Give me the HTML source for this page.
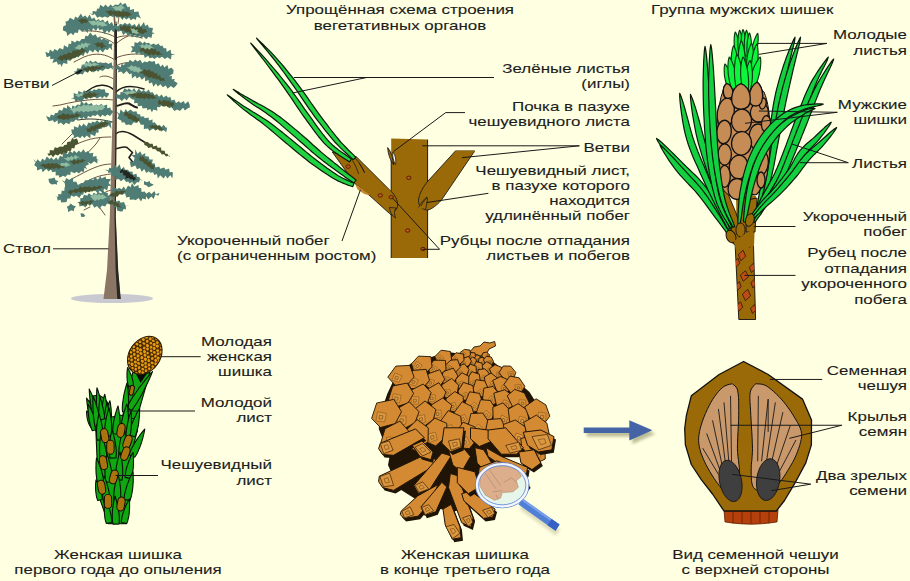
<!DOCTYPE html>
<html><head><meta charset="utf-8"><title>Сосна</title>
<style>
html,body{margin:0;padding:0;background:#ffffe1;}
svg{display:block}
text{font-family:"Liberation Sans",sans-serif;font-size:13px;fill:#1c1c1c;stroke:#1c1c1c;stroke-width:0.1px}
</style></head><body>
<svg width="910" height="581" viewBox="0 0 910 581">
<rect width="910" height="581" fill="#ffffe1"/>
<g id="tree">
<ellipse cx="112" cy="298.5" rx="41" ry="4.5" fill="#c9c9d1"/>
<path d="M115,37 C108,33 96,30 82,31" fill="none" stroke="#6e5546" stroke-width="1.0" stroke-linecap="round" stroke-linejoin="round"/>
<path d="M116,38 C122,35 132,35 142,38" fill="none" stroke="#6e5546" stroke-width="1.0" stroke-linecap="round" stroke-linejoin="round"/>
<path d="M115,44 C110,40 104,38 100,37" fill="none" stroke="#6e5546" stroke-width="1.0" stroke-linecap="round" stroke-linejoin="round"/>
<path d="M116,44 C120,40 124,38 128,36" fill="none" stroke="#6e5546" stroke-width="1.0" stroke-linecap="round" stroke-linejoin="round"/>
<path d="M115,60 C106,54 96,52 84,57 L74,62" fill="none" stroke="#6e5546" stroke-width="1.0" stroke-linecap="round" stroke-linejoin="round"/>
<path d="M116,58 C124,54 136,53 150,55" fill="none" stroke="#6e5546" stroke-width="1.0" stroke-linecap="round" stroke-linejoin="round"/>
<path d="M115,68 C108,63 102,62 96,65" fill="none" stroke="#6e5546" stroke-width="1.0" stroke-linecap="round" stroke-linejoin="round"/>
<path d="M116,66 C122,62 130,62 140,64" fill="none" stroke="#6e5546" stroke-width="1.0" stroke-linecap="round" stroke-linejoin="round"/>
<path d="M115,80 C110,76 104,75 100,77" fill="none" stroke="#6e5546" stroke-width="1.0" stroke-linecap="round" stroke-linejoin="round"/>
<path d="M113,100 C100,98 80,100 60,105 L53,106" fill="none" stroke="#6e5546" stroke-width="1.0" stroke-linecap="round" stroke-linejoin="round"/>
<path d="M113,122 C100,119 90,118 78,120" fill="none" stroke="#1e1e1c" stroke-width="0.9" stroke-linecap="round" stroke-linejoin="round"/>
<path d="M111,137 C100,137 90,138 77,144 L62,150" fill="none" stroke="#6e5546" stroke-width="1.0" stroke-linecap="round" stroke-linejoin="round"/>
<path d="M100,138 L96,144 L88.5,152" fill="none" stroke="#6e5546" stroke-width="1.0" stroke-linecap="round" stroke-linejoin="round"/>
<path d="M76,130 L70,136 L62,144" fill="none" stroke="#6e5546" stroke-width="1.0" stroke-linecap="round" stroke-linejoin="round"/>
<path d="M111,164 C100,164 90,169 70,180" fill="none" stroke="#6e5546" stroke-width="1.0" stroke-linecap="round" stroke-linejoin="round"/>
<path d="M111,174 C100,175 92,178 82,184" fill="none" stroke="#6e5546" stroke-width="1.0" stroke-linecap="round" stroke-linejoin="round"/>
<path d="M111,190 C104,192 98,196 92,204" fill="none" stroke="#6e5546" stroke-width="1.0" stroke-linecap="round" stroke-linejoin="round"/>
<path d="M84,210 L90,207" fill="none" stroke="#6e5546" stroke-width="1.0" stroke-linecap="round" stroke-linejoin="round"/>
<path d="M100,208 L105,215" fill="none" stroke="#6e5546" stroke-width="1.0" stroke-linecap="round" stroke-linejoin="round"/>
<path d="M114,90 C108,84 98,84 92,88 L84.5,93" fill="none" stroke="#1e1e1c" stroke-width="1.5" stroke-linecap="round" stroke-linejoin="round"/>
<path d="M116,92 C122,86 132,85 144,89" fill="none" stroke="#1e1e1c" stroke-width="1.5" stroke-linecap="round" stroke-linejoin="round"/>
<path d="M116,106 C120,106 124,102 129,103.5 C132,105 134,107 137,107.5" fill="none" stroke="#1e1e1c" stroke-width="2" stroke-linecap="round" stroke-linejoin="round"/>
<path d="M115.6,134 C120,130 126,131 133,135 L145,142.5" fill="none" stroke="#1e1e1c" stroke-width="1.5" stroke-linecap="round" stroke-linejoin="round"/>
<path d="M115.6,149 C120,148 124,146 127,147.5 L132.5,152.5 L129,157.5 L133.5,163" fill="none" stroke="#1e1e1c" stroke-width="1.6" stroke-linecap="round" stroke-linejoin="round"/>
<path d="M116,22 L116,40" fill="none" stroke="#1e1e1c" stroke-width="1.0" stroke-linecap="round" stroke-linejoin="round"/>
<path d="M114,12 L114.8,12 L117,40 L116.6,120 L115.6,217 L118,270 L120.5,299 L103.5,299 L107,270 L109.8,217 L112.4,120 L114,40 Z" fill="#8b7565"/>
<path d="M116,40 L116.9,40 L116.6,120 L115.8,217 L118.2,270 L120.8,299 L117.3,299 L115.6,270 L114.5,217 L115.4,120 Z" fill="#2a2826"/>
<path d="M114.4,24 L117,24 L117,60 L114.8,60Z" fill="#2a2826"/>
<path d="M119.5,12 L118,24" fill="none" stroke="#6e5546" stroke-width="0.9" stroke-linecap="round" stroke-linejoin="round"/>
<path d="M113.5,12 L114.5,24" fill="none" stroke="#6e5546" stroke-width="0.9" stroke-linecap="round" stroke-linejoin="round"/>
<path d="M89.3,13.1 L92.5,14.3 L92.7,10.9 L96.3,11.4 L97.3,8.5 L99.0,8.8 L100.3,4.7 L103.5,6.9 L105.4,4.5 L108.2,7.3 L110.5,4.4 L112.9,6.5 L115.1,4.5 L118.2,5.1 L120.8,2.3 L122.2,4.8 L125.4,3.1 L127.6,7.2 L129.7,6.6 L130.1,10.1 L134.0,8.9 L134.0,12.0 L138.6,11.5 L138.9,14.3 L140.9,18.5 L136.8,16.6 L135.6,19.9 L133.5,18.5 L130.6,20.3 L129.1,17.6 L126.5,19.4 L123.9,17.6 L122.5,20.0 L119.5,16.3 L116.9,17.9 L115.1,15.8 L112.6,16.9 L110.2,15.7 L107.8,17.8 L104.8,16.4 L102.2,17.8 L99.8,16.4 L97.2,17.8 L94.7,13.7 L92.8,15.3Z" fill="#4f7d75"/>
<path d="M131.9,14.9 L129.4,15.4 L127.5,17.3 L124.8,15.8 L122.6,18.1 L120.9,16.0 L118.9,16.9 L117.3,15.6 L114.9,16.6 L113.2,14.1 L110.4,15.9 L108.9,13.9 L105.2,11.3 L108.8,10.9 L110.9,9.9 L112.9,11.4 L115.5,10.3 L117.0,11.9 L119.2,10.6 L121.3,12.5 L123.2,10.7 L125.2,12.1 L128.0,11.4 L129.1,12.4Z" fill="#4b5432"/>
<path d="M125.3,8.2 L122.4,8.8 L121.0,11.2 L117.5,10.1 L115.6,10.7 L113.9,8.3 L110.4,7.8 L112.9,7.6 L115.5,5.9 L117.8,6.7 L121.2,4.3 L123.0,6.6Z" fill="#8fbca1"/>
<path d="M63.2,26.5 L66.0,25.1 L65.5,21.5 L68.0,21.1 L70.0,17.7 L74.0,20.0 L75.1,16.5 L77.8,18.0 L80.9,13.6 L82.8,16.9 L85.2,15.6 L87.5,17.9 L89.5,14.4 L91.8,19.1 L94.2,17.4 L96.0,20.7 L99.0,19.1 L100.0,21.3 L103.0,19.6 L104.9,22.4 L107.8,20.2 L109.1,24.2 L111.9,21.9 L113.7,26.0 L115.7,24.1 L117.9,26.6 L120.3,23.8 L122.8,24.7 L124.8,22.8 L127.2,24.6 L129.7,23.1 L131.8,25.7 L134.8,23.9 L136.4,26.9 L139.1,23.1 L140.6,26.7 L143.9,22.1 L145.2,26.1 L147.9,24.6 L148.7,27.5 L153.0,28.1 L152.1,32.2 L155.0,33.5 L152.4,33.8 L151.4,37.9 L148.4,36.7 L146.4,39.2 L143.2,36.5 L141.5,38.5 L140.0,35.9 L136.6,37.4 L135.0,34.9 L132.0,37.6 L130.3,34.3 L127.8,36.0 L126.0,32.8 L123.1,34.9 L121.5,30.7 L117.9,31.8 L115.6,29.1 L113.4,32.3 L111.3,29.8 L108.9,33.0 L107.1,30.3 L104.5,34.2 L102.2,29.2 L99.6,30.3 L98.0,27.6 L96.0,31.0 L93.1,27.9 L91.5,32.1 L88.6,29.1 L87.7,33.0 L84.5,29.8 L82.5,31.8 L78.9,29.2 L77.7,33.1 L74.9,32.4 L73.2,35.2 L71.0,33.0 L67.2,35.9 L66.5,32.1 L62.8,30.3Z" fill="#4f7d75"/>
<path d="M90.4,21.2 L88.3,21.6 L86.1,23.1 L84.6,22.5 L81.4,24.0 L80.2,22.1 L77.4,20.3 L80.0,19.5 L82.2,18.6 L83.5,19.0 L85.8,18.8 L87.3,20.2Z" fill="#4b5432"/>
<path d="M147.1,32.1 L144.6,32.8 L142.7,34.2 L140.0,33.1 L138.1,34.9 L136.2,33.4 L134.2,35.0 L132.8,33.2 L130.4,33.8 L128.7,31.7 L125.4,32.0 L124.3,30.3 L121.6,30.4 L120.0,29.2 L119.9,25.7 L121.9,26.7 L124.7,24.9 L126.6,26.5 L128.8,25.8 L131.3,27.6 L133.8,26.5 L134.8,27.7 L137.9,26.6 L138.6,28.1 L141.4,26.6 L142.5,29.4 L145.6,29.1Z" fill="#4b5432"/>
<path d="M107.8,25.8 L104.5,25.9 L102.1,26.8 L99.7,25.0 L97.8,26.7 L96.3,24.5 L93.6,25.7 L91.2,24.5 L88.0,20.7 L91.7,21.3 L93.7,20.6 L95.9,21.7 L98.8,20.4 L99.9,22.1 L102.7,21.6 L104.2,22.5Z" fill="#8fbca1"/>
<path d="M139.9,33.3 L138.2,33.4 L136.1,34.0 L133.8,33.0 L131.9,33.0 L131.7,30.9 L130.1,27.7 L132.4,29.0 L134.0,28.3 L135.2,30.3 L137.7,29.5 L137.2,31.8Z" fill="#8fbca1"/>
<path d="M45.3,51.8 L48.8,53.2 L50.0,49.4 L53.0,51.7 L54.4,48.9 L57.5,50.7 L59.5,48.1 L63.2,49.4 L64.0,45.2 L68.0,47.4 L68.6,43.7 L71.1,43.9 L71.5,40.6 L75.1,42.5 L76.8,40.5 L79.7,41.6 L81.5,38.9 L84.5,38.9 L85.4,35.8 L87.9,36.2 L90.2,32.6 L92.9,35.8 L95.5,34.3 L97.5,37.7 L99.6,36.7 L101.6,40.0 L104.1,37.8 L105.7,40.1 L109.3,40.6 L108.7,43.9 L112.5,43.6 L111.8,47.1 L112.3,50.4 L109.7,47.4 L107.3,50.3 L105.2,49.1 L102.9,52.4 L99.9,49.4 L98.3,52.8 L94.8,49.4 L93.1,52.5 L89.7,49.9 L87.6,54.1 L85.1,52.1 L83.5,55.9 L80.6,54.7 L78.4,57.4 L75.3,56.3 L74.2,58.7 L71.6,57.7 L70.5,60.9 L67.3,59.9 L67.4,64.1 L63.5,63.0 L61.2,67.1 L60.5,64.0 L58.0,64.7 L56.7,61.4 L52.4,63.1 L53.8,58.8 L50.2,59.3 L50.2,56.1 L46.7,57.3Z" fill="#4f7d75"/>
<path d="M87.2,50.9 L83.8,51.6 L83.7,53.1 L81.0,53.5 L80.4,55.5 L77.6,55.7 L75.4,57.9 L73.4,57.7 L71.2,59.7 L68.4,58.7 L66.1,60.6 L63.9,59.1 L61.7,61.7 L60.8,60.1 L56.6,59.0 L58.8,57.5 L59.9,55.4 L62.5,55.8 L64.1,54.0 L66.4,54.6 L68.7,52.2 L71.3,53.3 L73.3,50.2 L76.2,50.7 L77.9,49.0 L79.8,50.2 L81.7,47.6 L84.2,49.8Z" fill="#4b5432"/>
<path d="M91.3,43.8 L88.6,45.0 L87.7,47.5 L85.5,46.4 L83.9,48.7 L82.0,47.3 L80.4,49.5 L78.5,49.5 L74.3,48.1 L77.0,46.4 L78.6,44.4 L80.8,45.3 L81.5,42.8 L83.9,44.0 L85.8,42.3 L87.0,43.4Z" fill="#8fbca1"/>
<path d="M106.9,47.0 L103.8,46.8 L101.7,49.0 L99.6,45.9 L97.0,47.5 L96.1,45.0 L93.2,43.6 L96.3,43.5 L98.0,42.1 L100.1,43.3 L102.4,42.1 L103.6,44.5Z" fill="#4b5432"/>
<path d="M130.9,46.1 L134.3,46.6 L134.5,42.3 L137.7,43.1 L139.9,41.0 L142.8,43.8 L144.2,41.6 L146.4,43.2 L149.1,42.8 L150.6,45.0 L153.6,43.4 L156.0,45.0 L158.4,43.6 L160.3,46.0 L162.3,45.6 L163.8,48.3 L166.3,48.3 L166.7,52.0 L170.6,49.6 L171.1,53.6 L175.2,55.1 L171.6,55.1 L170.9,59.5 L167.4,57.3 L164.9,59.0 L162.1,56.8 L159.5,58.3 L157.2,57.0 L154.5,59.1 L152.5,57.4 L149.5,58.3 L148.2,55.8 L144.8,58.1 L143.6,53.8 L141.1,54.9 L139.2,52.6 L136.1,54.5 L135.1,51.7 L130.7,52.5 L132.6,48.9Z" fill="#4f7d75"/>
<path d="M163.2,55.1 L160.4,54.5 L157.7,55.5 L155.6,54.0 L153.5,55.5 L151.4,54.3 L148.8,55.4 L147.1,53.7 L144.8,53.4 L143.5,51.3 L140.2,51.5 L139.9,49.5 L142.1,46.9 L143.9,47.7 L145.7,45.8 L148.4,47.3 L150.8,46.9 L153.2,49.2 L155.8,49.0 L156.5,51.4 L159.3,51.3 L160.0,52.7Z" fill="#4b5432"/>
<path d="M154.2,48.3 L151.5,48.0 L149.4,49.8 L147.2,48.0 L145.2,49.6 L143.5,47.4 L141.5,48.3 L140.4,45.8 L138.2,44.8 L140.9,45.2 L142.7,44.3 L144.2,45.8 L146.3,43.8 L148.6,45.2 L150.3,44.0 L151.3,46.6Z" fill="#8fbca1"/>
<path d="M73.7,71.6 L76.3,71.2 L77.3,68.3 L80.8,68.7 L82.0,65.0 L84.3,64.4 L86.4,61.1 L88.4,63.1 L90.3,60.4 L92.8,62.5 L95.6,60.9 L98.2,62.9 L100.9,62.2 L103.1,64.1 L105.4,62.2 L108.2,63.9 L111.6,62.2 L112.3,66.1 L113.2,69.8 L110.8,67.8 L108.2,69.2 L105.5,68.5 L102.7,71.0 L100.0,69.8 L98.3,71.7 L95.8,70.1 L93.8,72.6 L89.9,69.7 L87.9,72.7 L84.8,71.2 L82.6,74.6 L80.1,73.8 L77.2,74.9Z" fill="#4f7d75"/>
<path d="M105.7,67.7 L102.2,67.3 L100.1,69.3 L97.0,68.9 L95.5,71.2 L93.3,70.6 L91.7,72.1 L89.6,70.2 L87.0,72.2 L85.1,69.9 L81.9,70.5 L82.3,70.5 L84.1,68.0 L86.7,68.1 L89.0,66.6 L91.1,67.3 L93.0,65.6 L94.7,66.5 L97.5,66.4 L99.3,66.9 L102.5,65.2Z" fill="#4b5432"/>
<path d="M99.8,64.5 L96.6,65.0 L94.3,66.2 L92.3,65.6 L90.4,66.8 L87.6,65.7 L85.6,66.9 L84.3,65.2 L80.4,64.9 L83.9,64.2 L85.9,62.4 L87.5,63.6 L89.6,62.3 L91.9,63.9 L94.2,62.5 L95.9,63.3Z" fill="#8fbca1"/>
<path d="M83.1,70.3 L81.6,70.9 L79.7,73.4 L77.5,73.8 L75.5,73.6 L76.0,72.8 L78.5,70.5 L81.1,69.6Z" fill="#1e1e1c"/>
<path d="M116.6,64.8 L120.6,67.2 L121.7,63.8 L124.0,65.3 L125.8,62.0 L128.3,62.4 L129.8,59.7 L133.0,61.9 L135.3,59.6 L137.4,61.5 L140.3,59.8 L142.2,63.2 L144.5,61.5 L147.2,62.3 L149.4,60.8 L151.9,61.7 L154.7,61.0 L155.6,64.5 L158.7,63.3 L160.5,66.7 L162.8,64.5 L164.3,67.6 L167.5,65.1 L168.6,69.3 L171.2,67.5 L173.6,70.0 L173.2,73.6 L169.0,76.3 L172.0,76.1 L171.7,79.2 L174.8,78.9 L174.1,81.0 L177.7,83.3 L175.8,86.0 L173.7,87.9 L170.9,86.1 L167.6,88.8 L165.8,85.6 L162.8,87.3 L160.4,84.3 L157.7,86.4 L156.1,83.6 L153.3,86.8 L152.0,82.5 L148.9,83.5 L148.7,80.0 L145.1,81.2 L145.0,76.9 L141.8,79.7 L139.7,76.4 L136.9,78.6 L135.2,75.8 L132.0,78.5 L131.6,73.2 L129.4,74.2 L126.7,71.1 L123.5,74.0 L121.2,71.5 L117.8,72.5 L118.6,70.0 L115.8,68.6Z" fill="#4f7d75"/>
<path d="M165.1,81.3 L162.3,80.5 L160.3,81.3 L158.5,78.9 L156.6,79.6 L154.5,78.2 L152.6,78.6 L151.6,77.2 L148.4,77.9 L146.7,76.1 L144.5,75.4 L142.6,73.5 L140.1,72.9 L139.7,71.0 L140.2,68.5 L142.4,70.8 L144.7,69.0 L146.7,70.7 L149.3,69.5 L151.0,71.4 L153.2,71.4 L154.9,73.5 L157.0,73.3 L157.8,75.9 L160.1,75.1 L161.0,78.2 L163.8,77.8Z" fill="#4b5432"/>
<path d="M143.1,71.1 L139.9,71.4 L138.7,73.1 L136.1,71.4 L133.9,72.1 L132.4,70.3 L131.1,71.1 L129.5,68.9 L126.9,67.4 L129.9,66.8 L131.7,65.1 L133.5,66.8 L135.9,66.0 L137.5,68.0 L138.9,66.7 L140.4,69.1Z" fill="#8fbca1"/>
<path d="M70.7,98.3 L73.8,97.8 L73.7,93.1 L77.6,94.6 L78.4,91.0 L82.6,92.7 L84.0,90.2 L86.8,92.3 L89.3,90.1 L92.2,90.9 L94.0,89.3 L96.2,90.1 L98.8,88.6 L101.2,89.6 L104.7,89.3 L105.5,92.6 L109.0,93.3 L108.7,95.0 L106.5,97.7 L104.2,95.9 L102.5,98.3 L100.3,96.6 L96.9,98.6 L94.4,96.6 L92.1,98.1 L89.3,96.9 L87.0,99.4 L84.3,98.3 L81.6,101.9 L78.4,100.4 L75.3,101.4 L74.5,99.1Z" fill="#4f7d75"/>
<path d="M99.7,93.5 L96.9,95.0 L94.9,96.9 L92.4,96.2 L90.6,98.4 L87.6,96.8 L86.0,98.7 L83.1,96.5 L79.3,96.0 L83.0,95.7 L84.4,93.2 L87.1,93.7 L89.7,92.1 L92.5,93.5 L94.3,92.2 L96.2,94.1Z" fill="#4b5432"/>
<path d="M85.5,94.1 L83.2,94.3 L82.0,96.3 L80.0,96.0 L78.8,97.5 L76.8,95.9 L74.6,95.3 L76.2,95.1 L78.3,93.3 L79.4,94.3 L81.7,92.7 L82.8,93.7Z" fill="#8fbca1"/>
<path d="M116.2,94.0 L120.2,95.1 L120.5,92.0 L122.5,92.2 L124.6,88.2 L127.2,89.9 L128.7,88.4 L132.0,90.7 L134.2,88.1 L136.3,92.0 L138.9,88.6 L141.4,91.8 L143.4,89.9 L146.0,92.0 L148.8,89.6 L150.2,92.4 L152.7,92.2 L154.6,95.3 L156.9,94.1 L159.0,96.8 L161.7,94.6 L163.6,97.6 L166.2,95.5 L168.2,97.7 L170.3,96.7 L171.5,100.4 L174.3,99.5 L176.0,103.0 L178.8,101.3 L180.7,103.1 L183.9,101.1 L185.0,104.0 L188.2,101.3 L189.6,104.5 L189.9,107.4 L188.1,108.0 L184.9,110.4 L183.1,107.8 L179.9,111.0 L177.2,109.6 L174.2,111.1 L171.7,107.2 L169.2,108.2 L166.9,105.8 L164.5,106.8 L161.6,105.4 L159.4,107.2 L157.0,107.0 L157.4,110.8 L153.4,109.4 L151.9,112.2 L150.2,109.1 L147.2,110.3 L146.9,108.0 L142.6,108.5 L141.9,105.7 L137.8,106.3 L137.6,103.1 L134.1,103.2 L134.3,99.6 L132.5,99.6 L129.1,97.1 L126.6,100.6 L124.5,98.2 L121.7,101.3 L119.7,98.7 L116.1,98.3Z" fill="#4f7d75"/>
<path d="M157.3,98.5 L154.9,98.2 L152.5,98.9 L150.5,97.7 L149.0,99.4 L146.3,97.4 L144.9,99.2 L142.5,98.1 L140.6,98.7 L139.0,98.0 L136.1,98.0 L135.1,96.2 L132.1,97.4 L130.9,95.0 L129.2,95.7 L127.5,94.1 L124.9,92.7 L127.2,92.5 L129.3,91.3 L131.7,92.5 L133.4,91.0 L135.7,92.9 L137.1,92.3 L139.5,93.2 L141.5,92.2 L143.1,94.3 L145.0,92.8 L147.4,94.0 L149.7,93.4 L150.9,95.1 L153.1,94.4 L154.2,96.2Z" fill="#4b5432"/>
<path d="M176.4,105.6 L173.6,105.1 L172.8,107.2 L170.2,105.7 L167.9,107.3 L166.0,105.6 L162.6,106.4 L160.9,104.1 L158.3,104.9 L158.1,102.1 L156.5,101.7 L157.8,102.1 L159.4,99.6 L161.7,101.7 L163.7,99.8 L166.6,100.7 L169.0,100.6 L170.9,102.6 L173.8,102.3 L174.0,104.7Z" fill="#4b5432"/>
<path d="M137.1,93.4 L134.4,92.9 L132.6,94.0 L129.8,93.8 L127.0,94.9 L124.8,93.2 L122.6,92.2 L124.9,92.1 L127.6,91.3 L130.0,91.6 L132.8,90.3 L135.1,91.8Z" fill="#8fbca1"/>
<path d="M46.0,115.9 L49.9,117.4 L50.8,114.5 L53.9,115.6 L55.2,113.1 L57.5,113.0 L59.1,109.7 L62.1,110.8 L63.6,107.2 L66.8,108.4 L67.3,105.0 L71.7,108.9 L72.4,105.4 L75.2,106.7 L77.4,104.6 L80.2,105.1 L81.2,100.7 L84.0,103.9 L86.1,101.9 L88.5,104.6 L91.5,103.0 L93.3,106.1 L96.4,104.5 L99.0,105.8 L101.3,103.7 L103.0,106.1 L107.1,104.6 L107.2,108.3 L110.6,107.5 L110.7,109.4 L113.5,111.8 L112.7,112.4 L110.0,116.0 L107.2,114.5 L105.2,116.5 L102.4,114.7 L100.4,117.3 L97.5,114.3 L95.4,115.9 L92.5,115.2 L90.9,117.3 L88.0,116.1 L86.5,119.5 L83.3,117.1 L82.3,118.9 L78.9,117.2 L77.7,120.5 L76.0,119.5 L73.2,122.1 L70.9,121.5 L69.2,124.3 L66.2,122.7 L63.5,125.0 L60.9,122.6 L58.0,124.2 L57.5,120.2 L54.3,122.5 L53.0,120.2 L48.6,121.2Z" fill="#4f7d75"/>
<path d="M105.7,107.2 L104.2,107.9 L102.0,110.2 L99.2,109.8 L97.1,111.5 L94.1,110.3 L91.9,111.6 L90.3,110.9 L88.1,112.1 L85.7,110.9 L83.8,112.6 L81.4,110.8 L79.5,112.0 L76.9,111.0 L73.7,113.4 L72.4,110.9 L69.6,109.1 L72.4,108.9 L74.4,107.1 L76.6,108.1 L78.4,105.6 L81.5,106.6 L83.7,104.3 L86.0,105.8 L87.9,104.8 L89.4,105.7 L91.8,105.2 L94.1,106.1 L96.3,104.8 L99.0,106.3 L102.2,104.6 L103.8,106.2Z" fill="#8fbca1"/>
<path d="M82.2,115.9 L79.3,115.8 L76.9,117.2 L75.0,117.2 L72.2,118.5 L70.7,117.7 L68.1,119.9 L66.1,118.7 L63.7,120.2 L61.7,119.0 L58.8,119.1 L57.4,117.6 L53.7,117.3 L56.6,117.1 L59.0,114.9 L61.5,114.9 L62.9,113.1 L66.1,114.8 L67.9,113.5 L70.3,115.2 L72.0,113.9 L74.6,115.0 L76.4,112.8 L78.8,114.2Z" fill="#4b5432"/>
<path d="M116.5,111.3 L119.5,113.9 L120.6,109.3 L123.7,112.8 L125.9,108.9 L127.4,111.7 L130.5,109.5 L133.1,111.8 L136.4,111.2 L137.6,114.2 L140.1,114.3 L140.5,116.6 L144.0,116.4 L144.7,118.3 L148.5,117.5 L149.0,120.4 L152.6,119.5 L152.5,122.7 L154.8,122.3 L157.5,125.9 L159.4,124.8 L161.6,126.9 L163.7,124.8 L165.7,127.5 L170.8,128.3 L167.1,127.8 L166.2,132.2 L163.6,130.0 L161.2,131.4 L158.4,128.8 L155.4,130.6 L153.1,128.5 L149.4,131.0 L147.9,128.5 L143.8,129.1 L143.9,124.7 L140.7,124.7 L138.7,120.6 L136.3,123.0 L133.6,122.3 L131.4,125.3 L128.6,124.6 L125.9,125.0 L124.5,122.3 L121.5,122.6 L121.5,120.7 L117.3,118.6 L118.7,115.6Z" fill="#4f7d75"/>
<path d="M141.2,121.5 L138.8,120.7 L137.0,122.7 L135.6,121.0 L133.1,121.0 L131.3,119.3 L128.1,118.8 L127.0,116.1 L124.2,116.0 L124.8,114.1 L122.7,112.5 L124.5,112.7 L126.8,111.5 L128.9,113.7 L131.1,113.2 L132.6,115.5 L135.0,115.2 L136.9,117.9 L139.5,118.5 L139.1,120.5Z" fill="#4b5432"/>
<path d="M164.5,130.2 L161.1,129.6 L159.5,130.7 L157.3,128.7 L155.8,130.6 L154.4,127.9 L152.4,128.5 L150.3,127.3 L148.5,125.6 L150.8,126.1 L152.2,124.8 L154.7,125.8 L156.8,124.8 L157.7,126.1 L159.9,126.0 L161.6,128.1Z" fill="#4b5432"/>
<path d="M71.2,129.4 L74.0,129.5 L73.8,126.2 L78.1,127.8 L79.2,123.9 L81.7,126.4 L83.4,123.4 L86.6,126.4 L88.4,122.5 L91.2,123.5 L92.5,121.4 L95.0,122.4 L97.1,120.3 L99.6,122.7 L101.7,120.7 L103.7,122.5 L106.5,119.7 L108.8,121.5 L113.0,121.2 L110.7,123.5 L111.5,129.0 L108.7,125.2 L106.2,127.3 L103.1,126.3 L101.6,128.8 L98.6,128.8 L98.5,132.8 L96.2,132.5 L95.0,136.3 L90.6,134.1 L90.3,138.6 L86.8,135.4 L84.4,137.9 L82.2,135.7 L80.2,138.3 L77.8,136.5 L73.0,138.7 L74.2,135.8 L72.0,133.8Z" fill="#4f7d75"/>
<path d="M108.9,123.8 L105.2,125.3 L104.6,127.4 L101.2,127.1 L99.7,128.7 L96.8,128.4 L94.9,131.1 L92.2,130.3 L90.7,132.3 L87.4,132.0 L86.2,128.6 L89.6,128.4 L91.1,126.1 L93.4,126.4 L95.6,124.5 L97.6,124.8 L100.0,122.4 L102.4,122.8 L104.6,121.3Z" fill="#4b5432"/>
<path d="M47.3,153.4 L49.5,153.5 L49.9,150.1 L53.6,150.4 L54.8,147.2 L57.2,147.9 L60.0,146.6 L63.1,146.7 L64.4,145.1 L66.7,144.8 L67.3,142.1 L70.6,141.5 L72.3,137.8 L73.7,139.5 L76.8,138.4 L77.8,140.5 L78.4,143.4 L75.2,145.0 L74.4,148.4 L71.8,148.1 L70.8,151.3 L67.8,150.7 L67.0,153.6 L63.5,152.7 L62.1,155.1 L60.1,153.6 L58.0,155.6 L55.2,154.4 L53.0,157.3 L51.1,154.8 L48.9,155.9Z" fill="#4b5432"/>
<path d="M142.6,139.6 L144.1,141.7 L147.8,142.1 L149.6,143.8 L152.7,143.8 L153.3,146.6 L156.7,145.5 L157.6,147.8 L161.1,147.5 L161.3,150.6 L164.7,150.8 L165.3,153.7 L167.4,153.7 L168.8,156.3 L170.3,157.2 L169.1,155.4 L166.0,156.5 L164.1,154.2 L161.8,154.4 L159.8,151.7 L157.4,151.2 L155.2,148.9 L152.8,149.2 L151.5,147.3 L148.3,147.9 L146.9,146.0 L144.4,145.1 L143.9,141.8Z" fill="#4b5432"/>
<path d="M33.1,159.0 L35.6,162.8 L37.4,159.3 L40.4,162.1 L42.4,158.4 L44.8,160.5 L46.8,156.5 L49.8,159.3 L51.1,157.3 L53.7,160.0 L56.3,157.3 L58.0,159.9 L60.1,155.7 L62.6,157.1 L63.3,152.0 L67.7,154.2 L69.6,150.8 L72.6,152.9 L73.9,150.6 L76.7,153.0 L78.8,150.6 L80.9,152.4 L83.6,149.2 L85.3,152.6 L88.0,150.9 L89.9,153.4 L93.3,152.7 L92.7,156.7 L96.5,156.1 L96.7,158.9 L100.4,161.0 L97.4,159.7 L97.4,163.4 L94.2,161.2 L90.9,164.0 L87.3,161.7 L89.1,164.3 L85.4,166.0 L87.1,169.3 L84.4,167.8 L83.8,172.1 L81.1,171.2 L78.9,173.4 L76.6,171.8 L74.6,173.2 L70.7,171.4 L70.3,175.0 L67.6,174.6 L65.3,176.9 L63.3,175.7 L59.4,177.7 L58.7,175.3 L55.7,175.4 L55.6,171.5 L52.6,172.3 L50.8,169.4 L48.5,171.5 L46.3,168.8 L42.7,172.2 L41.5,168.8 L37.1,170.5 L36.9,166.9 L34.2,165.2 L35.8,161.6Z" fill="#4f7d75"/>
<path d="M64.3,168.0 L61.1,167.5 L58.4,168.9 L56.2,167.5 L53.8,169.3 L52.4,168.0 L50.0,169.4 L47.5,168.1 L45.6,168.9 L43.1,166.6 L39.5,165.9 L40.9,165.2 L43.7,163.5 L46.1,164.6 L48.5,162.7 L50.2,163.9 L52.2,163.1 L54.7,163.7 L56.4,163.0 L58.7,165.0 L61.9,164.4Z" fill="#4b5432"/>
<path d="M86.0,161.0 L83.7,161.1 L82.0,163.1 L79.8,162.2 L78.5,164.0 L76.3,163.2 L73.9,165.1 L72.2,163.3 L69.5,161.2 L72.3,161.3 L73.7,159.2 L76.1,160.9 L78.0,159.6 L80.1,160.4 L82.1,158.9 L83.7,159.6Z" fill="#4b5432"/>
<path d="M80.1,157.2 L77.2,157.8 L75.9,159.4 L74.0,158.3 L72.2,160.6 L70.2,159.4 L68.8,161.2 L66.6,160.2 L63.2,157.5 L66.2,158.2 L67.7,156.7 L69.8,157.4 L71.3,155.7 L73.7,157.5 L75.0,154.8 L76.9,156.3Z" fill="#8fbca1"/>
<path d="M70.7,165.3 L68.5,165.7 L66.0,166.9 L64.1,165.5 L61.8,166.2 L60.1,165.1 L58.3,164.8 L59.9,165.1 L61.5,162.8 L64.2,163.3 L66.5,162.2 L68.5,163.8Z" fill="#8fbca1"/>
<path d="M135.2,149.2 L137.6,153.9 L140.3,151.2 L142.0,154.9 L145.4,152.9 L145.1,156.2 L148.7,156.4 L149.4,159.4 L152.9,159.6 L152.0,163.3 L154.7,163.5 L155.5,167.4 L159.1,166.5 L160.3,168.7 L164.0,167.6 L165.7,169.7 L169.2,168.5 L169.6,172.3 L172.2,172.1 L172.9,173.0 L172.4,178.4 L170.4,175.3 L167.3,178.5 L165.7,175.4 L163.5,178.6 L160.3,175.3 L157.8,178.5 L157.0,174.1 L154.3,174.9 L153.1,172.2 L150.4,172.8 L148.7,171.3 L146.3,173.0 L144.2,169.1 L141.6,171.8 L140.0,168.0 L137.0,169.2 L135.4,165.4 L131.0,167.3 L130.7,165.7 L129.7,161.6 L133.1,161.7 L133.8,161.0 L134.6,157.7 L131.0,154.7 L135.1,155.0Z" fill="#4f7d75"/>
<path d="M154.1,170.0 L153.1,168.9 L151.1,169.1 L149.4,166.9 L147.5,166.2 L146.0,164.2 L143.8,163.6 L142.9,161.4 L139.0,160.3 L139.5,158.0 L140.0,155.4 L140.8,157.0 L143.4,156.5 L144.8,158.9 L147.3,159.2 L148.0,161.6 L151.0,162.0 L151.4,164.8 L154.9,165.5 L153.8,168.1Z" fill="#4b5432"/>
<path d="M104.7,169.7 L108.0,171.2 L109.4,167.7 L112.4,168.5 L114.9,164.2 L116.7,167.7 L119.6,164.3 L121.2,169.5 L123.9,166.7 L125.0,169.8 L127.8,169.8 L129.7,171.8 L132.5,171.4 L132.8,174.7 L136.5,173.8 L137.0,176.8 L139.4,176.9 L140.4,179.9 L142.8,180.5 L140.1,179.1 L139.1,182.4 L137.1,182.1 L134.2,185.3 L132.1,181.8 L129.8,183.6 L128.1,181.4 L126.2,182.0 L123.8,179.0 L120.9,181.3 L118.8,179.0 L115.0,179.7 L115.3,176.0 L111.9,176.5 L111.5,172.5 L108.3,173.1 L107.8,169.9Z" fill="#4f7d75"/>
<path d="M137.7,180.3 L135.7,179.0 L133.2,181.0 L132.5,178.9 L130.3,179.6 L128.9,177.8 L125.2,178.8 L125.9,175.4 L123.4,175.6 L123.0,172.6 L119.9,173.1 L120.1,170.8 L118.1,169.0 L120.7,170.7 L122.2,168.6 L123.6,170.5 L126.3,170.2 L127.9,172.1 L129.4,172.3 L130.6,174.5 L132.2,174.5 L133.8,177.0 L135.9,177.5 L135.2,179.4Z" fill="#23271f"/>
<path d="M144.0,181.0 L146.8,182.2 L149.6,180.9 L150.2,183.1 L153.9,184.7 L151.5,185.9 L148.4,187.2 L146.6,185.5 L144.0,184.4Z" fill="#4f7d75"/>
<path d="M48.4,178.8 L51.6,178.6 L54.5,177.4 L55.6,180.3 L58.6,180.9 L56.9,182.6 L56.9,184.8 L55.0,183.9 L52.7,184.6 L50.8,184.0 L49.1,182.2Z" fill="#4f7d75"/>
<path d="M61.8,180.1 L64.8,181.8 L66.1,177.9 L69.3,180.0 L72.9,177.5 L73.3,181.9 L76.1,181.4 L78.0,185.0 L81.3,183.0 L83.1,183.2 L85.5,180.0 L88.5,180.7 L90.5,178.7 L93.3,180.0 L94.9,177.1 L97.9,179.8 L100.4,175.8 L101.5,178.5 L105.5,176.4 L106.2,179.1 L110.9,178.9 L108.6,182.9 L111.5,186.3 L108.2,185.8 L107.2,190.5 L104.0,188.5 L103.1,192.9 L99.6,190.7 L97.7,193.3 L94.6,190.1 L92.1,191.7 L89.0,190.2 L86.8,191.9 L84.0,191.4 L83.2,194.8 L81.4,194.4 L79.4,197.9 L76.3,195.6 L74.0,196.7 L71.0,195.6 L70.4,198.6 L67.4,198.5 L66.6,201.9 L64.0,202.2 L61.3,202.5 L60.3,199.6 L57.7,200.7 L56.9,196.7 L54.4,195.5 L58.2,196.9 L58.3,193.9 L61.2,194.2 L61.8,190.6 L64.2,191.1 L64.7,187.0 L67.8,188.1 L65.1,187.7 L64.9,183.6Z" fill="#4f7d75"/>
<path d="M104.8,187.6 L102.2,187.2 L99.8,189.0 L97.3,188.7 L94.7,190.7 L92.1,190.3 L89.4,192.3 L87.0,191.6 L85.7,193.3 L83.2,191.3 L80.8,192.9 L78.5,191.4 L76.5,193.3 L73.2,191.9 L70.5,195.0 L68.7,192.7 L66.0,191.6 L68.4,191.8 L70.4,189.8 L72.8,190.4 L75.4,188.5 L77.9,189.3 L80.7,186.0 L82.2,187.8 L84.7,186.4 L87.2,187.1 L89.1,186.2 L91.9,187.7 L93.9,186.0 L96.8,187.0 L99.5,185.5 L101.9,186.4Z" fill="#4b5432"/>
<path d="M114.0,187.0 L117.3,189.1 L119.1,187.7 L121.6,189.3 L123.9,186.4 L125.6,189.7 L128.1,185.6 L130.7,187.3 L131.9,183.1 L134.3,186.7 L138.4,185.0 L138.8,188.1 L141.1,188.1 L141.6,192.0 L144.7,191.4 L146.2,193.7 L149.2,191.8 L151.4,193.9 L154.4,190.9 L155.9,194.4 L158.2,193.3 L159.4,193.0 L158.3,195.7 L155.4,194.6 L153.6,199.0 L151.4,196.6 L148.2,199.4 L146.2,196.2 L145.7,199.5 L142.4,198.5 L141.1,201.4 L138.5,198.1 L135.6,200.3 L134.0,199.6 L129.7,199.8 L129.7,196.7 L126.3,197.5 L125.0,193.3 L122.0,195.1 L119.4,192.4 L117.4,195.7 L115.1,194.8 L113.2,199.1 L110.4,197.2 L106.2,196.3 L109.4,196.7 L109.9,193.7 L112.9,193.8 L112.0,189.6Z" fill="#4f7d75"/>
<path d="M126.4,190.8 L124.2,192.2 L122.1,194.5 L119.3,194.3 L117.3,197.0 L114.8,195.7 L113.1,196.8 L110.7,195.7 L107.2,195.9 L110.3,194.7 L112.1,192.7 L114.3,193.0 L116.0,190.4 L118.8,191.5 L121.0,190.4 L123.8,191.0Z" fill="#4b5432"/>
<path d="M77.2,202.5 L80.3,201.6 L80.2,198.2 L82.8,198.1 L84.0,194.7 L87.2,195.8 L88.8,193.3 L92.1,195.7 L93.7,192.8 L96.4,194.3 L98.1,192.0 L101.2,193.5 L103.1,190.5 L104.8,192.6 L107.9,192.9 L107.8,196.0 L110.1,196.2 L110.3,200.8 L113.1,199.5 L115.6,201.7 L119.2,200.4 L120.7,202.7 L124.0,202.1 L125.5,205.7 L130.1,205.7 L125.8,205.6 L126.0,209.6 L123.8,208.8 L122.4,211.6 L120.6,211.5 L117.1,210.5 L116.4,206.2 L113.2,208.7 L112.6,204.1 L109.9,204.4 L107.0,203.4 L105.2,206.6 L102.0,205.4 L99.4,208.9 L97.1,206.1 L94.3,207.7 L91.9,203.4 L89.8,205.9 L87.5,203.8 L85.5,207.6 L82.9,205.6 L79.5,206.5 L79.0,203.3Z" fill="#4f7d75"/>
<path d="M107.0,197.6 L104.8,198.3 L102.8,199.4 L100.4,198.7 L98.9,200.6 L97.1,199.3 L95.2,200.9 L93.1,199.5 L90.2,196.2 L93.4,195.0 L95.1,193.7 L97.6,195.3 L99.2,193.6 L100.8,195.2 L102.8,193.9 L103.8,195.3Z" fill="#8fbca1"/>
<path d="M94.0,202.0 L92.3,201.7 L90.8,204.4 L88.1,203.0 L86.6,206.1 L84.5,204.2 L82.8,205.6 L80.9,203.9 L78.4,202.1 L80.6,202.8 L82.2,200.8 L84.7,201.9 L86.5,200.8 L88.2,201.7 L90.2,200.3 L92.0,200.5Z" fill="#4b5432"/>
<path d="M122.3,207.9 L119.2,207.1 L117.4,207.3 L115.9,205.4 L114.2,206.3 L113.0,204.1 L110.5,204.6 L109.5,203.0 L107.1,200.6 L109.8,201.3 L112.6,199.3 L113.4,202.2 L116.0,201.5 L117.0,203.6 L118.7,203.1 L119.3,205.5Z" fill="#4b5432"/>
<path d="M66.7,206.8 L68.9,205.7 L70.7,203.5 L72.8,205.3 L76.1,206.5 L74.3,208.3 L73.8,211.3 L71.5,210.3 L68.0,212.1 L67.9,208.9Z" fill="#4f7d75"/>
<path d="M80.5,213.3 L83.3,213.4 L85.3,215.8 L83.8,216.9 L81.1,216.8Z" fill="#4f7d75"/>
<path d="M52,85.5 L81,70.5" stroke="#1a1a1a" stroke-width="1"/>
<path d="M53,248.8 L108.5,248.8" stroke="#1a1a1a" stroke-width="1"/>
</g>
<g id="veg">
<path d="M332.3,152 L351,159 L356,156.4 L391.2,191.5 C396,196 399,203 396,209 L392,216 L389.5,213.5 L371,196.8 L354.3,182.7 Z" fill="#9a6a08" stroke="#1a1a1a" stroke-width="0.9" stroke-linejoin="round"/>
<path d="M354.3,182.7 L361,188 L370,195 L364.8,194.2 L357.8,189.8 Z" fill="#c4872a"/>
<path d="M391.2,138.4 L427.6,139.6 L427.6,258 L391.2,258 Z" fill="#9a6a08"/>
<path d="M427.6,139.6 L427.6,182" fill="none" stroke="#1a1a1a" stroke-width="1.0"/>
<path d="M427.6,208 L427.6,258" fill="none" stroke="#1a1a1a" stroke-width="1.0"/>
<path d="M391.2,160 L391.2,193" fill="none" stroke="#1a1a1a" stroke-width="1.0"/>
<path d="M391.2,214 L391.2,258" fill="none" stroke="#1a1a1a" stroke-width="1.0"/>
<path d="M385,186 L392,192 L397,200 L396,209 L390,212 L380,204 Z" fill="#9a6a08"/>
<path d="M391.2,191.5 C396,196 399,203 397,208 C396,211 394,212 392,210" fill="none" stroke="#1a1a1a" stroke-width="0.9"/>
<path d="M389.5,207.5 C390,212 392,216 395.6,218 C394,214 394,211 396,208 Z" fill="#9a6a08" stroke="#1a1a1a" stroke-width="0.8"/>
<path d="M455.4,151 L474.7,151 L441.3,200.3 C437,205 432,209 428,210 C422,210 418.5,206 418.5,200.3 C419,194 423,187 428,181 Z" fill="#9a6a08" stroke="#1a1a1a" stroke-width="0.9" stroke-linejoin="round"/>
<path d="M455.4,151.5 L474.7,151.5" stroke="#9a6a08" stroke-width="1.6"/>
<path d="M418.5,207.5 C421,203 424,199 427,197 C428,199 427,204 425.5,209" fill="#9a6a08" stroke="#1a1a1a" stroke-width="0.8"/>
<path d="M421,206 C423,202 425,199.5 427,198" fill="none" stroke="#1a1a1a" stroke-width="0.7"/>
<path d="M387.7,147.6 C388,154 390,160 393.8,165 C393,159 391.5,152 387.7,147.6 Z" fill="#9a6a08" stroke="#1a1a1a" stroke-width="0.9"/>
<path d="M393,152 C392,156 393.5,161 395.6,164.5 C396.2,160 395.5,155 393,152 Z" fill="#ffffff" stroke="#1a1a1a" stroke-width="0.8"/>
<path d="M352.5,160.5 C355,164 357,169 358.6,174" fill="none" stroke="#1a1a1a" stroke-width="0.8"/>
<path d="M355.5,158.5 C359,162 362,167 364.8,173" fill="none" stroke="#1a1a1a" stroke-width="0.8"/>
<path d="M359,163 C361,166 363,169 364,172" fill="none" stroke="#1a1a1a" stroke-width="0.8"/>
<ellipse cx="408.8" cy="177.8" rx="2.2" ry="1.7" fill="#c05a1c" stroke="#5a1c04" stroke-width="1.0"/>
<ellipse cx="380.3" cy="195.4" rx="2.2" ry="1.7" fill="#c05a1c" stroke="#5a1c04" stroke-width="1.0"/>
<ellipse cx="391.2" cy="197.2" rx="2.2" ry="1.7" fill="#c05a1c" stroke="#5a1c04" stroke-width="1.0"/>
<ellipse cx="348.1" cy="166.6" rx="2.2" ry="1.7" fill="#c05a1c" stroke="#5a1c04" stroke-width="1.0"/>
<ellipse cx="407.7" cy="230.5" rx="2.2" ry="1.7" fill="#c05a1c" stroke="#5a1c04" stroke-width="1.0"/>
<ellipse cx="423" cy="249" rx="2.2" ry="1.7" fill="#c05a1c" stroke="#5a1c04" stroke-width="1.0"/>
<path d="M250.7,43.2 L251.8,44.7 L253.3,46.6 L255.0,48.9 L257.0,51.5 L259.1,54.2 L261.4,57.1 L263.6,60.0 L265.9,63.0 L268.1,66.0 L270.5,69.1 L272.9,72.4 L275.4,75.8 L278.0,79.2 L280.5,82.7 L283.1,86.3 L285.6,89.8 L288.0,93.3 L290.5,97.0 L293.0,100.7 L295.5,104.5 L298.0,108.2 L300.6,112.0 L303.1,115.6 L305.7,119.2 L308.2,122.7 L310.8,126.2 L313.3,129.7 L315.9,133.1 L318.5,136.5 L321.1,139.7 L323.8,142.8 L326.6,145.6 L329.6,148.3 L332.8,150.9 L336.2,153.3 L339.5,155.5 L342.6,157.6 L345.4,159.3 L347.8,160.8 L349.5,161.9 L351.5,159.1 L349.8,157.8 L347.5,156.2 L344.8,154.3 L341.8,152.2 L338.6,150.0 L335.5,147.5 L332.5,145.0 L329.8,142.4 L327.3,139.7 L324.8,136.7 L322.3,133.5 L319.8,130.2 L317.3,126.8 L314.8,123.3 L312.3,119.7 L309.7,116.2 L307.2,112.7 L304.6,109.1 L302.1,105.4 L299.5,101.7 L296.9,98.0 L294.3,94.3 L291.7,90.7 L289.0,87.2 L286.4,83.8 L283.6,80.4 L280.9,77.0 L278.2,73.6 L275.4,70.4 L272.8,67.3 L270.2,64.3 L267.7,61.4 L265.3,58.7 L262.8,55.9 L260.3,53.2 L257.9,50.7 L255.7,48.3 L253.7,46.2 L252.0,44.5 L250.7,43.2Z" fill="#1fd23f" stroke="#0a1a0a" stroke-width="1.2" stroke-linejoin="round"/>
<path d="M256.5,38.2 L257.8,39.9 L259.7,42.1 L261.8,44.7 L264.3,47.5 L266.9,50.6 L269.5,53.8 L272.1,57.0 L274.6,60.1 L276.9,63.2 L279.4,66.4 L281.8,69.6 L284.3,73.0 L286.7,76.4 L289.2,79.9 L291.7,83.4 L294.2,86.9 L296.7,90.5 L299.2,94.1 L301.7,97.8 L304.2,101.6 L306.8,105.4 L309.3,109.1 L311.9,112.7 L314.5,116.3 L317.1,119.8 L319.7,123.2 L322.4,126.7 L325.0,130.1 L327.7,133.4 L330.3,136.6 L332.8,139.6 L335.3,142.5 L337.9,145.2 L340.5,147.9 L343.1,150.4 L345.7,152.8 L348.0,155.0 L350.2,156.9 L351.9,158.5 L353.3,159.7 L355.7,157.3 L354.4,155.9 L352.7,154.2 L350.7,152.2 L348.4,150.0 L346.0,147.5 L343.5,144.9 L341.0,142.3 L338.7,139.5 L336.3,136.7 L333.9,133.7 L331.4,130.5 L328.8,127.2 L326.3,123.7 L323.7,120.3 L321.1,116.8 L318.5,113.3 L316.0,109.8 L313.4,106.2 L310.8,102.5 L308.3,98.8 L305.7,95.1 L303.0,91.4 L300.4,87.8 L297.8,84.3 L295.2,80.9 L292.5,77.4 L289.8,74.1 L287.2,70.8 L284.5,67.5 L281.9,64.4 L279.2,61.3 L276.6,58.3 L273.9,55.4 L271.1,52.4 L268.1,49.4 L265.3,46.6 L262.6,43.9 L260.2,41.6 L258.1,39.7 L256.5,38.2Z" fill="#1fd23f" stroke="#0a1a0a" stroke-width="1.2" stroke-linejoin="round"/>
<path d="M233.2,89.4 L234.3,90.3 L235.7,91.5 L237.4,92.9 L239.4,94.4 L241.5,96.1 L243.8,97.8 L246.1,99.6 L248.5,101.3 L251.0,103.1 L253.7,104.9 L256.5,106.7 L259.5,108.6 L262.4,110.6 L265.4,112.6 L268.3,114.7 L271.2,116.8 L274.0,119.0 L276.8,121.3 L279.7,123.6 L282.5,126.1 L285.4,128.6 L288.3,131.1 L291.2,133.6 L294.1,136.1 L297.0,138.6 L299.9,141.2 L302.9,143.8 L305.9,146.5 L308.9,149.1 L311.8,151.7 L314.7,154.1 L317.6,156.5 L320.4,158.7 L323.1,160.9 L325.9,163.0 L328.5,165.0 L331.2,167.0 L333.7,168.8 L336.1,170.6 L338.5,172.3 L340.8,174.0 L343.1,175.6 L345.3,177.2 L347.5,178.7 L349.5,180.0 L351.3,181.2 L352.8,182.2 L353.9,183.0 L356.1,180.0 L355.0,179.2 L353.6,178.0 L351.9,176.7 L350.0,175.3 L347.9,173.7 L345.7,172.0 L343.5,170.2 L341.3,168.5 L339.1,166.7 L336.8,164.8 L334.3,162.9 L331.8,160.8 L329.2,158.8 L326.6,156.6 L323.9,154.4 L321.2,152.1 L318.5,149.7 L315.7,147.2 L312.8,144.7 L309.9,142.0 L306.9,139.3 L303.9,136.7 L300.9,134.1 L297.9,131.5 L295.0,129.1 L292.0,126.6 L289.1,124.2 L286.1,121.8 L283.1,119.4 L280.1,117.1 L277.0,114.9 L274.0,112.8 L270.9,110.8 L267.8,108.9 L264.6,107.1 L261.4,105.3 L258.3,103.7 L255.4,102.1 L252.5,100.6 L249.9,99.1 L247.4,97.6 L244.9,96.2 L242.4,94.7 L240.1,93.4 L238.0,92.1 L236.1,91.0 L234.5,90.1 L233.2,89.4Z" fill="#1fd23f" stroke="#0a1a0a" stroke-width="1.2" stroke-linejoin="round"/>
<path d="M227.3,94.9 L228.4,96.0 L229.8,97.3 L231.5,98.9 L233.5,100.7 L235.6,102.6 L237.9,104.6 L240.2,106.6 L242.6,108.6 L245.1,110.6 L247.8,112.6 L250.6,114.7 L253.6,116.8 L256.5,118.9 L259.5,121.1 L262.5,123.3 L265.3,125.6 L268.2,127.9 L271.0,130.2 L273.8,132.6 L276.7,135.1 L279.6,137.6 L282.5,140.0 L285.4,142.5 L288.3,144.9 L291.2,147.3 L294.1,149.7 L297.1,152.2 L300.0,154.6 L303.0,157.0 L305.9,159.3 L308.9,161.7 L311.9,163.9 L314.9,166.1 L318.0,168.3 L321.1,170.4 L324.2,172.6 L327.3,174.6 L330.3,176.5 L333.1,178.2 L335.8,179.7 L338.4,181.1 L341.0,182.3 L343.5,183.4 L345.9,184.3 L348.0,185.1 L349.9,185.7 L351.5,186.2 L352.7,186.7 L354.1,183.3 L352.9,182.8 L351.3,182.1 L349.5,181.3 L347.4,180.4 L345.2,179.4 L342.9,178.3 L340.6,177.0 L338.2,175.7 L335.7,174.1 L333.0,172.3 L330.2,170.3 L327.2,168.2 L324.3,166.0 L321.2,163.8 L318.2,161.5 L315.3,159.3 L312.5,157.1 L309.6,154.8 L306.7,152.4 L303.8,150.0 L300.9,147.5 L298.0,145.1 L295.0,142.7 L292.1,140.3 L289.2,137.9 L286.2,135.5 L283.3,133.1 L280.3,130.8 L277.3,128.4 L274.3,126.1 L271.3,123.8 L268.3,121.6 L265.2,119.5 L262.0,117.5 L258.9,115.5 L255.7,113.5 L252.6,111.7 L249.7,109.8 L246.8,108.1 L244.2,106.4 L241.6,104.7 L239.1,103.0 L236.6,101.3 L234.3,99.7 L232.2,98.2 L230.2,96.8 L228.6,95.7 L227.3,94.9Z" fill="#1fd23f" stroke="#0a1a0a" stroke-width="1.2" stroke-linejoin="round"/>
<path d="M494,77.5 L294,77.5" fill="none" stroke="#1a1a1a" stroke-width="1.0"/>
<path d="M366.7,77.5 L292.5,93" fill="none" stroke="#1a1a1a" stroke-width="1.0"/>
<path d="M465,112.6 L445.7,112.6 L393.5,151.5" fill="none" stroke="#1a1a1a" stroke-width="1.0"/>
<path d="M579.4,145.8 L422.4,145.8" fill="none" stroke="#1a1a1a" stroke-width="1.0"/>
<path d="M579.4,145.8 L462,157.7" fill="none" stroke="#1a1a1a" stroke-width="1.0"/>
<path d="M488.4,193.3 L426.4,202.6" fill="none" stroke="#1a1a1a" stroke-width="1.0"/>
<path d="M422.4,249.3 L439.6,249.3 L392,197.5" fill="none" stroke="#1a1a1a" stroke-width="1.0"/>
<path d="M342,241 L360.4,189.8" fill="none" stroke="#1a1a1a" stroke-width="1.0"/>
</g>
<g id="male">
<path d="M734.9,240 L753,228 L755.6,319.5 L738.8,319.5 Z" fill="#9a6a08" stroke="#111" stroke-width="0.9"/>
<path d="M737,246 L736,196 L756,196 L754,246Z" fill="#9a6a08"/>
<path d="M719.4,189 L726,189 L736,213 L742,232 L736,246 L727,238 L723.5,215 Z" fill="#9a6a08" stroke="#111" stroke-width="0.9" stroke-linejoin="round"/>
<path d="M747,200 L757,198 L755,232 L746,232Z" fill="#9a6a08" stroke="#111" stroke-width="0.9" stroke-linejoin="round"/>
<clipPath id="stemclip"><path d="M734.9,240 L753,228 L755.6,319.5 L738.8,319.5 Z"/></clipPath>
<g clip-path="url(#stemclip)"><path transform="translate(742,255.5) rotate(12)" d="M0,-5.4 L3.8,0 L0,5.4 L-3.8,0Z" fill="#bd4c18" stroke="#2a1200" stroke-width="0.7"/><path transform="translate(750.4,243.3) rotate(12)" d="M0,-4.2 L3,0 L0,4.2 L-3,0Z" fill="#bd4c18" stroke="#2a1200" stroke-width="0.7"/><path transform="translate(744.4,276) rotate(12)" d="M0,-5.4 L4.2,0 L0,5.4 L-4.2,0Z" fill="#bd4c18" stroke="#2a1200" stroke-width="0.7"/><path transform="translate(752.4,267.9) rotate(12)" d="M0,-4.8 L3.2,0 L0,4.8 L-3.2,0Z" fill="#bd4c18" stroke="#2a1200" stroke-width="0.7"/><path transform="translate(746.5,295) rotate(12)" d="M0,-5.8 L4.2,0 L0,5.8 L-4.2,0Z" fill="#bd4c18" stroke="#2a1200" stroke-width="0.7"/><path transform="translate(739.6,306.6) rotate(12)" d="M0,-4.8 L3.2,0 L0,4.8 L-3.2,0Z" fill="#bd4c18" stroke="#2a1200" stroke-width="0.7"/><path transform="translate(737,262.7) rotate(12)" d="M0,-4.6 L2.8,0 L0,4.6 L-2.8,0Z" fill="#bd4c18" stroke="#2a1200" stroke-width="0.7"/><path transform="translate(738.4,286) rotate(12)" d="M0,-4.6 L2.8,0 L0,4.6 L-2.8,0Z" fill="#bd4c18" stroke="#2a1200" stroke-width="0.7"/><path transform="translate(753.8,283.4) rotate(12)" d="M0,-4.6 L3,0 L0,4.6 L-3,0Z" fill="#bd4c18" stroke="#2a1200" stroke-width="0.7"/><path transform="translate(753.4,309) rotate(12)" d="M0,-4.6 L3,0 L0,4.6 L-3,0Z" fill="#bd4c18" stroke="#2a1200" stroke-width="0.7"/></g>
<path d="M795.0,37.2 L793.8,39.2 L792.6,42.0 L791.1,45.4 L789.6,49.1 L788.0,53.2 L786.4,57.3 L785.0,61.4 L783.6,65.3 L782.4,69.1 L781.2,72.9 L780.0,76.8 L778.9,80.7 L777.8,84.8 L776.7,88.9 L775.7,93.0 L774.8,97.4 L773.9,101.8 L773.1,106.3 L772.4,110.9 L771.7,115.5 L771.0,120.2 L770.3,124.9 L769.7,129.7 L768.9,134.5 L768.2,139.4 L767.4,144.4 L766.6,149.4 L765.8,154.5 L765.0,159.6 L764.3,164.7 L763.5,169.7 L762.6,174.5 L761.8,179.6 L760.8,184.9 L759.8,190.3 L758.9,195.6 L758.0,200.6 L757.2,205.1 L756.6,208.9 L756.3,211.8 L757.7,212.2 L758.7,209.4 L759.7,205.7 L760.9,201.3 L762.3,196.4 L763.6,191.1 L764.9,185.8 L766.2,180.5 L767.4,175.5 L768.4,170.6 L769.4,165.6 L770.4,160.6 L771.4,155.5 L772.4,150.4 L773.3,145.4 L774.2,140.4 L775.1,135.5 L775.9,130.7 L776.7,125.9 L777.4,121.2 L778.2,116.5 L778.9,111.9 L779.6,107.4 L780.4,103.0 L781.2,98.6 L782.1,94.4 L782.9,90.3 L783.8,86.2 L784.7,82.2 L785.7,78.3 L786.6,74.4 L787.5,70.5 L788.4,66.7 L789.3,62.7 L790.4,58.5 L791.4,54.2 L792.4,50.1 L793.4,46.1 L794.2,42.6 L794.8,39.6 L795.0,37.2Z" fill="#12d040" stroke="#0a1a0a" stroke-width="1.2" stroke-linejoin="round"/>
<path d="M800.5,37.2 L799.3,39.4 L797.9,42.4 L796.4,46.1 L794.8,50.1 L793.1,54.5 L791.5,58.9 L789.9,63.2 L788.6,67.3 L787.3,71.2 L786.1,75.1 L785.0,78.9 L783.9,82.9 L782.8,86.8 L781.8,90.9 L780.8,95.0 L779.8,99.3 L778.8,103.7 L777.9,108.2 L777.1,112.8 L776.2,117.4 L775.4,122.1 L774.6,126.9 L773.8,131.6 L772.9,136.5 L772.1,141.4 L771.3,146.4 L770.6,151.4 L769.8,156.5 L769.1,161.6 L768.3,166.7 L767.5,171.7 L766.7,176.5 L765.7,181.5 L764.6,186.8 L763.5,192.3 L762.4,197.6 L761.3,202.6 L760.4,207.1 L759.7,210.9 L759.3,213.8 L760.7,214.2 L761.7,211.4 L762.9,207.7 L764.3,203.3 L765.7,198.4 L767.2,193.2 L768.7,187.8 L770.1,182.5 L771.3,177.5 L772.4,172.6 L773.5,167.6 L774.5,162.5 L775.4,157.5 L776.3,152.4 L777.2,147.4 L778.2,142.4 L779.1,137.5 L780.0,132.8 L780.9,128.0 L781.8,123.3 L782.6,118.6 L783.5,114.0 L784.4,109.5 L785.3,105.0 L786.2,100.7 L787.1,96.5 L788.0,92.4 L788.9,88.3 L789.8,84.4 L790.7,80.4 L791.6,76.5 L792.5,72.6 L793.4,68.7 L794.4,64.5 L795.5,60.1 L796.6,55.6 L797.7,51.1 L798.7,46.8 L799.6,43.0 L800.2,39.7 L800.5,37.2Z" fill="#12d040" stroke="#0a1a0a" stroke-width="1.2" stroke-linejoin="round"/>
<path d="M828.3,57.1 L826.7,58.9 L824.8,61.3 L822.6,64.3 L820.3,67.6 L817.8,71.3 L815.3,75.2 L812.9,79.1 L810.7,83.1 L808.7,87.3 L806.6,91.7 L804.6,96.3 L802.7,101.1 L800.8,105.8 L799.0,110.5 L797.2,115.0 L795.6,119.2 L794.1,123.2 L792.7,127.1 L791.3,130.8 L790.0,134.4 L788.7,137.9 L787.4,141.4 L786.2,144.8 L784.9,148.1 L783.6,151.5 L782.4,154.7 L781.1,157.9 L779.9,161.0 L778.7,164.1 L777.4,167.2 L776.0,170.3 L774.6,173.4 L773.0,176.6 L771.3,179.8 L769.5,183.1 L767.7,186.4 L765.9,189.6 L764.1,192.8 L762.4,196.0 L760.8,198.9 L759.3,201.9 L757.8,204.9 L756.3,208.0 L754.9,210.9 L753.7,213.6 L752.5,216.0 L751.6,218.0 L751.0,219.6 L752.4,220.4 L753.4,218.9 L754.6,217.0 L755.9,214.8 L757.5,212.2 L759.1,209.4 L760.8,206.6 L762.5,203.7 L764.2,200.9 L765.9,198.0 L767.8,195.0 L769.8,192.0 L771.8,188.8 L773.8,185.6 L775.8,182.3 L777.7,179.0 L779.4,175.8 L781.0,172.7 L782.5,169.5 L784.0,166.4 L785.3,163.3 L786.7,160.2 L788.0,157.0 L789.3,153.8 L790.7,150.5 L792.1,147.1 L793.4,143.6 L794.8,140.2 L796.1,136.7 L797.4,133.1 L798.8,129.4 L800.3,125.6 L801.8,121.6 L803.4,117.3 L805.1,112.8 L806.8,108.1 L808.5,103.3 L810.2,98.5 L811.9,93.9 L813.6,89.4 L815.3,85.3 L817.0,81.2 L818.9,77.1 L820.9,73.1 L822.8,69.1 L824.7,65.5 L826.3,62.2 L827.5,59.4 L828.3,57.1Z" fill="#12d040" stroke="#0a1a0a" stroke-width="1.2" stroke-linejoin="round"/>
<path d="M833.7,59.0 L832.0,60.9 L830.1,63.6 L827.8,66.9 L825.4,70.6 L822.9,74.5 L820.3,78.7 L817.9,82.8 L815.7,86.9 L813.6,91.0 L811.6,95.3 L809.5,99.8 L807.6,104.3 L805.7,108.9 L803.8,113.3 L802.1,117.6 L800.4,121.8 L798.9,125.7 L797.3,129.5 L795.9,133.3 L794.5,136.9 L793.1,140.4 L791.8,143.9 L790.5,147.4 L789.1,150.8 L787.8,154.3 L786.5,157.6 L785.2,160.9 L784.0,164.1 L782.7,167.3 L781.4,170.5 L780.1,173.6 L778.6,176.8 L777.0,180.0 L775.3,183.2 L773.4,186.5 L771.6,189.7 L769.7,192.9 L767.8,196.0 L766.0,199.1 L764.4,202.0 L762.7,204.8 L761.1,207.7 L759.4,210.6 L757.9,213.3 L756.4,215.8 L755.1,218.1 L754.1,220.1 L753.4,221.6 L754.6,222.4 L755.7,221.1 L757.0,219.3 L758.6,217.2 L760.3,214.8 L762.1,212.2 L763.9,209.5 L765.8,206.8 L767.6,204.0 L769.5,201.3 L771.5,198.3 L773.5,195.3 L775.6,192.2 L777.6,189.0 L779.7,185.7 L781.6,182.5 L783.4,179.2 L785.1,176.0 L786.6,172.8 L788.1,169.6 L789.4,166.4 L790.8,163.1 L792.1,159.9 L793.5,156.5 L794.9,153.2 L796.3,149.7 L797.7,146.3 L799.1,142.8 L800.6,139.2 L802.0,135.6 L803.5,131.9 L805.0,128.2 L806.6,124.2 L808.2,120.1 L809.9,115.7 L811.7,111.2 L813.4,106.7 L815.1,102.1 L816.9,97.6 L818.6,93.2 L820.3,89.1 L822.1,85.0 L824.1,80.6 L826.1,76.3 L828.1,72.1 L830.0,68.1 L831.6,64.5 L832.9,61.4 L833.7,59.0Z" fill="#12d040" stroke="#0a1a0a" stroke-width="1.2" stroke-linejoin="round"/>
<path d="M724,88 C732,80 752,80 764,92 C772,110 772,150 766,180 C762,192 750,198 740,198 C728,198 720,190 718,175 C715,150 715,110 724,88Z" fill="#c68c56" stroke="#111" stroke-width="1"/>
<path transform="translate(728,91.3) rotate(-10)" d="M-4.8,1.4000000000000001 C-4.8,-4.2 -1.92,-7 0,-8 C1.92,-7 4.8,-4.2 4.8,1.4000000000000001 C4.8,5.6000000000000005 2.4,7 0,7 C-2.4,7 -4.8,5.6000000000000005 -4.8,1.4000000000000001Z" fill="#c68c56" stroke="#111" stroke-width="1.3"/>
<ellipse transform="translate(762.8,103.6) rotate(10)" rx="3.2" ry="5.5" fill="#c68c56" stroke="#111" stroke-width="1.3"/>
<ellipse transform="translate(766,123.7) rotate(5)" rx="4.5" ry="8" fill="#c68c56" stroke="#111" stroke-width="1.3"/>
<path transform="translate(756,95) rotate(5)" d="M-6.7,2.2 C-6.7,-6.6 -2.68,-11 0,-13 C2.68,-11 6.7,-6.6 6.7,2.2 C6.7,8.8 3.35,11 0,11 C-3.35,11 -6.7,8.8 -6.7,2.2Z" fill="#c68c56" stroke="#111" stroke-width="1.3"/>
<path transform="translate(741,96.9) rotate(0)" d="M-9.3,2.4600000000000004 C-9.3,-7.38 -3.7200000000000006,-12.3 0,-13.3 C3.7200000000000006,-12.3 9.3,-7.38 9.3,2.4600000000000004 C9.3,9.840000000000002 4.65,12.3 0,12.3 C-4.65,12.3 -9.3,9.840000000000002 -9.3,2.4600000000000004Z" fill="#c68c56" stroke="#111" stroke-width="1.3"/>
<ellipse transform="translate(725.8,113) rotate(8)" rx="8.5" ry="15" fill="#c68c56" stroke="#111" stroke-width="1.3"/>
<ellipse transform="translate(759.4,112.5) rotate(10)" rx="9" ry="10" fill="#c68c56" stroke="#111" stroke-width="1.3"/>
<ellipse transform="translate(741.5,121) rotate(5)" rx="10" ry="11.8" fill="#c68c56" stroke="#111" stroke-width="1.3"/>
<ellipse transform="translate(724,132) rotate(5)" rx="7.3" ry="11.8" fill="#c68c56" stroke="#111" stroke-width="1.3"/>
<ellipse transform="translate(758,137) rotate(0)" rx="9" ry="13" fill="#c68c56" stroke="#111" stroke-width="1.3"/>
<ellipse transform="translate(741.5,143.3) rotate(5)" rx="10" ry="11.8" fill="#c68c56" stroke="#111" stroke-width="1.3"/>
<ellipse transform="translate(724.7,154.5) rotate(0)" rx="6.7" ry="10.6" fill="#c68c56" stroke="#111" stroke-width="1.3"/>
<ellipse transform="translate(761.6,163) rotate(5)" rx="6.7" ry="12" fill="#c68c56" stroke="#111" stroke-width="1.3"/>
<ellipse transform="translate(738.7,167) rotate(5)" rx="9.5" ry="11.8" fill="#c68c56" stroke="#111" stroke-width="1.3"/>
<ellipse transform="translate(724.7,176.3) rotate(0)" rx="5.6" ry="11" fill="#c68c56" stroke="#111" stroke-width="1.3"/>
<ellipse transform="translate(755,183) rotate(5)" rx="6.7" ry="12" fill="#c68c56" stroke="#111" stroke-width="1.3"/>
<ellipse transform="translate(761,180) rotate(0)" rx="4" ry="8" fill="#c68c56" stroke="#111" stroke-width="1.3"/>
<ellipse transform="translate(737,189) rotate(0)" rx="9" ry="10.5" fill="#c68c56" stroke="#111" stroke-width="1.3"/>
<path d="M728,88 L727,70 L733,48 L738,34 L748,32 L752,44 L757,50 L757,70 L753,88Z" fill="#0cf53c"/>
<path d="M735.3,32.0 L734.9,33.0 L734.6,34.3 L734.4,35.8 L734.3,37.4 L734.2,39.2 L734.1,41.0 L734.2,42.7 L734.2,44.3 L734.4,45.9 L734.5,47.6 L734.8,49.3 L735.1,51.0 L735.4,52.6 L735.7,54.1 L736.0,55.3 L736.3,56.2 L739.7,55.8 L739.8,54.9 L739.9,53.6 L739.8,52.1 L739.8,50.5 L739.7,48.8 L739.5,47.0 L739.3,45.3 L739.1,43.7 L738.8,42.2 L738.4,40.5 L738.0,38.8 L737.5,37.1 L737.0,35.5 L736.4,34.1 L735.9,32.9 L735.3,32.0Z" fill="#0cf53c" stroke="#0a3a12" stroke-width="1.15" stroke-linejoin="round"/>
<path d="M739.6,30.3 L739.2,31.3 L738.8,32.7 L738.5,34.2 L738.3,36.0 L738.1,37.9 L737.9,39.8 L737.9,41.6 L737.9,43.3 L737.9,45.0 L738.0,46.8 L738.1,48.7 L738.3,50.5 L738.5,52.2 L738.8,53.8 L739.0,55.1 L739.3,56.1 L742.7,55.9 L742.9,54.9 L743.0,53.6 L743.0,52.0 L743.1,50.2 L743.0,48.4 L743.0,46.5 L742.9,44.7 L742.7,43.0 L742.5,41.3 L742.3,39.5 L741.9,37.7 L741.5,35.8 L741.1,34.1 L740.6,32.6 L740.2,31.3 L739.6,30.3Z" fill="#0cf53c" stroke="#0a3a12" stroke-width="1.15" stroke-linejoin="round"/>
<path d="M743.0,29.5 L742.5,30.5 L742.2,31.9 L741.9,33.5 L741.6,35.4 L741.4,37.3 L741.2,39.2 L741.1,41.1 L741.1,42.8 L741.1,44.6 L741.1,46.5 L741.3,48.4 L741.4,50.3 L741.6,52.1 L741.8,53.7 L742.0,55.1 L742.3,56.1 L745.7,55.9 L745.9,54.9 L746.0,53.5 L746.1,51.9 L746.1,50.1 L746.2,48.2 L746.1,46.3 L746.1,44.4 L745.9,42.7 L745.8,40.9 L745.5,39.0 L745.2,37.1 L744.8,35.2 L744.4,33.4 L744.0,31.8 L743.5,30.5 L743.0,29.5Z" fill="#0cf53c" stroke="#0a3a12" stroke-width="1.15" stroke-linejoin="round"/>
<path d="M746.5,30.3 L746.0,31.3 L745.6,32.6 L745.3,34.2 L745.0,36.0 L744.7,37.8 L744.5,39.7 L744.4,41.5 L744.3,43.2 L744.3,44.9 L744.3,46.7 L744.4,48.6 L744.5,50.4 L744.7,52.2 L744.8,53.7 L745.0,55.0 L745.3,56.0 L748.7,56.0 L748.9,55.0 L749.1,53.7 L749.2,52.1 L749.3,50.3 L749.3,48.5 L749.3,46.6 L749.3,44.8 L749.2,43.1 L749.1,41.4 L748.8,39.6 L748.6,37.7 L748.2,35.9 L747.9,34.2 L747.4,32.6 L747.0,31.3 L746.5,30.3Z" fill="#0cf53c" stroke="#0a3a12" stroke-width="1.15" stroke-linejoin="round"/>
<path d="M749.5,33.0 L749.0,33.9 L748.6,35.0 L748.3,36.4 L747.9,38.0 L747.6,39.6 L747.4,41.3 L747.2,42.9 L747.1,44.5 L747.0,46.0 L746.9,47.6 L746.9,49.3 L747.0,50.9 L747.1,52.5 L747.1,53.9 L747.3,55.1 L747.4,56.0 L750.6,56.0 L750.8,55.2 L750.9,54.0 L751.1,52.6 L751.2,51.0 L751.4,49.4 L751.4,47.7 L751.5,46.1 L751.4,44.5 L751.4,43.0 L751.3,41.4 L751.1,39.7 L750.9,38.1 L750.6,36.5 L750.3,35.1 L749.9,33.9 L749.5,33.0Z" fill="#0cf53c" stroke="#0a3a12" stroke-width="1.15" stroke-linejoin="round"/>
<path d="M757.7,33.4 L757.0,34.2 L756.4,35.4 L755.7,36.8 L755.0,38.4 L754.3,40.1 L753.7,41.9 L753.2,43.6 L752.7,45.2 L752.3,46.8 L751.9,48.5 L751.6,50.3 L751.3,52.1 L751.1,53.8 L750.9,55.4 L750.8,56.6 L750.8,57.6 L754.2,58.4 L754.6,57.5 L755.0,56.2 L755.5,54.8 L756.0,53.1 L756.4,51.4 L756.8,49.6 L757.2,47.8 L757.5,46.2 L757.7,44.6 L757.9,42.8 L758.1,40.9 L758.2,39.1 L758.2,37.4 L758.1,35.8 L758.0,34.5 L757.7,33.4Z" fill="#0cf53c" stroke="#0a3a12" stroke-width="1.15" stroke-linejoin="round"/>
<path d="M733.6,45.8 L733.0,46.9 L732.6,48.3 L732.2,50.0 L731.9,51.9 L731.6,53.9 L731.4,55.9 L731.3,57.8 L731.3,59.6 L731.3,61.4 L731.4,63.3 L731.6,65.3 L731.9,67.2 L732.1,69.1 L732.4,70.7 L732.7,72.1 L733.0,73.1 L737.6,72.9 L737.8,71.8 L737.9,70.4 L738.0,68.7 L738.0,66.9 L738.0,64.9 L737.9,62.9 L737.8,61.0 L737.6,59.2 L737.4,57.4 L737.0,55.5 L736.6,53.5 L736.1,51.6 L735.5,49.8 L734.9,48.2 L734.3,46.8 L733.6,45.8Z" fill="#0cf53c" stroke="#0a3a12" stroke-width="1.15" stroke-linejoin="round"/>
<path d="M741.3,40.7 L740.6,42.0 L740.1,43.6 L739.6,45.6 L739.2,47.8 L738.8,50.1 L738.5,52.5 L738.3,54.8 L738.2,56.9 L738.2,59.1 L738.3,61.3 L738.4,63.7 L738.5,66.0 L738.7,68.2 L739.0,70.2 L739.2,71.8 L739.6,73.1 L744.4,72.9 L744.7,71.7 L744.9,70.0 L745.0,68.1 L745.2,65.9 L745.2,63.5 L745.2,61.2 L745.2,58.9 L745.1,56.8 L744.9,54.7 L744.6,52.4 L744.2,50.0 L743.7,47.7 L743.2,45.5 L742.6,43.6 L742.0,41.9 L741.3,40.7Z" fill="#0cf53c" stroke="#0a3a12" stroke-width="1.15" stroke-linejoin="round"/>
<path d="M751.6,43.2 L750.9,44.3 L750.2,45.7 L749.5,47.4 L748.9,49.3 L748.3,51.3 L747.9,53.4 L747.4,55.4 L747.1,57.3 L746.9,59.2 L746.7,61.2 L746.6,63.3 L746.5,65.4 L746.5,67.4 L746.5,69.2 L746.6,70.7 L746.7,71.8 L751.3,72.2 L751.6,71.1 L752.0,69.7 L752.3,67.9 L752.6,66.0 L752.9,63.9 L753.2,61.8 L753.4,59.8 L753.5,57.9 L753.5,56.0 L753.5,53.9 L753.3,51.8 L753.1,49.7 L752.9,47.7 L752.5,45.9 L752.1,44.4 L751.6,43.2Z" fill="#0cf53c" stroke="#0a3a12" stroke-width="1.15" stroke-linejoin="round"/>
<path d="M756.8,44.0 L756.1,45.0 L755.4,46.5 L754.8,48.2 L754.1,50.1 L753.5,52.2 L753.0,54.2 L752.5,56.3 L752.2,58.2 L751.9,60.1 L751.7,62.1 L751.5,64.2 L751.3,66.3 L751.2,68.3 L751.2,70.1 L751.2,71.6 L751.3,72.8 L755.5,73.2 L755.9,72.2 L756.2,70.7 L756.6,68.9 L757.0,67.0 L757.3,64.9 L757.6,62.8 L757.8,60.8 L758.0,58.8 L758.1,56.9 L758.1,54.8 L758.1,52.7 L758.0,50.6 L757.8,48.6 L757.6,46.7 L757.3,45.2 L756.8,44.0Z" fill="#0cf53c" stroke="#0a3a12" stroke-width="1.15" stroke-linejoin="round"/>
<path d="M725.0,64.0 L724.6,65.0 L724.4,66.4 L724.2,67.9 L724.2,69.6 L724.2,71.4 L724.3,73.2 L724.4,75.0 L724.6,76.6 L724.9,78.2 L725.3,79.9 L725.7,81.6 L726.1,83.3 L726.6,84.9 L727.1,86.4 L727.5,87.6 L727.9,88.4 L732.1,87.6 L732.1,86.6 L732.0,85.3 L731.9,83.8 L731.7,82.2 L731.4,80.4 L731.1,78.7 L730.8,77.0 L730.4,75.4 L729.9,73.8 L729.4,72.2 L728.7,70.5 L728.0,68.9 L727.3,67.3 L726.5,65.9 L725.8,64.8 L725.0,64.0Z" fill="#0cf53c" stroke="#0a3a12" stroke-width="1.15" stroke-linejoin="round"/>
<path d="M760.2,57.0 L759.1,58.0 L758.1,59.4 L757.1,61.2 L756.0,63.1 L754.9,65.2 L753.9,67.4 L753.1,69.5 L752.4,71.5 L751.7,73.5 L751.1,75.7 L750.6,78.0 L750.1,80.3 L749.6,82.4 L749.3,84.4 L749.1,86.0 L749.1,87.3 L754.1,88.7 L754.7,87.6 L755.4,86.1 L756.1,84.2 L756.9,82.2 L757.6,80.0 L758.3,77.7 L758.9,75.5 L759.4,73.5 L759.8,71.4 L760.2,69.1 L760.5,66.8 L760.7,64.4 L760.8,62.2 L760.7,60.1 L760.6,58.4 L760.2,57.0Z" fill="#0cf53c" stroke="#0a3a12" stroke-width="1.15" stroke-linejoin="round"/>
<path d="M729.3,57.0 L728.8,58.4 L728.4,60.1 L728.2,62.1 L728.0,64.4 L727.9,66.8 L727.9,69.1 L728.1,71.4 L728.2,73.6 L728.5,75.7 L728.9,78.0 L729.3,80.3 L729.8,82.6 L730.3,84.7 L730.8,86.6 L731.3,88.2 L731.8,89.4 L737.0,88.6 L737.1,87.3 L737.1,85.6 L737.0,83.6 L736.8,81.4 L736.5,79.1 L736.2,76.8 L735.9,74.5 L735.5,72.4 L735.0,70.3 L734.4,68.1 L733.6,65.8 L732.8,63.6 L732.0,61.5 L731.1,59.7 L730.2,58.1 L729.3,57.0Z" fill="#0cf53c" stroke="#0a3a12" stroke-width="1.15" stroke-linejoin="round"/>
<path d="M750.0,60.4 L749.2,61.5 L748.6,63.0 L747.9,64.7 L747.3,66.7 L746.7,68.8 L746.2,70.9 L745.9,73.0 L745.6,75.0 L745.4,76.9 L745.2,79.0 L745.2,81.2 L745.1,83.3 L745.2,85.3 L745.2,87.1 L745.4,88.7 L745.6,89.8 L750.4,90.2 L750.8,89.0 L751.1,87.5 L751.4,85.7 L751.7,83.7 L752.0,81.6 L752.2,79.5 L752.4,77.4 L752.4,75.4 L752.4,73.5 L752.3,71.4 L752.1,69.2 L751.8,67.0 L751.5,65.0 L751.1,63.1 L750.6,61.6 L750.0,60.4Z" fill="#0cf53c" stroke="#0a3a12" stroke-width="1.15" stroke-linejoin="round"/>
<path d="M737.0,54.4 L736.3,55.8 L735.8,57.7 L735.3,59.9 L735.0,62.4 L734.7,65.0 L734.5,67.6 L734.4,70.1 L734.4,72.5 L734.5,74.8 L734.7,77.4 L734.9,79.9 L735.3,82.5 L735.6,84.9 L736.0,87.0 L736.4,88.9 L736.8,90.2 L742.4,89.8 L742.6,88.4 L742.7,86.6 L742.8,84.4 L742.8,81.9 L742.8,79.4 L742.6,76.8 L742.4,74.3 L742.2,71.9 L741.9,69.6 L741.4,67.1 L740.8,64.5 L740.2,62.0 L739.4,59.6 L738.7,57.5 L737.9,55.7 L737.0,54.4Z" fill="#0cf53c" stroke="#0a3a12" stroke-width="1.15" stroke-linejoin="round"/>
<path d="M743.0,57.0 L742.4,58.3 L741.9,60.1 L741.5,62.1 L741.1,64.4 L740.9,66.8 L740.7,69.2 L740.6,71.6 L740.7,73.8 L740.7,76.0 L740.9,78.3 L741.2,80.7 L741.5,83.1 L741.8,85.3 L742.2,87.3 L742.6,89.0 L743.0,90.2 L748.2,89.8 L748.4,88.5 L748.5,86.8 L748.6,84.8 L748.6,82.5 L748.5,80.1 L748.4,77.7 L748.2,75.4 L747.9,73.2 L747.6,71.0 L747.2,68.7 L746.6,66.4 L746.0,64.0 L745.3,61.8 L744.6,59.9 L743.9,58.2 L743.0,57.0Z" fill="#0cf53c" stroke="#0a3a12" stroke-width="1.15" stroke-linejoin="round"/>
<path transform="translate(728,91.3) rotate(-10)" d="M-4.8,1.4000000000000001 C-4.8,-4.2 -1.92,-7 0,-8 C1.92,-7 4.8,-4.2 4.8,1.4000000000000001 C4.8,5.6000000000000005 2.4,7 0,7 C-2.4,7 -4.8,5.6000000000000005 -4.8,1.4000000000000001Z" fill="#c68c56" stroke="#111" stroke-width="1.3"/>
<ellipse transform="translate(762.8,103.6) rotate(10)" rx="3.2" ry="5.5" fill="#c68c56" stroke="#111" stroke-width="1.3"/>
<ellipse transform="translate(766,123.7) rotate(5)" rx="4.5" ry="8" fill="#c68c56" stroke="#111" stroke-width="1.3"/>
<path transform="translate(756,95) rotate(5)" d="M-6.7,2.2 C-6.7,-6.6 -2.68,-11 0,-13 C2.68,-11 6.7,-6.6 6.7,2.2 C6.7,8.8 3.35,11 0,11 C-3.35,11 -6.7,8.8 -6.7,2.2Z" fill="#c68c56" stroke="#111" stroke-width="1.3"/>
<path transform="translate(741,96.9) rotate(0)" d="M-9.3,2.4600000000000004 C-9.3,-7.38 -3.7200000000000006,-12.3 0,-13.3 C3.7200000000000006,-12.3 9.3,-7.38 9.3,2.4600000000000004 C9.3,9.840000000000002 4.65,12.3 0,12.3 C-4.65,12.3 -9.3,9.840000000000002 -9.3,2.4600000000000004Z" fill="#c68c56" stroke="#111" stroke-width="1.3"/>
<path d="M656.5,138.5 L657.7,141.0 L659.6,144.0 L662.0,147.5 L664.8,151.3 L667.8,155.2 L670.8,159.1 L673.8,162.8 L676.7,166.1 L679.5,169.1 L682.3,171.9 L685.0,174.5 L687.8,177.1 L690.5,179.7 L693.2,182.3 L695.7,184.9 L698.2,187.6 L700.6,190.5 L703.1,193.6 L705.5,196.7 L707.9,199.9 L710.2,203.1 L712.5,206.3 L714.6,209.3 L716.7,212.3 L718.8,215.2 L720.8,218.2 L722.8,221.3 L724.7,224.2 L726.5,227.0 L728.1,229.4 L729.5,231.5 L730.7,233.0 L732.1,232.2 L731.4,230.4 L730.4,228.2 L729.1,225.5 L727.6,222.6 L726.0,219.4 L724.3,216.1 L722.5,212.9 L720.7,209.7 L718.8,206.6 L716.8,203.4 L714.7,200.1 L712.5,196.7 L710.3,193.3 L707.9,190.0 L705.5,186.7 L703.0,183.6 L700.4,180.6 L697.8,177.7 L695.1,175.0 L692.3,172.4 L689.6,169.8 L686.8,167.1 L684.1,164.5 L681.3,161.7 L678.3,158.7 L675.0,155.3 L671.5,151.9 L668.0,148.4 L664.6,145.2 L661.5,142.3 L658.8,140.0 L656.5,138.5Z" fill="#12d040" stroke="#0a1a0a" stroke-width="1.2" stroke-linejoin="round"/>
<path d="M660.0,145.0 L661.0,147.4 L662.6,150.3 L664.7,153.7 L667.1,157.5 L669.6,161.3 L672.3,165.2 L675.0,168.8 L677.6,172.1 L680.1,175.1 L682.7,177.9 L685.2,180.7 L687.8,183.3 L690.3,186.0 L692.8,188.6 L695.2,191.2 L697.6,194.0 L699.9,196.8 L702.2,199.8 L704.5,202.8 L706.7,205.8 L708.9,208.9 L711.1,211.8 L713.1,214.6 L715.1,217.3 L717.1,219.9 L719.0,222.4 L720.9,225.0 L722.7,227.4 L724.4,229.6 L725.9,231.6 L727.2,233.2 L728.4,234.4 L729.6,233.6 L729.0,232.1 L728.0,230.2 L726.8,228.0 L725.4,225.6 L723.9,223.0 L722.3,220.2 L720.6,217.5 L718.9,214.7 L717.1,211.9 L715.3,209.0 L713.3,205.9 L711.3,202.7 L709.2,199.5 L707.0,196.2 L704.7,193.1 L702.4,190.0 L700.1,187.1 L697.6,184.3 L695.1,181.5 L692.6,178.8 L690.0,176.1 L687.5,173.4 L685.0,170.7 L682.4,167.9 L679.7,164.9 L676.7,161.6 L673.6,158.2 L670.4,154.8 L667.4,151.6 L664.6,148.8 L662.1,146.5 L660.0,145.0Z" fill="#12d040" stroke="#0a1a0a" stroke-width="1.2" stroke-linejoin="round"/>
<path d="M679.7,93.3 L679.7,97.0 L680.1,101.9 L680.7,107.7 L681.6,114.1 L682.6,120.8 L683.8,127.5 L685.2,133.8 L686.7,139.4 L688.3,144.5 L690.0,149.3 L691.8,153.9 L693.7,158.4 L695.6,162.8 L697.6,167.1 L699.5,171.5 L701.5,175.9 L703.6,180.5 L705.8,185.3 L708.1,190.2 L710.4,195.1 L712.7,199.7 L714.9,204.2 L716.9,208.2 L718.7,211.8 L720.3,215.0 L721.8,217.9 L723.2,220.5 L724.5,222.9 L725.6,224.9 L726.6,226.7 L727.5,228.2 L728.3,229.3 L729.7,228.7 L729.3,227.3 L728.7,225.7 L727.9,223.8 L727.0,221.7 L726.0,219.2 L724.9,216.5 L723.7,213.5 L722.3,210.2 L720.8,206.4 L719.0,202.3 L717.1,197.7 L715.1,192.9 L713.1,188.0 L711.0,183.0 L709.0,178.2 L707.1,173.5 L705.2,169.0 L703.4,164.6 L701.5,160.2 L699.7,155.9 L697.9,151.5 L696.2,147.0 L694.5,142.4 L692.9,137.6 L691.3,132.2 L689.6,126.1 L687.9,119.6 L686.1,113.2 L684.4,107.0 L682.7,101.4 L681.2,96.7 L679.7,93.3Z" fill="#12d040" stroke="#0a1a0a" stroke-width="1.2" stroke-linejoin="round"/>
<path d="M690.5,94.4 L690.5,98.0 L691.0,102.8 L691.7,108.5 L692.6,114.7 L693.7,121.2 L694.9,127.7 L696.1,133.8 L697.4,139.3 L698.7,144.3 L700.1,149.0 L701.4,153.6 L702.8,158.0 L704.2,162.4 L705.6,166.8 L707.1,171.2 L708.6,175.6 L710.2,180.3 L712.0,185.1 L713.7,190.0 L715.6,194.9 L717.4,199.6 L719.1,204.0 L720.7,208.1 L722.2,211.7 L723.5,214.8 L724.8,217.6 L725.9,220.1 L727.0,222.3 L728.0,224.2 L728.9,225.8 L729.6,227.2 L730.3,228.3 L731.7,227.7 L731.4,226.4 L730.9,224.9 L730.3,223.2 L729.6,221.2 L728.7,218.9 L727.9,216.4 L726.9,213.5 L725.8,210.3 L724.7,206.7 L723.4,202.5 L721.9,198.0 L720.4,193.2 L718.9,188.3 L717.3,183.3 L715.8,178.4 L714.4,173.8 L713.0,169.3 L711.7,164.9 L710.3,160.5 L709.0,156.1 L707.7,151.7 L706.4,147.2 L705.1,142.5 L703.8,137.7 L702.3,132.3 L700.7,126.3 L699.0,120.0 L697.2,113.7 L695.4,107.6 L693.6,102.2 L692.0,97.7 L690.5,94.4Z" fill="#12d040" stroke="#0a1a0a" stroke-width="1.2" stroke-linejoin="round"/>
<path d="M705.0,46.3 L704.4,50.4 L704.0,55.9 L703.6,62.4 L703.4,69.7 L703.2,77.4 L703.1,85.2 L703.2,92.9 L703.3,100.1 L703.5,107.1 L703.8,114.3 L704.2,121.5 L704.6,128.8 L705.1,136.0 L705.6,143.0 L706.2,149.8 L707.0,156.3 L707.8,162.6 L708.7,168.6 L709.7,174.5 L710.8,180.2 L711.9,185.7 L713.2,190.9 L714.5,195.9 L715.9,200.6 L717.6,205.2 L719.6,209.5 L721.7,213.7 L723.8,217.5 L725.9,220.9 L727.8,223.9 L729.4,226.4 L730.7,228.3 L732.1,227.7 L731.2,225.5 L729.9,222.8 L728.3,219.6 L726.6,216.0 L724.8,212.1 L723.0,208.0 L721.4,203.7 L720.1,199.4 L718.9,194.8 L717.9,189.9 L716.9,184.7 L716.0,179.3 L715.2,173.7 L714.4,167.8 L713.7,161.8 L713.0,155.7 L712.4,149.3 L711.9,142.5 L711.5,135.6 L711.1,128.4 L710.8,121.2 L710.4,114.0 L710.1,106.8 L709.7,99.9 L709.3,92.7 L708.8,85.1 L708.3,77.3 L707.7,69.6 L707.1,62.4 L706.5,55.9 L705.8,50.4 L705.0,46.3Z" fill="#12d040" stroke="#0a1a0a" stroke-width="1.2" stroke-linejoin="round"/>
<path d="M710.8,44.5 L710.1,48.8 L709.7,54.5 L709.3,61.3 L709.0,68.8 L708.7,76.8 L708.6,84.9 L708.6,92.8 L708.8,100.1 L709.0,107.2 L709.3,114.4 L709.7,121.7 L710.1,128.9 L710.6,136.1 L711.1,143.1 L711.8,149.9 L712.5,156.3 L713.3,162.5 L714.2,168.6 L715.2,174.5 L716.2,180.2 L717.3,185.7 L718.5,191.0 L719.7,195.9 L721.0,200.5 L722.4,205.0 L724.1,209.2 L725.8,213.2 L727.6,216.9 L729.3,220.2 L730.9,223.1 L732.2,225.5 L733.3,227.3 L734.7,226.7 L734.0,224.6 L733.0,222.0 L731.7,219.0 L730.3,215.6 L728.9,211.9 L727.5,207.9 L726.2,203.8 L725.0,199.5 L724.0,194.9 L723.1,190.0 L722.2,184.8 L721.3,179.4 L720.6,173.7 L719.8,167.9 L719.1,161.8 L718.5,155.7 L717.9,149.3 L717.4,142.6 L717.0,135.6 L716.6,128.5 L716.2,121.3 L715.9,114.1 L715.6,106.9 L715.2,99.9 L714.8,92.6 L714.4,84.7 L713.9,76.7 L713.4,68.7 L712.8,61.2 L712.2,54.4 L711.6,48.8 L710.8,44.5Z" fill="#12d040" stroke="#0a1a0a" stroke-width="1.2" stroke-linejoin="round"/>
<path d="M831.2,122.2 L829.7,123.1 L827.9,124.6 L825.9,126.3 L823.7,128.4 L821.4,130.5 L819.1,132.7 L816.9,134.8 L814.9,136.7 L813.0,138.4 L811.1,140.0 L809.1,141.7 L807.2,143.3 L805.3,145.0 L803.4,146.9 L801.5,148.8 L799.7,150.9 L798.1,153.1 L796.6,155.5 L795.2,157.8 L794.0,160.2 L792.7,162.5 L791.5,164.8 L790.2,167.0 L788.8,169.2 L787.2,171.4 L785.6,173.7 L783.8,176.0 L782.1,178.3 L780.3,180.6 L778.5,182.9 L776.7,185.1 L775.0,187.2 L773.2,189.2 L771.5,191.1 L769.7,193.0 L767.9,194.9 L766.1,196.7 L764.3,198.5 L762.6,200.3 L761.0,202.1 L759.5,204.0 L758.0,205.9 L756.5,207.8 L755.1,209.7 L753.8,211.5 L752.7,213.1 L751.8,214.4 L751.1,215.5 L752.3,216.5 L753.3,215.7 L754.4,214.5 L755.8,213.2 L757.3,211.6 L758.9,209.9 L760.6,208.2 L762.3,206.5 L764.0,204.9 L765.6,203.3 L767.4,201.7 L769.3,200.0 L771.2,198.3 L773.2,196.6 L775.1,194.7 L777.1,192.8 L779.0,190.8 L781.0,188.8 L782.9,186.6 L784.8,184.4 L786.8,182.1 L788.7,179.8 L790.5,177.5 L792.3,175.1 L794.0,172.8 L795.6,170.4 L797.1,168.0 L798.5,165.6 L799.7,163.3 L801.0,161.0 L802.2,158.9 L803.5,156.8 L804.9,154.9 L806.4,153.1 L807.9,151.3 L809.6,149.5 L811.4,147.7 L813.1,146.0 L814.9,144.1 L816.8,142.2 L818.5,140.1 L820.3,137.9 L822.2,135.5 L824.2,133.0 L826.0,130.4 L827.7,128.0 L829.3,125.7 L830.5,123.8 L831.2,122.2Z" fill="#12d040" stroke="#0a1a0a" stroke-width="1.2" stroke-linejoin="round"/>
<path d="M836.6,127.6 L835.0,128.5 L833.1,130.0 L830.9,131.8 L828.5,133.8 L826.1,136.0 L823.6,138.2 L821.3,140.3 L819.2,142.2 L817.2,143.9 L815.3,145.5 L813.4,147.1 L811.5,148.7 L809.6,150.4 L807.8,152.1 L805.9,153.9 L804.0,155.8 L802.3,157.9 L800.6,160.0 L799.0,162.2 L797.4,164.4 L795.8,166.6 L794.2,168.7 L792.7,170.9 L791.0,173.0 L789.3,175.1 L787.5,177.3 L785.7,179.5 L783.8,181.7 L782.0,183.9 L780.1,186.0 L778.3,188.1 L776.5,190.1 L774.8,192.0 L773.0,193.9 L771.2,195.8 L769.4,197.6 L767.6,199.4 L765.9,201.1 L764.2,202.9 L762.6,204.6 L761.0,206.4 L759.5,208.2 L757.9,210.1 L756.5,211.9 L755.2,213.6 L754.0,215.1 L753.1,216.4 L752.4,217.5 L753.6,218.5 L754.6,217.7 L755.8,216.7 L757.1,215.3 L758.7,213.9 L760.3,212.3 L762.0,210.6 L763.7,209.0 L765.4,207.4 L767.1,205.9 L768.9,204.3 L770.7,202.7 L772.6,201.1 L774.6,199.4 L776.5,197.6 L778.5,195.8 L780.5,193.9 L782.4,191.9 L784.4,189.9 L786.4,187.8 L788.4,185.7 L790.3,183.5 L792.2,181.3 L794.1,179.2 L796.0,177.0 L797.8,174.8 L799.5,172.6 L801.1,170.4 L802.7,168.2 L804.3,166.1 L805.8,164.1 L807.4,162.1 L809.0,160.2 L810.6,158.4 L812.2,156.6 L813.9,154.9 L815.7,153.2 L817.4,151.5 L819.2,149.7 L821.0,147.8 L822.8,145.8 L824.7,143.6 L826.8,141.2 L828.8,138.6 L830.9,136.0 L832.8,133.5 L834.4,131.2 L835.8,129.2 L836.6,127.6Z" fill="#12d040" stroke="#0a1a0a" stroke-width="1.2" stroke-linejoin="round"/>
<path d="M815.0,108.5 L814.3,108.4 L813.5,108.4 L812.6,108.4 L811.5,108.5 L810.2,108.7 L808.8,109.0 L807.1,109.4 L805.4,110.0 L803.4,110.8 L801.2,111.7 L798.8,112.7 L796.3,113.9 L793.7,115.2 L791.1,116.6 L788.5,118.1 L786.1,119.8 L783.8,121.5 L781.5,123.3 L779.3,125.2 L777.0,127.2 L774.9,129.4 L772.8,131.6 L770.8,133.9 L768.8,136.3 L767.0,138.8 L765.2,141.3 L763.5,143.9 L761.8,146.6 L760.3,149.5 L758.7,152.4 L757.3,155.5 L755.9,158.7 L754.6,162.0 L753.3,165.5 L752.1,169.1 L751.0,172.9 L750.0,176.7 L749.0,180.5 L748.1,184.4 L747.3,188.4 L746.5,192.6 L745.8,197.3 L745.2,202.2 L744.6,207.0 L744.2,211.6 L743.8,215.7 L743.6,219.2 L743.5,221.8 L745.5,222.2 L746.2,219.6 L747.0,216.2 L747.8,212.1 L748.8,207.6 L749.7,202.9 L750.7,198.2 L751.7,193.7 L752.7,189.6 L753.7,185.8 L754.8,182.1 L755.9,178.4 L757.1,174.7 L758.3,171.2 L759.5,167.7 L760.8,164.5 L762.1,161.3 L763.5,158.4 L764.9,155.5 L766.4,152.8 L767.9,150.2 L769.4,147.7 L771.0,145.2 L772.7,142.8 L774.4,140.5 L776.1,138.2 L777.9,136.0 L779.8,133.9 L781.7,131.8 L783.6,129.8 L785.6,127.9 L787.5,126.0 L789.5,124.2 L791.6,122.5 L793.8,120.9 L796.1,119.3 L798.4,117.7 L800.7,116.2 L802.9,114.9 L804.9,113.6 L806.6,112.6 L808.1,111.7 L809.5,111.0 L810.7,110.4 L811.8,109.9 L812.8,109.6 L813.7,109.2 L814.4,108.9 L815.0,108.5Z" fill="#12d040" stroke="#0a1a0a" stroke-width="1.2" stroke-linejoin="round"/>
<path d="M823.2,104.1 L821.5,103.9 L819.3,103.9 L816.6,103.9 L813.7,104.1 L810.6,104.3 L807.5,104.6 L804.4,105.0 L801.7,105.6 L799.1,106.3 L796.7,107.1 L794.3,107.9 L791.9,108.9 L789.5,110.0 L787.2,111.2 L784.8,112.6 L782.4,114.2 L779.9,116.0 L777.5,118.0 L775.0,120.1 L772.5,122.3 L770.1,124.7 L767.8,127.3 L765.5,129.9 L763.3,132.7 L761.2,135.5 L759.2,138.5 L757.2,141.6 L755.3,144.8 L753.5,148.1 L751.8,151.5 L750.2,155.1 L748.6,158.8 L747.2,162.6 L745.9,166.7 L744.7,170.8 L743.5,175.1 L742.5,179.4 L741.6,183.7 L740.8,188.0 L740.0,192.1 L739.4,196.4 L738.9,201.0 L738.6,205.6 L738.3,210.1 L738.1,214.4 L738.0,218.3 L737.9,221.5 L738.0,223.9 L740.0,224.1 L740.5,221.7 L741.1,218.5 L741.6,214.7 L742.2,210.5 L742.8,206.1 L743.5,201.6 L744.3,197.2 L745.2,193.1 L746.1,189.1 L747.1,185.0 L748.2,180.9 L749.4,176.7 L750.6,172.6 L752.0,168.6 L753.3,164.8 L754.8,161.2 L756.3,157.8 L757.9,154.5 L759.6,151.3 L761.3,148.2 L763.1,145.2 L765.0,142.4 L766.9,139.6 L768.9,136.9 L770.9,134.3 L773.0,131.9 L775.1,129.4 L777.3,127.1 L779.5,124.9 L781.7,122.9 L783.9,120.9 L786.0,119.2 L788.1,117.6 L790.2,116.1 L792.2,114.9 L794.2,113.7 L796.3,112.6 L798.5,111.6 L800.7,110.7 L802.9,109.8 L805.4,108.9 L808.2,108.1 L811.1,107.3 L814.1,106.6 L816.9,106.0 L819.5,105.3 L821.6,104.8 L823.2,104.1Z" fill="#12d040" stroke="#0a1a0a" stroke-width="1.2" stroke-linejoin="round"/>
<ellipse transform="translate(731,236.5) rotate(-25)" rx="4.6" ry="6.5" fill="#9a6a08" stroke="#111" stroke-width="0.9"/>
<ellipse transform="translate(740.5,230) rotate(0)" rx="4.6" ry="7" fill="#9a6a08" stroke="#111" stroke-width="0.9"/>
<ellipse transform="translate(749.8,220) rotate(18)" rx="4.2" ry="6.5" fill="#9a6a08" stroke="#111" stroke-width="0.9"/>
<path d="M734,241 L753,229 L754,246 L736,250Z" fill="#9a6a08"/>
<path d="M827,43.4 L757.4,43.4" fill="none" stroke="#1a1a1a" stroke-width="1.0"/>
<path d="M827,43.4 L758.8,54.4" fill="none" stroke="#1a1a1a" stroke-width="1.0"/>
<path d="M837.3,112.3 L758.8,111" fill="none" stroke="#1a1a1a" stroke-width="1.0"/>
<path d="M837.3,112.3 L745,123.3" fill="none" stroke="#1a1a1a" stroke-width="1.0"/>
<path d="M848.3,162.7 L800,162.7" fill="none" stroke="#1a1a1a" stroke-width="1.0"/>
<path d="M848.3,162.7 L791.9,144" fill="none" stroke="#1a1a1a" stroke-width="1.0"/>
<path d="M795.5,226.5 L753.7,226.5" fill="none" stroke="#1a1a1a" stroke-width="1.0"/>
<path d="M795.5,275.4 L744.4,275.4" fill="none" stroke="#1a1a1a" stroke-width="1.0"/>
</g>
<g id="young">
<path d="M96,430 L89,414 L89,402 L93,396 L99,395 L105,399 L110,407 L113,430Z" fill="#10a810" stroke="#071207" stroke-width="1.1"/>
<path d="M86.6,411.0 L86.6,411.7 L86.6,412.7 L86.7,413.8 L86.8,415.1 L86.9,416.4 L87.1,417.7 L87.4,418.9 L87.6,420.0 L87.9,421.1 L88.3,422.3 L88.7,423.5 L89.2,424.6 L89.8,425.7 L90.3,426.5 L90.9,427.3 L91.3,427.8 L96.7,425.2 L96.6,424.5 L96.3,423.7 L96.0,422.7 L95.5,421.6 L95.0,420.5 L94.3,419.4 L93.6,418.4 L93.0,417.5 L92.3,416.6 L91.4,415.6 L90.6,414.6 L89.7,413.7 L88.8,412.8 L87.9,412.1 L87.2,411.5 L86.6,411.0Z" fill="#10a810" stroke="#071207" stroke-width="1.1" stroke-linejoin="round"/>
<path d="M86.6,398.0 L86.7,399.2 L86.8,400.8 L87.0,402.8 L87.3,404.9 L87.6,407.1 L88.0,409.3 L88.4,411.5 L88.8,413.5 L89.3,415.4 L89.8,417.6 L90.4,419.7 L91.1,421.8 L91.8,423.8 L92.6,425.5 L93.2,426.9 L93.8,428.0 L99.4,426.0 L99.2,424.9 L98.9,423.3 L98.4,421.5 L97.7,419.5 L97.0,417.4 L96.1,415.4 L95.3,413.4 L94.4,411.5 L93.5,409.7 L92.5,407.8 L91.4,405.8 L90.3,403.8 L89.2,402.0 L88.2,400.4 L87.3,399.0 L86.6,398.0Z" fill="#10a810" stroke="#071207" stroke-width="1.1" stroke-linejoin="round"/>
<path d="M89.2,389.0 L89.3,390.6 L89.4,392.6 L89.6,395.1 L89.8,397.8 L90.2,400.7 L90.5,403.6 L90.9,406.4 L91.3,409.0 L91.8,411.6 L92.3,414.4 L93.0,417.2 L93.6,420.0 L94.3,422.6 L95.1,424.9 L95.8,426.8 L96.3,428.2 L102.1,426.8 L101.9,425.2 L101.5,423.2 L101.0,420.8 L100.4,418.2 L99.6,415.4 L98.8,412.7 L97.9,410.0 L97.1,407.5 L96.2,405.0 L95.1,402.4 L94.1,399.7 L92.9,397.0 L91.8,394.5 L90.8,392.3 L89.9,390.4 L89.2,389.0Z" fill="#10a810" stroke="#071207" stroke-width="1.1" stroke-linejoin="round"/>
<path d="M97.0,387.8 L96.8,389.4 L96.7,391.5 L96.6,394.0 L96.5,396.8 L96.4,399.7 L96.4,402.7 L96.4,405.6 L96.5,408.3 L96.6,410.9 L96.7,413.8 L97.0,416.7 L97.3,419.6 L97.6,422.3 L98.1,424.8 L98.5,426.8 L98.8,428.4 L104.8,427.6 L104.7,426.1 L104.7,424.0 L104.5,421.5 L104.2,418.8 L103.8,415.9 L103.4,413.0 L102.9,410.2 L102.3,407.5 L101.8,404.9 L101.1,402.1 L100.4,399.2 L99.6,396.4 L98.9,393.7 L98.2,391.3 L97.5,389.3 L97.0,387.8Z" fill="#10a810" stroke="#071207" stroke-width="1.1" stroke-linejoin="round"/>
<path d="M104.7,394.2 L104.3,395.5 L103.9,397.2 L103.5,399.2 L103.0,401.5 L102.6,403.9 L102.2,406.3 L101.9,408.6 L101.6,410.8 L101.4,413.0 L101.2,415.4 L101.0,417.8 L101.0,420.2 L101.0,422.4 L101.1,424.5 L101.3,426.2 L101.4,427.5 L107.4,427.5 L107.6,426.2 L107.8,424.5 L107.9,422.5 L108.0,420.2 L107.9,417.9 L107.8,415.4 L107.7,413.1 L107.5,410.9 L107.3,408.7 L107.0,406.3 L106.6,403.9 L106.2,401.5 L105.8,399.2 L105.4,397.2 L105.0,395.5 L104.7,394.2Z" fill="#10a810" stroke="#071207" stroke-width="1.1" stroke-linejoin="round"/>
<path d="M109.9,400.7 L109.4,401.7 L108.9,403.0 L108.3,404.5 L107.7,406.3 L107.1,408.1 L106.5,410.0 L105.9,411.8 L105.5,413.5 L105.1,415.2 L104.7,417.1 L104.4,419.0 L104.2,420.9 L104.0,422.7 L104.0,424.3 L104.0,425.6 L104.0,426.7 L110.0,427.3 L110.2,426.3 L110.6,425.0 L110.9,423.4 L111.1,421.6 L111.3,419.7 L111.4,417.8 L111.4,415.9 L111.4,414.2 L111.3,412.4 L111.2,410.5 L111.1,408.6 L110.8,406.6 L110.6,404.8 L110.4,403.1 L110.1,401.8 L109.9,400.7Z" fill="#10a810" stroke="#071207" stroke-width="1.1" stroke-linejoin="round"/>
<path d="M88.0,404.0 L88.0,405.1 L88.0,406.5 L88.0,408.2 L88.1,410.1 L88.2,412.0 L88.4,414.0 L88.6,415.9 L88.8,417.7 L89.1,419.5 L89.5,421.4 L89.9,423.3 L90.3,425.2 L90.8,426.9 L91.4,428.5 L91.9,429.8 L92.3,430.7 L97.7,429.3 L97.6,428.2 L97.4,426.9 L97.1,425.2 L96.6,423.5 L96.1,421.6 L95.5,419.7 L94.8,417.9 L94.2,416.3 L93.5,414.6 L92.7,412.9 L91.8,411.1 L91.0,409.3 L90.1,407.6 L89.3,406.2 L88.6,404.9 L88.0,404.0Z" fill="#10a810" stroke="#071207" stroke-width="1.1" stroke-linejoin="round"/>
<path d="M93.0,396.0 L92.9,397.4 L92.9,399.3 L92.8,401.5 L92.9,403.9 L92.9,406.5 L93.0,409.1 L93.1,411.6 L93.3,414.0 L93.5,416.3 L93.8,418.8 L94.1,421.4 L94.5,423.9 L94.9,426.3 L95.4,428.4 L95.9,430.1 L96.3,431.5 L101.7,430.5 L101.7,429.2 L101.5,427.3 L101.3,425.2 L100.9,422.8 L100.4,420.3 L99.9,417.8 L99.3,415.3 L98.7,413.0 L98.1,410.8 L97.4,408.3 L96.6,405.9 L95.8,403.4 L95.0,401.1 L94.2,399.0 L93.5,397.3 L93.0,396.0Z" fill="#10a810" stroke="#071207" stroke-width="1.1" stroke-linejoin="round"/>
<path d="M100.0,397.0 L99.8,398.3 L99.6,400.1 L99.4,402.2 L99.2,404.6 L99.0,407.0 L98.9,409.5 L98.8,412.0 L98.8,414.2 L98.8,416.5 L98.8,418.9 L98.9,421.4 L99.1,423.8 L99.3,426.2 L99.6,428.2 L100.0,429.9 L100.2,431.2 L105.8,430.8 L105.8,429.4 L105.8,427.7 L105.8,425.6 L105.6,423.3 L105.3,420.8 L105.0,418.4 L104.6,416.0 L104.2,413.8 L103.8,411.5 L103.3,409.2 L102.7,406.7 L102.1,404.3 L101.5,402.0 L100.9,400.0 L100.4,398.3 L100.0,397.0Z" fill="#10a810" stroke="#071207" stroke-width="1.1" stroke-linejoin="round"/>
<path d="M107.0,402.0 L106.7,403.1 L106.4,404.6 L106.0,406.4 L105.6,408.3 L105.3,410.4 L105.0,412.5 L104.7,414.6 L104.5,416.5 L104.3,418.4 L104.1,420.5 L104.0,422.6 L104.0,424.7 L104.0,426.6 L104.1,428.4 L104.3,429.9 L104.5,431.0 L109.5,431.0 L109.7,429.9 L109.9,428.4 L110.0,426.6 L110.0,424.7 L110.0,422.6 L109.9,420.5 L109.7,418.4 L109.5,416.5 L109.3,414.6 L109.0,412.5 L108.7,410.4 L108.4,408.3 L108.0,406.4 L107.6,404.6 L107.3,403.1 L107.0,402.0Z" fill="#10a810" stroke="#071207" stroke-width="1.1" stroke-linejoin="round"/>
<path d="M120,432 L126.7,393 L133,372 L141,376 L150,372 L139.6,408.4 L137,432Z" fill="#10a810" stroke="#071207" stroke-width="1.1" stroke-linejoin="round"/>
<path d="M135,372 L148,372 L140.6,383Z" fill="#0a0a0a"/>
<path d="M127.6,367.6 L127.5,368.4 L127.3,369.4 L127.2,370.5 L127.1,371.9 L127.0,373.2 L127.0,374.6 L127.0,376.0 L127.0,377.2 L127.1,378.5 L127.2,379.8 L127.3,381.1 L127.6,382.5 L127.8,383.7 L128.1,384.8 L128.4,385.7 L128.7,386.4 L133.3,385.6 L133.3,384.8 L133.3,383.9 L133.2,382.7 L133.0,381.5 L132.7,380.2 L132.3,378.8 L132.0,377.6 L131.6,376.4 L131.2,375.2 L130.7,373.9 L130.1,372.7 L129.6,371.4 L129.0,370.2 L128.5,369.1 L128.0,368.3 L127.6,367.6Z" fill="#10a810" stroke="#071207" stroke-width="1.1" stroke-linejoin="round"/>
<path d="M152.5,371.5 L151.3,372.8 L149.8,374.5 L148.1,376.6 L146.1,378.9 L144.1,381.4 L142.2,384.0 L140.2,386.4 L138.5,388.8 L136.8,391.2 L135.0,393.7 L133.2,396.4 L131.5,399.1 L130.0,401.6 L128.7,404.0 L127.6,406.0 L126.9,407.5 L131.5,410.5 L132.6,409.1 L133.9,407.3 L135.4,405.0 L137.1,402.5 L138.7,399.8 L140.3,397.0 L141.8,394.3 L143.2,391.7 L144.5,389.1 L145.9,386.3 L147.3,383.4 L148.7,380.5 L149.9,377.7 L151.0,375.2 L151.9,373.1 L152.5,371.5Z" fill="#10a810" stroke="#071207" stroke-width="1.1" stroke-linejoin="round"/>
<path d="M127.0,383.0 L126.6,384.1 L126.2,385.6 L125.7,387.3 L125.2,389.2 L124.7,391.3 L124.2,393.4 L123.8,395.4 L123.5,397.3 L123.2,399.2 L122.9,401.3 L122.6,403.4 L122.4,405.4 L122.3,407.4 L122.3,409.2 L122.4,410.7 L122.5,411.8 L127.5,412.2 L127.8,411.1 L128.0,409.6 L128.3,407.8 L128.4,405.9 L128.5,403.8 L128.6,401.7 L128.6,399.6 L128.5,397.7 L128.4,395.7 L128.3,393.7 L128.1,391.5 L127.9,389.4 L127.7,387.4 L127.4,385.6 L127.2,384.1 L127.0,383.0Z" fill="#10a810" stroke="#071207" stroke-width="1.1" stroke-linejoin="round"/>
<rect transform="translate(131.8,390.3) rotate(12)" x="-2.1" y="-5.0" width="4.2" height="10" rx="1.909090909090909" ry="2.625" fill="#aa7310" stroke="#120c00" stroke-width="1.0"/>
<path d="M95.7,426.5 L97,457.5 L97,491 L108.6,523.8 L125.4,523.8 L130.6,496.3 L130.6,457.5 L137,431.7 L138,420 L120,415 L100,420 Z" fill="#10a810" stroke="#071207" stroke-width="1.1" stroke-linejoin="round"/>
<path d="M139.6,408.4 L139.0,409.4 L138.2,410.7 L137.3,412.3 L136.4,414.0 L135.5,415.9 L134.5,417.8 L133.7,419.7 L132.9,421.4 L132.2,423.2 L131.5,425.1 L130.9,427.1 L130.3,429.0 L129.8,430.9 L129.5,432.6 L129.3,434.1 L129.1,435.2 L134.9,436.8 L135.3,435.8 L135.9,434.4 L136.5,432.8 L137.0,430.9 L137.5,428.9 L138.0,426.9 L138.4,424.9 L138.7,423.0 L138.9,421.1 L139.1,419.1 L139.3,417.0 L139.5,414.9 L139.6,412.9 L139.6,411.1 L139.6,409.6 L139.6,408.4Z" fill="#10a810" stroke="#071207" stroke-width="1.1" stroke-linejoin="round"/>
<path d="M127.0,404.0 L126.5,405.0 L126.0,406.4 L125.4,408.1 L124.8,410.0 L124.1,411.9 L123.5,413.9 L123.0,415.9 L122.6,417.7 L122.1,419.5 L121.8,421.5 L121.4,423.5 L121.2,425.5 L121.0,427.4 L121.0,429.1 L121.0,430.6 L121.0,431.7 L127.0,432.3 L127.2,431.3 L127.6,429.8 L127.9,428.1 L128.1,426.2 L128.3,424.2 L128.4,422.2 L128.5,420.2 L128.4,418.3 L128.4,416.4 L128.3,414.4 L128.1,412.3 L127.9,410.3 L127.7,408.3 L127.5,406.6 L127.2,405.1 L127.0,404.0Z" fill="#10a810" stroke="#071207" stroke-width="1.1" stroke-linejoin="round"/>
<path d="M118.0,406.0 L117.6,407.1 L117.1,408.5 L116.5,410.1 L116.0,412.0 L115.4,414.0 L114.9,416.0 L114.4,418.0 L114.0,419.8 L113.7,421.6 L113.4,423.6 L113.1,425.6 L112.9,427.6 L112.8,429.5 L112.9,431.2 L112.9,432.7 L113.0,433.8 L119.0,434.2 L119.2,433.1 L119.5,431.7 L119.8,430.0 L119.9,428.1 L120.0,426.1 L120.1,424.1 L120.0,422.1 L120.0,420.2 L119.8,418.3 L119.7,416.3 L119.4,414.3 L119.1,412.2 L118.9,410.3 L118.5,408.6 L118.3,407.1 L118.0,406.0Z" fill="#10a810" stroke="#071207" stroke-width="1.1" stroke-linejoin="round"/>
<path d="M109.0,408.0 L108.6,409.1 L108.2,410.5 L107.7,412.2 L107.2,414.1 L106.7,416.1 L106.2,418.1 L105.9,420.1 L105.5,421.9 L105.3,423.7 L105.0,425.7 L104.8,427.7 L104.7,429.8 L104.7,431.7 L104.8,433.4 L104.9,434.8 L105.0,435.9 L111.0,436.1 L111.2,435.0 L111.4,433.6 L111.6,431.9 L111.7,430.0 L111.7,428.0 L111.7,425.9 L111.6,424.0 L111.5,422.1 L111.3,420.3 L111.0,418.3 L110.7,416.2 L110.4,414.2 L110.0,412.3 L109.6,410.5 L109.3,409.1 L109.0,408.0Z" fill="#10a810" stroke="#071207" stroke-width="1.1" stroke-linejoin="round"/>
<path d="M99.0,414.0 L98.7,415.0 L98.4,416.4 L98.1,418.0 L97.7,419.7 L97.4,421.6 L97.1,423.5 L96.9,425.4 L96.7,427.1 L96.6,428.8 L96.5,430.7 L96.5,432.6 L96.5,434.4 L96.6,436.2 L96.8,437.8 L97.0,439.1 L97.2,440.1 L102.8,439.9 L102.9,438.9 L103.0,437.5 L103.1,436.0 L103.0,434.2 L102.9,432.3 L102.7,430.4 L102.5,428.6 L102.3,426.9 L101.9,425.2 L101.6,423.4 L101.2,421.5 L100.7,419.6 L100.2,417.9 L99.8,416.3 L99.4,415.0 L99.0,414.0Z" fill="#10a810" stroke="#071207" stroke-width="1.1" stroke-linejoin="round"/>
<path d="M144.8,429.0 L144.0,429.9 L143.0,431.1 L141.8,432.6 L140.6,434.2 L139.3,436.0 L138.0,437.8 L136.8,439.6 L135.7,441.2 L134.7,442.9 L133.6,444.8 L132.6,446.7 L131.6,448.6 L130.8,450.4 L130.1,452.1 L129.6,453.6 L129.3,454.7 L134.7,457.3 L135.3,456.3 L136.2,455.0 L137.1,453.4 L138.0,451.6 L138.8,449.6 L139.7,447.6 L140.4,445.6 L141.1,443.8 L141.7,441.9 L142.3,439.8 L142.9,437.7 L143.4,435.6 L143.9,433.6 L144.3,431.7 L144.6,430.2 L144.8,429.0Z" fill="#10a810" stroke="#071207" stroke-width="1.1" stroke-linejoin="round"/>
<path d="M124.0,428.0 L123.6,429.1 L123.1,430.5 L122.5,432.1 L122.0,434.0 L121.4,436.0 L120.9,438.0 L120.4,440.0 L120.0,441.8 L119.7,443.6 L119.4,445.6 L119.1,447.6 L118.9,449.6 L118.8,451.5 L118.9,453.2 L118.9,454.7 L119.0,455.8 L125.0,456.2 L125.2,455.1 L125.5,453.7 L125.8,452.0 L125.9,450.1 L126.0,448.1 L126.1,446.1 L126.0,444.1 L126.0,442.2 L125.8,440.3 L125.7,438.3 L125.4,436.3 L125.1,434.2 L124.9,432.3 L124.5,430.6 L124.3,429.1 L124.0,428.0Z" fill="#10a810" stroke="#071207" stroke-width="1.1" stroke-linejoin="round"/>
<path d="M112.0,430.0 L111.7,431.1 L111.4,432.5 L111.0,434.3 L110.6,436.2 L110.3,438.2 L110.0,440.3 L109.7,442.3 L109.5,444.1 L109.4,446.0 L109.3,447.9 L109.3,450.0 L109.3,452.0 L109.4,453.9 L109.6,455.6 L109.8,457.0 L110.0,458.1 L116.0,457.9 L116.1,456.8 L116.2,455.4 L116.3,453.7 L116.3,451.8 L116.2,449.7 L116.0,447.7 L115.7,445.7 L115.5,443.9 L115.1,442.1 L114.8,440.1 L114.3,438.1 L113.8,436.1 L113.3,434.2 L112.8,432.5 L112.4,431.1 L112.0,430.0Z" fill="#10a810" stroke="#071207" stroke-width="1.1" stroke-linejoin="round"/>
<path d="M101.0,434.0 L100.8,435.1 L100.5,436.6 L100.3,438.3 L100.1,440.3 L99.9,442.3 L99.7,444.4 L99.6,446.4 L99.6,448.3 L99.5,450.2 L99.6,452.2 L99.7,454.2 L99.9,456.2 L100.1,458.1 L100.4,459.8 L100.8,461.3 L101.0,462.3 L107.0,461.7 L107.0,460.6 L107.0,459.1 L107.0,457.4 L106.8,455.5 L106.6,453.5 L106.2,451.5 L105.9,449.5 L105.4,447.7 L105.0,445.9 L104.5,443.9 L103.9,441.9 L103.2,440.0 L102.6,438.1 L102.0,436.4 L101.5,435.0 L101.0,434.0Z" fill="#10a810" stroke="#071207" stroke-width="1.1" stroke-linejoin="round"/>
<path d="M133.0,452.4 L132.5,453.3 L131.8,454.6 L131.1,456.0 L130.3,457.7 L129.6,459.5 L128.8,461.2 L128.2,463.0 L127.6,464.6 L127.1,466.3 L126.5,468.1 L126.1,469.9 L125.7,471.7 L125.4,473.5 L125.2,475.1 L125.1,476.4 L125.1,477.4 L130.9,478.6 L131.3,477.6 L131.7,476.3 L132.2,474.8 L132.5,473.1 L132.8,471.2 L133.1,469.3 L133.3,467.5 L133.4,465.8 L133.5,464.0 L133.5,462.2 L133.5,460.2 L133.5,458.3 L133.4,456.5 L133.3,454.8 L133.1,453.5 L133.0,452.4Z" fill="#10a810" stroke="#071207" stroke-width="1.1" stroke-linejoin="round"/>
<path d="M120.0,452.0 L119.6,453.1 L119.2,454.5 L118.7,456.2 L118.2,458.1 L117.7,460.1 L117.2,462.1 L116.9,464.1 L116.5,465.9 L116.3,467.7 L116.0,469.7 L115.8,471.7 L115.7,473.8 L115.7,475.7 L115.8,477.4 L115.9,478.8 L116.0,479.9 L122.0,480.1 L122.2,479.0 L122.4,477.6 L122.6,475.9 L122.7,474.0 L122.7,472.0 L122.7,469.9 L122.6,468.0 L122.5,466.1 L122.3,464.3 L122.0,462.3 L121.7,460.2 L121.4,458.2 L121.0,456.3 L120.6,454.5 L120.3,453.1 L120.0,452.0Z" fill="#10a810" stroke="#071207" stroke-width="1.1" stroke-linejoin="round"/>
<path d="M107.0,454.0 L106.7,455.1 L106.5,456.6 L106.1,458.3 L105.9,460.2 L105.6,462.3 L105.3,464.3 L105.2,466.3 L105.0,468.2 L105.0,470.1 L104.9,472.1 L105.0,474.1 L105.1,476.1 L105.2,478.0 L105.5,479.7 L105.8,481.1 L106.0,482.2 L112.0,481.8 L112.1,480.7 L112.1,479.2 L112.2,477.5 L112.1,475.6 L111.9,473.6 L111.6,471.6 L111.3,469.6 L111.0,467.8 L110.6,466.0 L110.1,464.0 L109.6,462.0 L109.0,460.0 L108.5,458.1 L107.9,456.5 L107.4,455.1 L107.0,454.0Z" fill="#10a810" stroke="#071207" stroke-width="1.1" stroke-linejoin="round"/>
<path d="M96.5,458.0 L96.4,459.1 L96.2,460.5 L96.1,462.1 L96.0,463.9 L96.0,465.9 L95.9,467.8 L96.0,469.7 L96.0,471.5 L96.1,473.2 L96.3,475.1 L96.5,477.0 L96.8,478.9 L97.2,480.6 L97.5,482.2 L97.9,483.5 L98.3,484.5 L103.7,483.5 L103.7,482.5 L103.6,481.1 L103.5,479.5 L103.2,477.8 L102.8,475.9 L102.4,474.0 L101.9,472.2 L101.5,470.5 L100.9,468.9 L100.3,467.1 L99.6,465.2 L98.9,463.4 L98.2,461.7 L97.6,460.2 L97.0,458.9 L96.5,458.0Z" fill="#10a810" stroke="#071207" stroke-width="1.1" stroke-linejoin="round"/>
<path d="M133.0,471.7 L132.4,472.7 L131.7,474.1 L131.0,475.7 L130.1,477.6 L129.3,479.5 L128.5,481.5 L127.7,483.4 L127.1,485.2 L126.5,487.1 L125.9,489.0 L125.4,491.1 L124.9,493.1 L124.5,495.0 L124.3,496.8 L124.1,498.3 L124.1,499.4 L129.9,500.6 L130.3,499.6 L130.8,498.1 L131.3,496.4 L131.7,494.5 L132.1,492.5 L132.4,490.4 L132.7,488.4 L132.9,486.5 L133.0,484.5 L133.2,482.5 L133.2,480.3 L133.2,478.2 L133.2,476.2 L133.2,474.4 L133.1,472.9 L133.0,471.7Z" fill="#10a810" stroke="#071207" stroke-width="1.1" stroke-linejoin="round"/>
<path d="M118.0,474.0 L117.6,475.1 L117.2,476.5 L116.7,478.2 L116.2,480.1 L115.7,482.1 L115.2,484.1 L114.9,486.1 L114.5,487.9 L114.3,489.7 L114.0,491.7 L113.8,493.7 L113.7,495.8 L113.7,497.7 L113.8,499.4 L113.9,500.8 L114.0,501.9 L120.0,502.1 L120.2,501.0 L120.4,499.6 L120.6,497.9 L120.7,496.0 L120.7,494.0 L120.7,491.9 L120.6,490.0 L120.5,488.1 L120.3,486.3 L120.0,484.3 L119.7,482.2 L119.4,480.2 L119.0,478.3 L118.6,476.5 L118.3,475.1 L118.0,474.0Z" fill="#10a810" stroke="#071207" stroke-width="1.1" stroke-linejoin="round"/>
<path d="M104.0,476.0 L103.8,477.1 L103.5,478.5 L103.3,480.2 L103.1,482.1 L102.9,484.1 L102.7,486.1 L102.6,488.0 L102.6,489.8 L102.5,491.6 L102.6,493.6 L102.7,495.5 L102.9,497.5 L103.1,499.3 L103.4,500.9 L103.8,502.3 L104.0,503.3 L110.0,502.7 L110.0,501.6 L110.0,500.2 L110.0,498.5 L109.8,496.7 L109.6,494.8 L109.2,492.8 L108.8,490.9 L108.4,489.2 L108.0,487.4 L107.5,485.5 L106.9,483.6 L106.2,481.7 L105.6,479.9 L105.0,478.3 L104.5,477.0 L104.0,476.0Z" fill="#10a810" stroke="#071207" stroke-width="1.1" stroke-linejoin="round"/>
<path d="M96.0,480.0 L95.9,480.8 L95.8,481.9 L95.7,483.2 L95.6,484.6 L95.6,486.1 L95.6,487.6 L95.6,489.1 L95.7,490.5 L95.8,491.8 L96.0,493.2 L96.2,494.7 L96.4,496.2 L96.7,497.5 L97.1,498.7 L97.4,499.7 L97.7,500.5 L102.3,499.5 L102.3,498.7 L102.2,497.7 L102.1,496.4 L101.8,495.1 L101.5,493.7 L101.1,492.2 L100.7,490.8 L100.3,489.5 L99.8,488.3 L99.3,486.9 L98.7,485.5 L98.1,484.1 L97.5,482.8 L96.9,481.7 L96.4,480.7 L96.0,480.0Z" fill="#10a810" stroke="#071207" stroke-width="1.1" stroke-linejoin="round"/>
<path d="M129.3,498.9 L128.8,499.8 L128.2,500.9 L127.5,502.3 L126.7,503.9 L125.9,505.5 L125.2,507.2 L124.5,508.8 L124.0,510.4 L123.4,511.9 L122.9,513.6 L122.4,515.3 L122.0,517.0 L121.7,518.7 L121.5,520.2 L121.3,521.4 L121.3,522.4 L126.7,523.6 L127.1,522.7 L127.5,521.5 L127.9,520.1 L128.3,518.4 L128.7,516.7 L129.0,514.9 L129.2,513.2 L129.3,511.5 L129.5,509.9 L129.5,508.1 L129.6,506.3 L129.6,504.5 L129.5,502.8 L129.5,501.2 L129.4,499.9 L129.3,498.9Z" fill="#10a810" stroke="#071207" stroke-width="1.1" stroke-linejoin="round"/>
<path d="M115.0,496.0 L114.7,497.1 L114.4,498.5 L114.0,500.3 L113.6,502.2 L113.3,504.2 L113.0,506.3 L112.7,508.3 L112.5,510.1 L112.4,512.0 L112.3,513.9 L112.3,516.0 L112.3,518.0 L112.4,519.9 L112.6,521.6 L112.8,523.0 L113.0,524.1 L119.0,523.9 L119.1,522.8 L119.2,521.4 L119.3,519.7 L119.3,517.8 L119.2,515.7 L119.0,513.7 L118.7,511.7 L118.5,509.9 L118.1,508.1 L117.8,506.1 L117.3,504.1 L116.8,502.1 L116.3,500.2 L115.8,498.5 L115.4,497.1 L115.0,496.0Z" fill="#10a810" stroke="#071207" stroke-width="1.1" stroke-linejoin="round"/>
<path d="M105.0,498.0 L104.8,499.0 L104.7,500.4 L104.5,501.9 L104.4,503.7 L104.3,505.6 L104.3,507.4 L104.3,509.2 L104.3,510.9 L104.4,512.6 L104.5,514.4 L104.7,516.2 L104.9,518.0 L105.2,519.7 L105.6,521.2 L106.0,522.5 L106.3,523.4 L111.7,522.6 L111.7,521.6 L111.7,520.3 L111.6,518.7 L111.3,517.0 L111.0,515.2 L110.6,513.4 L110.2,511.7 L109.7,510.1 L109.2,508.5 L108.6,506.7 L108.0,505.0 L107.3,503.2 L106.7,501.6 L106.0,500.1 L105.5,498.9 L105.0,498.0Z" fill="#10a810" stroke="#071207" stroke-width="1.1" stroke-linejoin="round"/>
<path d="M131.0,411.0 L130.7,411.9 L130.3,413.2 L129.8,414.7 L129.3,416.3 L128.8,418.1 L128.4,419.9 L128.0,421.6 L127.6,423.3 L127.3,424.9 L127.0,426.7 L126.7,428.5 L126.4,430.3 L126.2,432.0 L126.1,433.5 L126.1,434.8 L126.1,435.8 L129.9,436.2 L130.1,435.3 L130.4,434.0 L130.7,432.5 L130.9,430.8 L131.1,429.0 L131.2,427.2 L131.3,425.4 L131.4,423.7 L131.4,422.1 L131.4,420.3 L131.4,418.4 L131.4,416.6 L131.3,414.9 L131.2,413.3 L131.1,412.0 L131.0,411.0Z" fill="#10a810" stroke="#071207" stroke-width="1.1" stroke-linejoin="round"/>
<rect transform="translate(104.7,435.6) rotate(-10)" x="-3.7" y="-7.0" width="7.4" height="14" rx="3.3636363636363633" ry="4.625" fill="#aa7310" stroke="#120c00" stroke-width="1.0"/>
<rect transform="translate(121,430.4) rotate(10)" x="-3.7" y="-7.0" width="7.4" height="14" rx="3.3636363636363633" ry="4.625" fill="#aa7310" stroke="#120c00" stroke-width="1.0"/>
<rect transform="translate(110.4,447.2) rotate(0)" x="-3.7" y="-7.0" width="7.4" height="14" rx="3.3636363636363633" ry="4.625" fill="#aa7310" stroke="#120c00" stroke-width="1.0"/>
<rect transform="translate(127.5,442) rotate(20)" x="-3.7" y="-7.0" width="7.4" height="14" rx="3.3636363636363633" ry="4.625" fill="#aa7310" stroke="#120c00" stroke-width="1.0"/>
<rect transform="translate(125.4,453.6) rotate(20)" x="-3.7" y="-7.0" width="7.4" height="14" rx="3.3636363636363633" ry="4.625" fill="#aa7310" stroke="#120c00" stroke-width="1.0"/>
<rect transform="translate(103.4,462.7) rotate(-10)" x="-3.7" y="-7.0" width="7.4" height="14" rx="3.3636363636363633" ry="4.625" fill="#aa7310" stroke="#120c00" stroke-width="1.0"/>
<rect transform="translate(113.8,476.9) rotate(15)" x="-3.7" y="-7.0" width="7.4" height="14" rx="3.3636363636363633" ry="4.625" fill="#aa7310" stroke="#120c00" stroke-width="1.0"/>
<rect transform="translate(101.6,487.2) rotate(-10)" x="-3.7" y="-7.0" width="7.4" height="14" rx="3.3636363636363633" ry="4.625" fill="#aa7310" stroke="#120c00" stroke-width="1.0"/>
<rect transform="translate(108,501.4) rotate(0)" x="-3.7" y="-7.0" width="7.4" height="14" rx="3.3636363636363633" ry="4.625" fill="#aa7310" stroke="#120c00" stroke-width="1.0"/>
<rect transform="translate(121,504) rotate(10)" x="-3.7" y="-7.0" width="7.4" height="14" rx="3.3636363636363633" ry="4.625" fill="#aa7310" stroke="#120c00" stroke-width="1.0"/>
<clipPath id="ycl"><ellipse transform="translate(144.8,355.3) rotate(35)" rx="15.5" ry="20.5"/></clipPath>
<ellipse transform="translate(144.8,355.3) rotate(35)" rx="15.5" ry="20.5" fill="#4a2c00"/>
<g clip-path="url(#ycl)"><g fill="#e69a12" transform="rotate(25,144.8,355.3)"><ellipse cx="123.1" cy="331.8" rx="1.42" ry="1.45"/><ellipse cx="127.3" cy="331.5" rx="1.26" ry="1.57"/><ellipse cx="130.9" cy="331.6" rx="1.70" ry="1.39"/><ellipse cx="135.3" cy="331.8" rx="1.54" ry="1.23"/><ellipse cx="139.0" cy="332.1" rx="1.49" ry="1.52"/><ellipse cx="142.9" cy="331.5" rx="1.59" ry="1.45"/><ellipse cx="146.5" cy="331.4" rx="1.64" ry="1.39"/><ellipse cx="150.8" cy="332.1" rx="1.57" ry="1.61"/><ellipse cx="154.4" cy="332.0" rx="1.45" ry="1.62"/><ellipse cx="158.7" cy="331.5" rx="1.31" ry="1.26"/><ellipse cx="162.7" cy="331.7" rx="1.53" ry="1.30"/><ellipse cx="166.2" cy="331.7" rx="1.41" ry="1.44"/><ellipse cx="125.3" cy="335.5" rx="1.56" ry="1.61"/><ellipse cx="129.4" cy="335.5" rx="1.55" ry="1.23"/><ellipse cx="133.3" cy="335.5" rx="1.66" ry="1.43"/><ellipse cx="137.1" cy="334.9" rx="1.62" ry="1.44"/><ellipse cx="140.7" cy="334.8" rx="1.63" ry="1.64"/><ellipse cx="144.4" cy="335.4" rx="1.43" ry="1.23"/><ellipse cx="148.5" cy="335.4" rx="1.64" ry="1.17"/><ellipse cx="152.6" cy="334.8" rx="1.57" ry="1.32"/><ellipse cx="156.8" cy="335.5" rx="1.48" ry="1.65"/><ellipse cx="160.2" cy="334.8" rx="1.52" ry="1.17"/><ellipse cx="164.0" cy="335.1" rx="1.52" ry="1.23"/><ellipse cx="122.9" cy="338.8" rx="1.39" ry="1.63"/><ellipse cx="127.5" cy="338.4" rx="1.46" ry="1.41"/><ellipse cx="131.2" cy="338.6" rx="1.50" ry="1.46"/><ellipse cx="135.4" cy="338.5" rx="1.44" ry="1.51"/><ellipse cx="138.7" cy="338.3" rx="1.69" ry="1.41"/><ellipse cx="142.8" cy="338.1" rx="1.44" ry="1.44"/><ellipse cx="146.3" cy="338.6" rx="1.53" ry="1.18"/><ellipse cx="150.7" cy="338.5" rx="1.56" ry="1.33"/><ellipse cx="154.7" cy="338.7" rx="1.26" ry="1.18"/><ellipse cx="158.5" cy="338.9" rx="1.36" ry="1.38"/><ellipse cx="162.4" cy="338.4" rx="1.41" ry="1.31"/><ellipse cx="166.1" cy="338.6" rx="1.39" ry="1.34"/><ellipse cx="125.5" cy="341.5" rx="1.51" ry="1.52"/><ellipse cx="129.0" cy="341.6" rx="1.61" ry="1.27"/><ellipse cx="132.8" cy="341.8" rx="1.56" ry="1.20"/><ellipse cx="136.8" cy="341.7" rx="1.63" ry="1.37"/><ellipse cx="141.1" cy="341.6" rx="1.40" ry="1.48"/><ellipse cx="145.1" cy="341.8" rx="1.35" ry="1.21"/><ellipse cx="148.7" cy="341.6" rx="1.61" ry="1.57"/><ellipse cx="152.3" cy="341.7" rx="1.61" ry="1.47"/><ellipse cx="156.7" cy="341.7" rx="1.31" ry="1.30"/><ellipse cx="160.6" cy="341.7" rx="1.41" ry="1.36"/><ellipse cx="164.2" cy="341.8" rx="1.66" ry="1.23"/><ellipse cx="122.9" cy="345.6" rx="1.65" ry="1.64"/><ellipse cx="127.1" cy="345.6" rx="1.67" ry="1.26"/><ellipse cx="131.3" cy="345.5" rx="1.55" ry="1.41"/><ellipse cx="134.8" cy="345.1" rx="1.35" ry="1.18"/><ellipse cx="139.0" cy="345.0" rx="1.61" ry="1.17"/><ellipse cx="143.1" cy="345.4" rx="1.67" ry="1.60"/><ellipse cx="147.0" cy="345.3" rx="1.26" ry="1.52"/><ellipse cx="150.3" cy="345.1" rx="1.55" ry="1.41"/><ellipse cx="154.4" cy="345.6" rx="1.53" ry="1.32"/><ellipse cx="158.2" cy="345.5" rx="1.46" ry="1.54"/><ellipse cx="162.2" cy="345.0" rx="1.49" ry="1.56"/><ellipse cx="165.9" cy="345.4" rx="1.66" ry="1.55"/><ellipse cx="125.5" cy="348.2" rx="1.53" ry="1.58"/><ellipse cx="128.8" cy="348.4" rx="1.37" ry="1.41"/><ellipse cx="133.0" cy="348.5" rx="1.60" ry="1.15"/><ellipse cx="136.6" cy="348.3" rx="1.31" ry="1.18"/><ellipse cx="141.2" cy="348.9" rx="1.29" ry="1.40"/><ellipse cx="144.6" cy="348.4" rx="1.41" ry="1.47"/><ellipse cx="148.7" cy="348.5" rx="1.34" ry="1.31"/><ellipse cx="152.2" cy="348.6" rx="1.57" ry="1.34"/><ellipse cx="156.1" cy="348.3" rx="1.42" ry="1.45"/><ellipse cx="160.6" cy="348.5" rx="1.61" ry="1.46"/><ellipse cx="164.2" cy="348.5" rx="1.47" ry="1.50"/><ellipse cx="123.2" cy="352.1" rx="1.46" ry="1.27"/><ellipse cx="127.2" cy="352.1" rx="1.28" ry="1.36"/><ellipse cx="131.0" cy="352.2" rx="1.67" ry="1.34"/><ellipse cx="135.3" cy="352.2" rx="1.37" ry="1.38"/><ellipse cx="138.6" cy="352.2" rx="1.55" ry="1.59"/><ellipse cx="143.0" cy="352.1" rx="1.58" ry="1.43"/><ellipse cx="146.4" cy="352.0" rx="1.25" ry="1.22"/><ellipse cx="150.8" cy="351.6" rx="1.29" ry="1.20"/><ellipse cx="154.8" cy="351.7" rx="1.26" ry="1.57"/><ellipse cx="158.1" cy="352.2" rx="1.55" ry="1.57"/><ellipse cx="162.7" cy="352.0" rx="1.61" ry="1.17"/><ellipse cx="166.4" cy="351.9" rx="1.57" ry="1.20"/><ellipse cx="125.4" cy="355.6" rx="1.28" ry="1.31"/><ellipse cx="129.2" cy="355.5" rx="1.36" ry="1.24"/><ellipse cx="132.8" cy="355.4" rx="1.59" ry="1.35"/><ellipse cx="136.8" cy="355.2" rx="1.41" ry="1.36"/><ellipse cx="140.5" cy="355.3" rx="1.69" ry="1.36"/><ellipse cx="144.9" cy="355.0" rx="1.56" ry="1.53"/><ellipse cx="148.8" cy="355.3" rx="1.47" ry="1.47"/><ellipse cx="152.9" cy="355.0" rx="1.29" ry="1.52"/><ellipse cx="156.8" cy="355.3" rx="1.45" ry="1.51"/><ellipse cx="160.1" cy="355.1" rx="1.34" ry="1.44"/><ellipse cx="164.1" cy="355.1" rx="1.56" ry="1.63"/><ellipse cx="123.1" cy="358.8" rx="1.44" ry="1.58"/><ellipse cx="127.3" cy="358.4" rx="1.35" ry="1.16"/><ellipse cx="131.1" cy="358.5" rx="1.33" ry="1.33"/><ellipse cx="134.9" cy="358.9" rx="1.31" ry="1.65"/><ellipse cx="138.9" cy="358.7" rx="1.46" ry="1.57"/><ellipse cx="143.1" cy="358.7" rx="1.47" ry="1.51"/><ellipse cx="147.0" cy="358.6" rx="1.58" ry="1.63"/><ellipse cx="150.6" cy="358.4" rx="1.36" ry="1.51"/><ellipse cx="154.6" cy="359.0" rx="1.63" ry="1.27"/><ellipse cx="158.2" cy="358.4" rx="1.33" ry="1.50"/><ellipse cx="162.6" cy="359.0" rx="1.36" ry="1.58"/><ellipse cx="166.1" cy="358.6" rx="1.58" ry="1.19"/><ellipse cx="124.9" cy="362.3" rx="1.38" ry="1.33"/><ellipse cx="129.2" cy="362.1" rx="1.25" ry="1.32"/><ellipse cx="133.0" cy="362.0" rx="1.34" ry="1.44"/><ellipse cx="137.3" cy="361.9" rx="1.49" ry="1.21"/><ellipse cx="140.7" cy="362.1" rx="1.30" ry="1.59"/><ellipse cx="145.1" cy="361.7" rx="1.67" ry="1.34"/><ellipse cx="148.9" cy="362.2" rx="1.38" ry="1.49"/><ellipse cx="152.7" cy="362.2" rx="1.37" ry="1.53"/><ellipse cx="156.8" cy="362.1" rx="1.49" ry="1.21"/><ellipse cx="160.3" cy="361.9" rx="1.57" ry="1.49"/><ellipse cx="164.3" cy="361.7" rx="1.54" ry="1.47"/><ellipse cx="123.0" cy="365.7" rx="1.54" ry="1.21"/><ellipse cx="127.5" cy="365.1" rx="1.40" ry="1.51"/><ellipse cx="131.2" cy="365.4" rx="1.54" ry="1.38"/><ellipse cx="134.8" cy="365.1" rx="1.28" ry="1.51"/><ellipse cx="139.1" cy="365.4" rx="1.58" ry="1.33"/><ellipse cx="142.6" cy="365.2" rx="1.64" ry="1.17"/><ellipse cx="146.7" cy="365.1" rx="1.60" ry="1.33"/><ellipse cx="150.5" cy="365.3" rx="1.49" ry="1.54"/><ellipse cx="154.4" cy="365.6" rx="1.30" ry="1.29"/><ellipse cx="158.1" cy="365.0" rx="1.60" ry="1.51"/><ellipse cx="162.0" cy="365.1" rx="1.44" ry="1.52"/><ellipse cx="166.5" cy="365.5" rx="1.52" ry="1.22"/><ellipse cx="125.2" cy="368.4" rx="1.49" ry="1.43"/><ellipse cx="128.9" cy="368.5" rx="1.60" ry="1.17"/><ellipse cx="133.3" cy="369.0" rx="1.68" ry="1.34"/><ellipse cx="137.0" cy="368.8" rx="1.54" ry="1.64"/><ellipse cx="141.0" cy="368.5" rx="1.64" ry="1.39"/><ellipse cx="144.8" cy="368.9" rx="1.25" ry="1.54"/><ellipse cx="148.8" cy="368.7" rx="1.49" ry="1.38"/><ellipse cx="152.3" cy="368.7" rx="1.27" ry="1.40"/><ellipse cx="156.6" cy="368.6" rx="1.50" ry="1.63"/><ellipse cx="160.7" cy="368.4" rx="1.61" ry="1.46"/><ellipse cx="163.9" cy="368.6" rx="1.36" ry="1.19"/><ellipse cx="123.3" cy="372.4" rx="1.40" ry="1.59"/><ellipse cx="127.4" cy="371.8" rx="1.64" ry="1.45"/><ellipse cx="131.4" cy="372.2" rx="1.58" ry="1.32"/><ellipse cx="135.2" cy="372.4" rx="1.64" ry="1.37"/><ellipse cx="139.1" cy="372.0" rx="1.30" ry="1.17"/><ellipse cx="142.5" cy="371.8" rx="1.32" ry="1.40"/><ellipse cx="146.9" cy="372.1" rx="1.44" ry="1.47"/><ellipse cx="150.4" cy="372.0" rx="1.59" ry="1.35"/><ellipse cx="154.2" cy="372.4" rx="1.57" ry="1.33"/><ellipse cx="158.3" cy="372.1" rx="1.52" ry="1.26"/><ellipse cx="161.9" cy="371.8" rx="1.60" ry="1.22"/><ellipse cx="166.2" cy="371.8" rx="1.34" ry="1.24"/><ellipse cx="125.2" cy="375.1" rx="1.26" ry="1.21"/><ellipse cx="128.9" cy="375.4" rx="1.28" ry="1.16"/><ellipse cx="133.0" cy="375.3" rx="1.57" ry="1.18"/><ellipse cx="136.9" cy="375.3" rx="1.26" ry="1.63"/><ellipse cx="140.6" cy="375.1" rx="1.46" ry="1.23"/><ellipse cx="144.8" cy="375.3" rx="1.31" ry="1.18"/><ellipse cx="148.8" cy="375.2" rx="1.60" ry="1.38"/><ellipse cx="152.9" cy="375.2" rx="1.36" ry="1.28"/><ellipse cx="156.7" cy="375.5" rx="1.41" ry="1.20"/><ellipse cx="160.5" cy="375.8" rx="1.52" ry="1.15"/><ellipse cx="163.9" cy="375.1" rx="1.33" ry="1.17"/><ellipse cx="122.9" cy="378.9" rx="1.66" ry="1.25"/><ellipse cx="127.6" cy="378.7" rx="1.61" ry="1.61"/><ellipse cx="131.5" cy="378.4" rx="1.39" ry="1.45"/><ellipse cx="135.4" cy="378.4" rx="1.38" ry="1.57"/><ellipse cx="138.6" cy="378.7" rx="1.40" ry="1.49"/><ellipse cx="143.1" cy="378.5" rx="1.58" ry="1.52"/><ellipse cx="147.0" cy="378.8" rx="1.67" ry="1.33"/><ellipse cx="150.5" cy="378.5" rx="1.60" ry="1.39"/><ellipse cx="154.3" cy="378.5" rx="1.57" ry="1.45"/><ellipse cx="158.6" cy="378.7" rx="1.47" ry="1.23"/><ellipse cx="162.5" cy="378.4" rx="1.46" ry="1.53"/><ellipse cx="166.3" cy="378.4" rx="1.36" ry="1.57"/></g></g>
<ellipse transform="translate(144.8,355.3) rotate(35)" rx="15.5" ry="20.5" fill="none" stroke="#2a1a00" stroke-width="1"/>
<path d="M200.7,356.7 L161,356.7" fill="none" stroke="#1a1a1a" stroke-width="1.0"/>
<path d="M195,411 L127,411" fill="none" stroke="#1a1a1a" stroke-width="1.0"/>
<path d="M158,475.5 L115.5,475.5" fill="none" stroke="#1a1a1a" stroke-width="1.0"/>
</g>
<g id="cone">
<ellipse cx="463" cy="440" rx="112" ry="112" fill="#fffbe0" opacity="0.0"/>
<path d="M470.0,354.9 L447.7,352.1 L427.2,358.3 L411.2,363.3 L401.2,371.6 L392.8,381.9 L387.2,394.0 L384.4,402.3 L378.5,416.3 L378.9,429.3 L384.4,443.2 L400.2,449.8 L535.1,453.5 L544.4,447.9 L550.0,436.7 L546.1,422.8 L539.8,408.4 L529.5,392.1 L515.4,379.8 L495.1,363.3 L485.8,356.8Z" fill="#1f1406" stroke="none" stroke-width="1.0" stroke-linejoin="round" />
<path d="M392.0,444.0 L420.0,436.0 L450.0,432.0 L485.0,438.0 L505.0,455.0 L500.0,480.0 L480.0,505.0 L452.0,512.0 L425.0,505.0 L398.0,488.0 L388.0,465.0Z" fill="#1f1406" stroke="none" stroke-width="1.0" stroke-linejoin="round" />
<path d="M470.0,352.0 L474.0,347.0 L480.0,346.0 L484.0,342.0 L490.0,343.0 L494.7,341.5 L495.5,346.0 L489.0,349.0 L487.0,353.0 L480.0,356.0Z" fill="#d48a32" stroke="#1f1406" stroke-width="0.9" stroke-linejoin="round" />
<path d="M480.1,356.0 L480.6,359.2 L478.5,362.1 L475.5,361.3 L474.3,358.1 L476.5,354.8Z" fill="#d48a32" stroke="#1f1406" stroke-width="0.9" stroke-linejoin="round" /><path d="M477.6,358.6 L478.5,360.4 L476.7,361.5 L475.7,359.6Z" fill="#dc9840" stroke="#8a5414" stroke-width="0.6" stroke-linejoin="round" /><path d="M477.3,359.6 L477.6,360.2 L477.0,360.7 L476.6,359.9Z" fill="none" stroke="#5a340a" stroke-width="0.5" stroke-linejoin="round" />
<path d="M483.0,352.9 L486.3,352.1 L489.5,354.6 L489.1,357.4 L485.5,359.0 L481.7,356.2Z" fill="#d48a32" stroke="#1f1406" stroke-width="0.9" stroke-linejoin="round" /><path d="M485.9,355.3 L487.8,354.2 L489.1,356.1 L487.0,357.3Z" fill="#dc9840" stroke="#8a5414" stroke-width="0.6" stroke-linejoin="round" /><path d="M486.9,355.5 L487.7,355.2 L488.2,355.9 L487.4,356.3Z" fill="none" stroke="#5a340a" stroke-width="0.5" stroke-linejoin="round" />
<path d="M475.5,356.7 L473.0,358.9 L469.4,359.1 L467.7,356.1 L470.0,352.6 L474.9,352.8Z" fill="#d48a32" stroke="#1f1406" stroke-width="0.9" stroke-linejoin="round" /><path d="M471.7,356.1 L470.6,358.1 L468.4,357.2 L469.6,355.0Z" fill="#dc9840" stroke="#8a5414" stroke-width="0.6" stroke-linejoin="round" /><path d="M470.6,356.5 L470.2,357.2 L469.3,356.9 L469.8,356.0Z" fill="none" stroke="#5a340a" stroke-width="0.5" stroke-linejoin="round" />
<path d="M483.1,357.3 L485.2,360.5 L484.8,365.0 L481.1,366.4 L478.4,362.9 L479.0,358.0Z" fill="#d48a32" stroke="#1f1406" stroke-width="0.9" stroke-linejoin="round" /><path d="M482.0,361.5 L483.9,363.0 L482.7,365.2 L480.5,363.7Z" fill="#dc9840" stroke="#8a5414" stroke-width="0.6" stroke-linejoin="round" /><path d="M482.2,362.7 L482.9,363.3 L482.5,364.2 L481.6,363.6Z" fill="none" stroke="#5a340a" stroke-width="0.5" stroke-linejoin="round" />
<path d="M476.4,359.6 L476.4,363.6 L472.9,366.4 L469.1,365.2 L468.5,360.3 L472.8,356.9Z" fill="#d48a32" stroke="#1f1406" stroke-width="0.9" stroke-linejoin="round" /><path d="M472.7,362.0 L473.3,364.7 L470.6,365.6 L469.9,362.7Z" fill="#dc9840" stroke="#8a5414" stroke-width="0.6" stroke-linejoin="round" /><path d="M472.0,363.2 L472.2,364.2 L471.2,364.6 L470.9,363.4Z" fill="none" stroke="#5a340a" stroke-width="0.5" stroke-linejoin="round" />
<path d="M486.3,356.3 L491.2,357.0 L493.4,361.2 L491.9,365.1 L486.2,364.8 L483.3,359.9Z" fill="#d48a32" stroke="#1f1406" stroke-width="0.9" stroke-linejoin="round" /><path d="M488.7,360.7 L491.6,360.6 L492.1,363.5 L489.0,363.7Z" fill="#dc9840" stroke="#8a5414" stroke-width="0.6" stroke-linejoin="round" /><path d="M489.8,361.6 L490.9,361.6 L491.2,362.7 L489.9,362.8Z" fill="none" stroke="#5a340a" stroke-width="0.5" stroke-linejoin="round" />
<path d="M470.4,355.0 L467.0,358.2 L462.1,357.0 L460.1,352.5 L464.4,349.4 L470.1,350.1Z" fill="#d48a32" stroke="#1f1406" stroke-width="0.9" stroke-linejoin="round" /><path d="M465.8,353.7 L464.0,356.1 L461.4,354.5 L463.3,351.9Z" fill="#dc9840" stroke="#8a5414" stroke-width="0.6" stroke-linejoin="round" /><path d="M464.4,354.0 L463.7,354.9 L462.6,354.3 L463.4,353.2Z" fill="none" stroke="#5a340a" stroke-width="0.5" stroke-linejoin="round" />
<path d="M481.6,362.9 L483.2,367.1 L480.2,372.2 L476.4,372.7 L473.7,367.3 L475.8,361.6Z" fill="#d48a32" stroke="#1f1406" stroke-width="0.9" stroke-linejoin="round" /><path d="M478.6,367.1 L480.4,369.6 L478.0,371.8 L476.0,369.1Z" fill="#dc9840" stroke="#8a5414" stroke-width="0.6" stroke-linejoin="round" /><path d="M478.4,368.6 L479.1,369.6 L478.2,370.5 L477.4,369.4Z" fill="none" stroke="#5a340a" stroke-width="0.5" stroke-linejoin="round" />
<path d="M471.5,361.0 L468.8,365.7 L463.3,367.2 L460.3,364.2 L461.7,358.6 L468.5,356.4Z" fill="#d48a32" stroke="#1f1406" stroke-width="0.9" stroke-linejoin="round" /><path d="M465.6,362.3 L465.0,365.6 L461.6,365.4 L462.1,361.8Z" fill="#dc9840" stroke="#8a5414" stroke-width="0.6" stroke-linejoin="round" /><path d="M464.3,363.3 L464.0,364.6 L462.7,364.5 L462.9,363.1Z" fill="none" stroke="#5a340a" stroke-width="0.5" stroke-linejoin="round" />
<path d="M486.8,361.6 L491.6,364.6 L493.3,370.1 L490.1,374.1 L484.2,371.7 L482.0,365.8Z" fill="#d48a32" stroke="#1f1406" stroke-width="0.9" stroke-linejoin="round" /><path d="M488.1,367.9 L491.5,368.6 L491.1,372.1 L487.5,371.4Z" fill="#dc9840" stroke="#8a5414" stroke-width="0.6" stroke-linejoin="round" /><path d="M489.1,369.2 L490.4,369.5 L490.3,370.9 L488.8,370.6Z" fill="none" stroke="#5a340a" stroke-width="0.5" stroke-linejoin="round" />
<path d="M476.1,366.2 L476.4,371.6 L473.3,377.1 L467.5,376.3 L466.2,370.2 L470.2,364.2Z" fill="#d48a32" stroke="#1f1406" stroke-width="0.9" stroke-linejoin="round" /><path d="M471.6,370.8 L473.2,374.1 L470.1,376.1 L468.2,372.6Z" fill="#dc9840" stroke="#8a5414" stroke-width="0.6" stroke-linejoin="round" /><path d="M471.1,372.5 L471.7,373.8 L470.5,374.6 L469.8,373.2Z" fill="none" stroke="#5a340a" stroke-width="0.5" stroke-linejoin="round" />
<path d="M464.1,360.4 L459.6,364.3 L452.7,363.2 L451.1,357.6 L456.0,352.7 L463.5,354.1Z" fill="#d48a32" stroke="#1f1406" stroke-width="0.9" stroke-linejoin="round" /><path d="M458.0,358.7 L455.6,361.7 L452.3,359.7 L454.7,356.4Z" fill="#dc9840" stroke="#8a5414" stroke-width="0.6" stroke-linejoin="round" /><path d="M456.1,359.0 L455.2,360.1 L453.9,359.4 L454.9,358.1Z" fill="none" stroke="#5a340a" stroke-width="0.5" stroke-linejoin="round" />
<path d="M484.9,368.8 L489.0,373.3 L487.7,380.6 L482.3,382.1 L477.7,377.1 L478.0,369.7Z" fill="#d48a32" stroke="#1f1406" stroke-width="0.9" stroke-linejoin="round" /><path d="M483.2,375.0 L486.4,377.4 L484.3,380.9 L480.9,378.5Z" fill="#dc9840" stroke="#8a5414" stroke-width="0.6" stroke-linejoin="round" /><path d="M483.6,376.9 L484.8,377.8 L484.0,379.2 L482.6,378.3Z" fill="none" stroke="#5a340a" stroke-width="0.5" stroke-linejoin="round" />
<path d="M469.0,369.4 L466.7,375.2 L459.9,377.9 L455.2,374.3 L457.0,366.9 L464.3,363.8Z" fill="#d48a32" stroke="#1f1406" stroke-width="0.9" stroke-linejoin="round" /><path d="M462.2,371.1 L461.8,375.2 L457.6,375.3 L457.9,370.9Z" fill="#dc9840" stroke="#8a5414" stroke-width="0.6" stroke-linejoin="round" /><path d="M460.7,372.5 L460.5,374.0 L458.9,374.1 L459.0,372.3Z" fill="none" stroke="#5a340a" stroke-width="0.5" stroke-linejoin="round" />
<path d="M495.1,364.7 L501.6,367.3 L503.7,374.6 L499.2,378.6 L492.7,376.5 L489.4,368.8Z" fill="#d48a32" stroke="#1f1406" stroke-width="0.9" stroke-linejoin="round" /><path d="M497.0,371.8 L501.1,372.5 L501.0,376.8 L496.5,376.2Z" fill="#dc9840" stroke="#8a5414" stroke-width="0.6" stroke-linejoin="round" /><path d="M498.3,373.4 L499.9,373.7 L499.8,375.4 L498.0,375.1Z" fill="none" stroke="#5a340a" stroke-width="0.5" stroke-linejoin="round" />
<path d="M479.4,374.3 L480.2,381.0 L476.3,387.6 L469.9,387.2 L467.0,379.4 L471.9,371.7Z" fill="#d48a32" stroke="#1f1406" stroke-width="0.9" stroke-linejoin="round" /><path d="M474.2,380.2 L476.2,384.0 L472.6,386.6 L470.3,382.5Z" fill="#dc9840" stroke="#8a5414" stroke-width="0.6" stroke-linejoin="round" /><path d="M473.7,382.3 L474.4,383.7 L473.0,384.8 L472.1,383.1Z" fill="none" stroke="#5a340a" stroke-width="0.5" stroke-linejoin="round" />
<path d="M460.4,367.3 L455.0,372.5 L447.6,372.8 L443.4,367.2 L448.5,360.3 L457.6,359.7Z" fill="#d48a32" stroke="#1f1406" stroke-width="0.9" stroke-linejoin="round" /><path d="M452.1,366.8 L450.0,370.8 L445.7,369.2 L447.8,364.8Z" fill="#dc9840" stroke="#8a5414" stroke-width="0.6" stroke-linejoin="round" /><path d="M450.0,367.5 L449.2,369.1 L447.5,368.5 L448.4,366.7Z" fill="none" stroke="#5a340a" stroke-width="0.5" stroke-linejoin="round" />
<path d="M491.0,373.0 L496.9,377.6 L497.8,385.6 L492.4,390.0 L485.1,385.7 L484.5,376.9Z" fill="#d48a32" stroke="#1f1406" stroke-width="0.9" stroke-linejoin="round" /><path d="M491.3,381.3 L495.5,383.0 L494.4,387.5 L489.7,385.9Z" fill="#dc9840" stroke="#8a5414" stroke-width="0.6" stroke-linejoin="round" /><path d="M492.3,383.4 L493.9,384.0 L493.5,385.8 L491.6,385.1Z" fill="none" stroke="#5a340a" stroke-width="0.5" stroke-linejoin="round" />
<path d="M468.8,376.3 L468.7,384.1 L461.7,389.3 L456.1,387.2 L455.7,379.0 L462.1,372.8Z" fill="#d48a32" stroke="#1f1406" stroke-width="0.9" stroke-linejoin="round" /><path d="M462.3,381.4 L463.3,386.0 L458.7,387.6 L457.5,382.7Z" fill="#dc9840" stroke="#8a5414" stroke-width="0.6" stroke-linejoin="round" /><path d="M461.1,383.4 L461.5,385.1 L459.7,385.8 L459.2,383.8Z" fill="none" stroke="#5a340a" stroke-width="0.5" stroke-linejoin="round" />
<path d="M503.2,366.0 L510.6,366.1 L515.8,372.4 L513.6,378.9 L504.6,379.9 L499.1,372.5Z" fill="#d48a32" stroke="#1f1406" stroke-width="0.9" stroke-linejoin="round" /><path d="M507.7,372.4 L512.5,371.4 L514.0,376.1 L508.9,377.3Z" fill="#dc9840" stroke="#8a5414" stroke-width="0.6" stroke-linejoin="round" /><path d="M509.8,373.6 L511.6,373.2 L512.2,375.1 L510.2,375.5Z" fill="none" stroke="#5a340a" stroke-width="0.5" stroke-linejoin="round" />
<path d="M451.6,359.5 L445.8,364.7 L437.3,362.3 L434.8,356.7 L441.1,350.2 L450.5,351.5Z" fill="#d48a32" stroke="#1f1406" stroke-width="0.9" stroke-linejoin="round" /><path d="M443.7,357.6 L440.7,361.5 L436.4,358.9 L439.5,354.7Z" fill="#dc9840" stroke="#8a5414" stroke-width="0.6" stroke-linejoin="round" /><path d="M441.3,358.1 L440.2,359.5 L438.5,358.6 L439.7,356.9Z" fill="none" stroke="#5a340a" stroke-width="0.5" stroke-linejoin="round" />
<path d="M484.9,381.0 L488.2,388.6 L484.1,396.7 L477.0,396.7 L472.8,389.5 L476.0,379.7Z" fill="#d48a32" stroke="#1f1406" stroke-width="0.9" stroke-linejoin="round" /><path d="M480.7,388.9 L483.8,392.8 L480.2,396.4 L476.7,392.3Z" fill="#dc9840" stroke="#8a5414" stroke-width="0.6" stroke-linejoin="round" /><path d="M480.5,391.3 L481.7,392.8 L480.3,394.3 L478.9,392.6Z" fill="none" stroke="#5a340a" stroke-width="0.5" stroke-linejoin="round" />
<path d="M458.0,376.0 L453.9,382.1 L446.3,385.1 L440.5,380.8 L443.2,371.7 L453.3,368.1Z" fill="#d48a32" stroke="#1f1406" stroke-width="0.9" stroke-linejoin="round" /><path d="M449.2,377.4 L448.3,382.4 L443.1,382.1 L443.9,376.7Z" fill="#dc9840" stroke="#8a5414" stroke-width="0.6" stroke-linejoin="round" /><path d="M447.2,378.9 L446.9,380.8 L444.8,380.8 L445.2,378.6Z" fill="none" stroke="#5a340a" stroke-width="0.5" stroke-linejoin="round" />
<path d="M500.6,376.6 L508.1,379.7 L510.5,388.3 L505.1,394.6 L496.5,390.6 L492.7,380.4Z" fill="#d48a32" stroke="#1f1406" stroke-width="0.9" stroke-linejoin="round" /><path d="M502.2,385.0 L507.2,386.1 L506.7,391.4 L501.2,390.3Z" fill="#dc9840" stroke="#8a5414" stroke-width="0.6" stroke-linejoin="round" /><path d="M503.6,387.0 L505.6,387.5 L505.4,389.5 L503.2,389.1Z" fill="none" stroke="#5a340a" stroke-width="0.5" stroke-linejoin="round" />
<path d="M473.0,385.7 L473.8,393.4 L468.3,400.6 L460.6,399.4 L458.0,391.0 L463.5,382.4Z" fill="#d48a32" stroke="#1f1406" stroke-width="0.9" stroke-linejoin="round" /><path d="M466.3,392.1 L468.6,396.9 L464.0,399.8 L461.4,394.7Z" fill="#dc9840" stroke="#8a5414" stroke-width="0.6" stroke-linejoin="round" /><path d="M465.6,394.6 L466.4,396.4 L464.7,397.6 L463.6,395.6Z" fill="none" stroke="#5a340a" stroke-width="0.5" stroke-linejoin="round" />
<path d="M446.0,369.7 L440.2,374.7 L430.3,374.6 L427.9,367.2 L434.0,360.2 L445.4,360.4Z" fill="#d48a32" stroke="#1f1406" stroke-width="0.9" stroke-linejoin="round" /><path d="M437.4,367.7 L434.5,372.3 L429.5,369.8 L432.5,364.8Z" fill="#dc9840" stroke="#8a5414" stroke-width="0.6" stroke-linejoin="round" /><path d="M434.8,368.4 L433.7,370.1 L431.7,369.2 L432.9,367.2Z" fill="none" stroke="#5a340a" stroke-width="0.5" stroke-linejoin="round" />
<path d="M493.1,386.4 L498.4,393.0 L496.6,403.1 L490.1,406.0 L482.6,399.0 L483.8,388.2Z" fill="#d48a32" stroke="#1f1406" stroke-width="0.9" stroke-linejoin="round" /><path d="M490.8,395.7 L495.3,398.8 L492.7,403.8 L487.7,400.6Z" fill="#dc9840" stroke="#8a5414" stroke-width="0.6" stroke-linejoin="round" /><path d="M491.4,398.4 L493.1,399.5 L492.1,401.5 L490.1,400.2Z" fill="none" stroke="#5a340a" stroke-width="0.5" stroke-linejoin="round" />
<path d="M458.6,385.2 L457.1,394.0 L447.9,398.7 L441.6,394.8 L441.8,384.8 L451.8,378.4Z" fill="#d48a32" stroke="#1f1406" stroke-width="0.9" stroke-linejoin="round" /><path d="M450.0,389.6 L450.4,395.2 L444.7,396.3 L444.1,390.2Z" fill="#dc9840" stroke="#8a5414" stroke-width="0.6" stroke-linejoin="round" /><path d="M448.3,391.8 L448.4,393.9 L446.2,394.4 L446.0,391.9Z" fill="none" stroke="#5a340a" stroke-width="0.5" stroke-linejoin="round" />
<path d="M509.9,376.1 L519.1,377.8 L524.9,386.3 L520.5,394.1 L510.9,392.9 L503.9,384.4Z" fill="#d48a32" stroke="#1f1406" stroke-width="0.9" stroke-linejoin="round" /><path d="M514.9,385.0 L520.6,384.4 L521.9,390.1 L515.8,391.0Z" fill="#dc9840" stroke="#8a5414" stroke-width="0.6" stroke-linejoin="round" /><path d="M517.2,386.7 L519.4,386.5 L519.9,388.7 L517.5,389.0Z" fill="none" stroke="#5a340a" stroke-width="0.5" stroke-linejoin="round" />
<path d="M479.5,393.4 L482.2,401.3 L479.3,411.4 L471.0,412.0 L464.9,403.3 L469.6,391.8Z" fill="#d48a32" stroke="#1f1406" stroke-width="0.9" stroke-linejoin="round" /><path d="M474.5,402.1 L478.3,406.5 L474.3,410.9 L470.0,406.3Z" fill="#dc9840" stroke="#8a5414" stroke-width="0.6" stroke-linejoin="round" /><path d="M474.4,405.0 L475.9,406.6 L474.3,408.4 L472.6,406.6Z" fill="none" stroke="#5a340a" stroke-width="0.5" stroke-linejoin="round" />
<path d="M444.7,379.2 L439.6,386.9 L430.1,389.1 L423.7,383.7 L428.4,373.7 L439.8,369.7Z" fill="#d48a32" stroke="#1f1406" stroke-width="0.9" stroke-linejoin="round" /><path d="M434.4,380.4 L432.8,386.2 L426.8,385.2 L428.3,379.0Z" fill="#dc9840" stroke="#8a5414" stroke-width="0.6" stroke-linejoin="round" /><path d="M431.9,382.0 L431.3,384.2 L428.9,383.9 L429.6,381.4Z" fill="none" stroke="#5a340a" stroke-width="0.5" stroke-linejoin="round" />
<path d="M504.7,389.8 L511.9,394.9 L512.7,406.3 L504.2,410.2 L496.3,404.8 L493.8,393.2Z" fill="#d48a32" stroke="#1f1406" stroke-width="0.9" stroke-linejoin="round" /><path d="M503.9,399.7 L509.4,402.0 L507.7,407.9 L501.6,405.6Z" fill="#dc9840" stroke="#8a5414" stroke-width="0.6" stroke-linejoin="round" /><path d="M505.1,402.4 L507.2,403.2 L506.6,405.6 L504.2,404.6Z" fill="none" stroke="#5a340a" stroke-width="0.5" stroke-linejoin="round" />
<path d="M463.1,396.4 L463.8,405.9 L455.6,412.2 L447.3,409.9 L445.8,398.9 L454.8,391.5Z" fill="#d48a32" stroke="#1f1406" stroke-width="0.9" stroke-linejoin="round" /><path d="M455.1,402.3 L456.6,408.2 L450.7,410.4 L448.9,404.1Z" fill="#dc9840" stroke="#8a5414" stroke-width="0.6" stroke-linejoin="round" /><path d="M453.7,404.9 L454.2,407.2 L451.9,408.1 L451.2,405.6Z" fill="none" stroke="#5a340a" stroke-width="0.5" stroke-linejoin="round" />
<path d="M432.0,366.8 L425.3,373.5 L414.2,372.8 L411.5,363.8 L418.5,356.1 L431.0,356.7Z" fill="#d48a32" stroke="#1f1406" stroke-width="0.9" stroke-linejoin="round" /><path d="M422.2,365.0 L418.7,370.1 L413.1,367.2 L416.7,361.5Z" fill="#dc9840" stroke="#8a5414" stroke-width="0.6" stroke-linejoin="round" /><path d="M419.3,365.7 L417.9,367.7 L415.7,366.6 L417.1,364.3Z" fill="none" stroke="#5a340a" stroke-width="0.5" stroke-linejoin="round" />
<path d="M490.4,400.5 L495.7,409.1 L492.0,418.9 L482.3,421.2 L476.6,411.9 L480.6,399.7Z" fill="#d48a32" stroke="#1f1406" stroke-width="0.9" stroke-linejoin="round" /><path d="M486.5,410.2 L490.8,414.8 L486.6,419.8 L481.9,415.0Z" fill="#dc9840" stroke="#8a5414" stroke-width="0.6" stroke-linejoin="round" /><path d="M486.6,413.3 L488.2,415.1 L486.6,417.1 L484.7,415.1Z" fill="none" stroke="#5a340a" stroke-width="0.5" stroke-linejoin="round" />
<path d="M445.9,392.1 L442.4,400.8 L432.3,404.6 L424.6,399.4 L427.6,389.1 L438.8,382.7Z" fill="#d48a32" stroke="#1f1406" stroke-width="0.9" stroke-linejoin="round" /><path d="M435.4,394.9 L434.9,401.3 L428.4,401.6 L428.6,394.7Z" fill="#dc9840" stroke="#8a5414" stroke-width="0.6" stroke-linejoin="round" /><path d="M433.1,397.1 L432.9,399.5 L430.3,399.7 L430.5,397.0Z" fill="none" stroke="#5a340a" stroke-width="0.5" stroke-linejoin="round" />
<path d="M514.7,389.4 L524.4,392.9 L529.4,403.2 L524.7,410.8 L513.2,407.9 L507.2,395.8Z" fill="#d48a32" stroke="#1f1406" stroke-width="0.9" stroke-linejoin="round" /><path d="M519.0,399.8 L525.5,400.1 L526.0,406.7 L519.0,406.6Z" fill="#dc9840" stroke="#8a5414" stroke-width="0.6" stroke-linejoin="round" /><path d="M521.3,402.0 L523.7,402.1 L524.0,404.7 L521.2,404.7Z" fill="none" stroke="#5a340a" stroke-width="0.5" stroke-linejoin="round" />
<path d="M471.5,406.3 L474.6,416.0 L466.6,425.3 L457.1,423.2 L454.0,412.8 L462.2,401.7Z" fill="#d48a32" stroke="#1f1406" stroke-width="0.9" stroke-linejoin="round" /><path d="M464.6,414.2 L467.5,420.1 L461.8,423.8 L458.5,417.5Z" fill="#dc9840" stroke="#8a5414" stroke-width="0.6" stroke-linejoin="round" /><path d="M463.7,417.3 L464.8,419.6 L462.6,421.1 L461.3,418.5Z" fill="none" stroke="#5a340a" stroke-width="0.5" stroke-linejoin="round" />
<path d="M429.5,380.3 L422.9,388.1 L411.1,388.7 L406.6,381.2 L412.6,370.5 L426.1,369.3Z" fill="#d48a32" stroke="#1f1406" stroke-width="0.9" stroke-linejoin="round" /><path d="M418.4,380.0 L415.5,386.0 L409.0,383.9 L411.9,377.3Z" fill="#dc9840" stroke="#8a5414" stroke-width="0.6" stroke-linejoin="round" /><path d="M415.3,381.3 L414.3,383.5 L411.7,382.8 L412.8,380.1Z" fill="none" stroke="#5a340a" stroke-width="0.5" stroke-linejoin="round" />
<path d="M502.8,402.9 L510.6,410.7 L510.9,422.6 L502.6,427.0 L493.2,420.1 L492.8,407.2Z" fill="#d48a32" stroke="#1f1406" stroke-width="0.9" stroke-linejoin="round" /><path d="M501.8,415.1 L507.8,418.2 L505.3,424.7 L498.8,421.5Z" fill="#dc9840" stroke="#8a5414" stroke-width="0.6" stroke-linejoin="round" /><path d="M503.0,418.2 L505.2,419.4 L504.4,422.0 L501.7,420.7Z" fill="none" stroke="#5a340a" stroke-width="0.5" stroke-linejoin="round" />
<path d="M451.9,405.2 L448.6,414.7 L439.6,421.8 L430.3,416.9 L431.6,404.7 L442.8,398.0Z" fill="#d48a32" stroke="#1f1406" stroke-width="0.9" stroke-linejoin="round" /><path d="M441.0,410.0 L441.4,416.9 L434.5,418.1 L433.8,410.8Z" fill="#dc9840" stroke="#8a5414" stroke-width="0.6" stroke-linejoin="round" /><path d="M438.8,412.7 L439.0,415.3 L436.3,415.8 L436.1,412.9Z" fill="none" stroke="#5a340a" stroke-width="0.5" stroke-linejoin="round" />
<path d="M482.7,413.0 L488.9,422.2 L484.4,433.4 L475.6,435.9 L467.9,426.5 L470.9,413.5Z" fill="#d48a32" stroke="#1f1406" stroke-width="0.9" stroke-linejoin="round" /><path d="M478.4,424.0 L483.5,428.9 L479.1,434.6 L473.5,429.6Z" fill="#dc9840" stroke="#8a5414" stroke-width="0.6" stroke-linejoin="round" /><path d="M478.6,427.5 L480.6,429.3 L478.9,431.6 L476.7,429.6Z" fill="none" stroke="#5a340a" stroke-width="0.5" stroke-linejoin="round" />
<path d="M431.1,392.5 L427.2,404.0 L415.2,408.8 L406.6,401.6 L410.5,390.5 L423.2,384.0Z" fill="#d48a32" stroke="#1f1406" stroke-width="0.9" stroke-linejoin="round" /><path d="M419.0,396.9 L418.4,404.0 L411.1,404.2 L411.5,396.6Z" fill="#dc9840" stroke="#8a5414" stroke-width="0.6" stroke-linejoin="round" /><path d="M416.4,399.3 L416.2,402.0 L413.3,402.2 L413.5,399.1Z" fill="none" stroke="#5a340a" stroke-width="0.5" stroke-linejoin="round" />
<path d="M518.1,403.6 L527.4,410.3 L529.0,421.8 L521.6,428.1 L509.9,423.4 L508.2,409.2Z" fill="#d48a32" stroke="#1f1406" stroke-width="0.9" stroke-linejoin="round" /><path d="M519.6,416.0 L526.4,418.3 L524.9,425.5 L517.5,423.2Z" fill="#dc9840" stroke="#8a5414" stroke-width="0.6" stroke-linejoin="round" /><path d="M521.3,419.1 L523.9,419.9 L523.4,422.8 L520.4,421.9Z" fill="none" stroke="#5a340a" stroke-width="0.5" stroke-linejoin="round" />
<path d="M460.7,416.2 L461.9,427.0 L453.1,435.7 L442.2,434.6 L439.9,422.0 L448.2,410.6Z" fill="#d48a32" stroke="#1f1406" stroke-width="0.9" stroke-linejoin="round" /><path d="M451.4,424.4 L454.1,431.1 L447.6,434.6 L444.5,427.5Z" fill="#dc9840" stroke="#8a5414" stroke-width="0.6" stroke-linejoin="round" /><path d="M450.2,427.7 L451.2,430.3 L448.7,431.7 L447.5,428.9Z" fill="none" stroke="#5a340a" stroke-width="0.5" stroke-linejoin="round" />
<path d="M414.1,377.0 L407.2,384.7 L395.3,385.3 L387.8,377.1 L395.9,366.1 L409.8,365.4Z" fill="#d48a32" stroke="#1f1406" stroke-width="0.9" stroke-linejoin="round" /><path d="M402.0,375.8 L399.0,382.4 L391.8,380.2 L394.9,372.9Z" fill="#dc9840" stroke="#8a5414" stroke-width="0.6" stroke-linejoin="round" /><path d="M398.7,377.2 L397.5,379.7 L394.7,378.9 L395.9,376.0Z" fill="none" stroke="#5a340a" stroke-width="0.5" stroke-linejoin="round" />
<path d="M501.0,418.6 L505.4,428.5 L502.3,440.6 L493.6,443.6 L485.0,433.7 L487.8,419.6Z" fill="#d48a32" stroke="#1f1406" stroke-width="0.9" stroke-linejoin="round" /><path d="M495.9,430.7 L501.4,435.7 L497.1,441.9 L491.0,436.8Z" fill="#dc9840" stroke="#8a5414" stroke-width="0.6" stroke-linejoin="round" /><path d="M496.3,434.4 L498.4,436.2 L496.8,438.7 L494.3,436.7Z" fill="none" stroke="#5a340a" stroke-width="0.5" stroke-linejoin="round" />
<path d="M435.9,409.5 L433.4,419.4 L423.0,427.2 L414.0,423.2 L414.0,409.7 L425.0,401.0Z" fill="#d48a32" stroke="#1f1406" stroke-width="0.9" stroke-linejoin="round" /><path d="M424.5,414.7 L425.4,422.1 L418.0,424.0 L416.7,416.1Z" fill="#dc9840" stroke="#8a5414" stroke-width="0.6" stroke-linejoin="round" /><path d="M422.4,417.7 L422.7,420.5 L419.8,421.4 L419.3,418.2Z" fill="none" stroke="#5a340a" stroke-width="0.5" stroke-linejoin="round" />
<path d="M536.1,398.8 L545.8,404.8 L549.8,416.2 L543.0,425.2 L530.6,420.7 L524.7,406.9Z" fill="#d48a32" stroke="#1f1406" stroke-width="0.9" stroke-linejoin="round" /><path d="M538.6,412.1 L546.0,413.3 L545.6,421.0 L537.6,420.0Z" fill="#dc9840" stroke="#8a5414" stroke-width="0.6" stroke-linejoin="round" /><path d="M540.9,415.0 L543.7,415.5 L543.7,418.5 L540.4,418.1Z" fill="none" stroke="#5a340a" stroke-width="0.5" stroke-linejoin="round" />
<path d="M474.9,426.9 L478.0,438.3 L469.4,448.5 L459.8,448.2 L454.1,435.5 L463.0,422.2Z" fill="#d48a32" stroke="#1f1406" stroke-width="0.9" stroke-linejoin="round" /><path d="M466.6,436.7 L470.2,443.5 L463.8,447.9 L459.7,440.8Z" fill="#dc9840" stroke="#8a5414" stroke-width="0.6" stroke-linejoin="round" /><path d="M465.7,440.4 L467.1,442.9 L464.6,444.8 L463.0,441.9Z" fill="none" stroke="#5a340a" stroke-width="0.5" stroke-linejoin="round" />
<path d="M413.6,393.4 L408.1,403.0 L395.6,407.0 L388.6,399.3 L392.8,386.0 L407.2,383.0Z" fill="#d48a32" stroke="#1f1406" stroke-width="0.9" stroke-linejoin="round" /><path d="M401.3,395.3 L399.5,402.8 L391.7,401.8 L393.4,393.7Z" fill="#dc9840" stroke="#8a5414" stroke-width="0.6" stroke-linejoin="round" /><path d="M398.2,397.4 L397.5,400.3 L394.4,400.0 L395.1,396.7Z" fill="none" stroke="#5a340a" stroke-width="0.5" stroke-linejoin="round" />
<path d="M515.3,420.0 L525.3,426.9 L527.3,439.7 L517.5,447.4 L505.9,440.3 L503.3,424.5Z" fill="#d48a32" stroke="#1f1406" stroke-width="0.9" stroke-linejoin="round" /><path d="M516.2,432.9 L523.5,435.7 L521.5,443.4 L513.6,440.7Z" fill="#dc9840" stroke="#8a5414" stroke-width="0.6" stroke-linejoin="round" /><path d="M517.9,436.3 L520.7,437.4 L520.0,440.4 L516.8,439.3Z" fill="none" stroke="#5a340a" stroke-width="0.5" stroke-linejoin="round" />
<path d="M446.8,423.4 L446.5,436.4 L435.7,445.9 L424.5,441.1 L423.7,428.1 L434.9,418.1Z" fill="#d48a32" stroke="#1f1406" stroke-width="0.9" stroke-linejoin="round" /><path d="M435.3,432.0 L437.2,439.6 L429.7,442.5 L427.4,434.4Z" fill="#dc9840" stroke="#8a5414" stroke-width="0.6" stroke-linejoin="round" /><path d="M433.5,435.4 L434.2,438.3 L431.3,439.5 L430.4,436.3Z" fill="none" stroke="#5a340a" stroke-width="0.5" stroke-linejoin="round" />
<path d="M419.1,411.8 L414.9,422.8 L403.5,428.9 L393.5,423.4 L396.2,409.2 L409.3,401.8Z" fill="#d48a32" stroke="#1f1406" stroke-width="0.9" stroke-linejoin="round" /><path d="M406.1,416.0 L405.8,424.1 L397.6,424.8 L397.6,416.1Z" fill="#dc9840" stroke="#8a5414" stroke-width="0.6" stroke-linejoin="round" /><path d="M403.3,418.9 L403.2,421.9 L400.0,422.3 L400.0,418.8Z" fill="none" stroke="#5a340a" stroke-width="0.5" stroke-linejoin="round" />
<path d="M536.4,415.1 L546.9,423.2 L549.8,436.9 L542.0,443.8 L528.2,438.5 L523.7,422.4Z" fill="#d48a32" stroke="#1f1406" stroke-width="0.9" stroke-linejoin="round" /><path d="M538.2,430.1 L546.0,432.4 L544.6,440.6 L536.1,438.4Z" fill="#dc9840" stroke="#8a5414" stroke-width="0.6" stroke-linejoin="round" /><path d="M540.3,433.5 L543.2,434.4 L542.8,437.6 L539.4,436.7Z" fill="none" stroke="#5a340a" stroke-width="0.5" stroke-linejoin="round" />
<path d="M428.3,427.9 L428.0,441.6 L417.1,451.1 L405.2,447.3 L404.6,431.7 L417.2,419.6Z" fill="#d48a32" stroke="#1f1406" stroke-width="0.9" stroke-linejoin="round" /><path d="M416.7,436.4 L418.4,444.7 L410.2,447.4 L408.1,438.6Z" fill="#dc9840" stroke="#8a5414" stroke-width="0.6" stroke-linejoin="round" /><path d="M414.6,440.0 L415.2,443.1 L412.0,444.3 L411.2,440.8Z" fill="none" stroke="#5a340a" stroke-width="0.5" stroke-linejoin="round" />
<path d="M401.5,411.7 L395.2,423.6 L380.5,427.5 L371.6,418.5 L376.7,403.0 L393.8,399.4Z" fill="#d48a32" stroke="#1f1406" stroke-width="0.9" stroke-linejoin="round" /><path d="M386.5,413.5 L384.6,421.9 L375.8,420.9 L377.6,411.8Z" fill="#dc9840" stroke="#8a5414" stroke-width="0.6" stroke-linejoin="round" /><path d="M383.0,415.9 L382.3,419.1 L378.8,418.8 L379.6,415.2Z" fill="none" stroke="#5a340a" stroke-width="0.5" stroke-linejoin="round" />
<path d="M535.2,434.8 L544.6,442.9 L545.3,459.0 L534.7,463.9 L522.5,455.7 L520.8,438.5Z" fill="#d48a32" stroke="#1f1406" stroke-width="0.9" stroke-linejoin="round" /><path d="M533.7,448.8 L541.6,452.6 L538.7,461.0 L530.1,457.2Z" fill="#dc9840" stroke="#8a5414" stroke-width="0.6" stroke-linejoin="round" /><path d="M535.3,452.8 L538.3,454.2 L537.3,457.6 L533.9,456.0Z" fill="none" stroke="#5a340a" stroke-width="0.5" stroke-linejoin="round" />
<path d="M410.3,433.0 L405.4,445.4 L391.0,453.1 L380.3,444.3 L385.1,428.7 L399.9,421.1Z" fill="#d48a32" stroke="#1f1406" stroke-width="0.9" stroke-linejoin="round" /><path d="M396.1,437.4 L395.3,446.3 L386.1,446.6 L386.7,437.0Z" fill="#dc9840" stroke="#8a5414" stroke-width="0.6" stroke-linejoin="round" /><path d="M392.8,440.4 L392.5,443.8 L388.9,444.0 L389.2,440.1Z" fill="none" stroke="#5a340a" stroke-width="0.5" stroke-linejoin="round" />
<path d="M382.4,446.2 L417.5,431.9 L426.3,440.7 L395.6,458.3 L384.6,457.6 L380.6,451.7Z" fill="#1f1406" stroke="none" stroke-width="1.0" stroke-linejoin="round" /><path d="M380.4,443.2 L415.5,428.9 L424.3,437.7 L393.6,455.3 L382.6,454.6 L378.6,448.7Z" fill="#d48a32" stroke="#1f1406" stroke-width="1.0" stroke-linejoin="round" />
<path d="M381.3,479.2 L430.7,456.1 L440.6,466.0 L395.6,493.4 L384.6,490.6 L380.6,484.6Z" fill="#1f1406" stroke="none" stroke-width="1.0" stroke-linejoin="round" /><path d="M379.3,476.2 L428.7,453.1 L438.6,463.0 L393.6,490.4 L382.6,487.6 L378.6,481.6Z" fill="#d48a32" stroke="#1f1406" stroke-width="1.0" stroke-linejoin="round" />
<path d="M414.3,448.4 L424.1,444.0 L435.1,455.0 L432.9,462.7 L421.9,459.4Z" fill="#1f1406" stroke="none" stroke-width="1.0" stroke-linejoin="round" /><path d="M412.3,445.4 L422.1,441.0 L433.1,452.0 L430.9,459.7 L419.9,456.4Z" fill="#d48a32" stroke="#1f1406" stroke-width="1.0" stroke-linejoin="round" />
<path d="M443.9,456.1 L453.2,458.9 L431.8,492.3 L420.2,496.3 L415.8,488.4Z" fill="#1f1406" stroke="none" stroke-width="1.0" stroke-linejoin="round" /><path d="M441.9,453.1 L451.2,455.9 L429.8,489.3 L418.2,493.3 L413.8,485.4Z" fill="#d48a32" stroke="#1f1406" stroke-width="1.0" stroke-linejoin="round" />
<path d="M403.3,513.9 L419.7,498.9 L440.0,487.5 L433.4,503.8 L420.2,519.2 L406.1,521.4 L402.2,517.6Z" fill="#1f1406" stroke="none" stroke-width="1.0" stroke-linejoin="round" /><path d="M401.3,510.9 L417.7,495.9 L438.0,484.5 L431.4,500.8 L418.2,516.2 L404.1,518.4 L400.2,514.6Z" fill="#d48a32" stroke="#1f1406" stroke-width="1.0" stroke-linejoin="round" />
<path d="M423.0,509.9 L443.9,485.3 L448.8,490.1 L437.8,514.8 L426.8,518.3Z" fill="#1f1406" stroke="none" stroke-width="1.0" stroke-linejoin="round" /><path d="M421.0,506.9 L441.9,482.3 L446.8,487.1 L435.8,511.8 L424.8,515.3Z" fill="#d48a32" stroke="#1f1406" stroke-width="1.0" stroke-linejoin="round" />
<path d="M452.3,476.5 L459.7,478.7 L475.1,520.9 L472.9,530.1 L463.7,525.7 L450.5,490.6Z" fill="#1f1406" stroke="none" stroke-width="1.0" stroke-linejoin="round" /><path d="M450.3,473.5 L457.7,475.7 L473.1,517.9 L470.9,527.1 L461.7,522.7 L448.5,487.6Z" fill="#d48a32" stroke="#1f1406" stroke-width="1.0" stroke-linejoin="round" />
<path d="M445.0,512.1 L453.2,507.3 L461.9,529.7 L463.0,540.7 L454.3,542.2 L447.2,527.9Z" fill="#1f1406" stroke="none" stroke-width="1.0" stroke-linejoin="round" /><path d="M443.0,509.1 L451.2,504.3 L459.9,526.7 L461.0,537.7 L452.3,539.2 L445.2,524.9Z" fill="#d48a32" stroke="#1f1406" stroke-width="1.0" stroke-linejoin="round" />
<path d="M463.7,496.7 L472.9,494.1 L497.1,512.1 L494.9,520.0 L485.7,521.4 L465.9,503.8Z" fill="#1f1406" stroke="none" stroke-width="1.0" stroke-linejoin="round" /><path d="M461.7,493.7 L470.9,491.1 L495.1,509.1 L492.9,517.0 L483.7,518.4 L463.9,500.8Z" fill="#d48a32" stroke="#1f1406" stroke-width="1.0" stroke-linejoin="round" />
<path d="M450.5,452.8 L461.5,446.2 L472.5,459.4 L463.7,474.8 L454.9,468.2Z" fill="#1f1406" stroke="none" stroke-width="1.0" stroke-linejoin="round" /><path d="M448.5,449.8 L459.5,443.2 L470.5,456.4 L461.7,471.8 L452.9,465.2Z" fill="#d48a32" stroke="#1f1406" stroke-width="1.0" stroke-linejoin="round" />
<path d="M446.1,430.8 L465.9,430.8 L463.7,450.6 L452.7,455.0 L443.9,446.2Z" fill="#1f1406" stroke="none" stroke-width="1.0" stroke-linejoin="round" /><path d="M444.1,427.8 L463.9,427.8 L461.7,447.6 L450.7,452.0 L441.9,443.2Z" fill="#d48a32" stroke="#1f1406" stroke-width="1.0" stroke-linejoin="round" />
<path d="M472.5,430.8 L490.1,433.0 L494.5,444.0 L481.3,449.5 L472.5,441.8Z" fill="#1f1406" stroke="none" stroke-width="1.0" stroke-linejoin="round" /><path d="M470.5,427.8 L488.1,430.0 L492.5,441.0 L479.3,446.5 L470.5,438.8Z" fill="#d48a32" stroke="#1f1406" stroke-width="1.0" stroke-linejoin="round" />
<path d="M459.3,470.4 L476.9,474.8 L481.3,490.1 L470.3,496.7 L459.3,485.7Z" fill="#1f1406" stroke="none" stroke-width="1.0" stroke-linejoin="round" /><path d="M457.3,467.4 L474.9,471.8 L479.3,487.1 L468.3,493.7 L457.3,482.7Z" fill="#d48a32" stroke="#1f1406" stroke-width="1.0" stroke-linejoin="round" />
<path d="M476.9,450.6 L485.7,452.8 L498.9,474.8 L490.1,477.0 L479.1,466.0Z" fill="#1f1406" stroke="none" stroke-width="1.0" stroke-linejoin="round" /><path d="M474.9,447.6 L483.7,449.8 L496.9,471.8 L488.1,474.0 L477.1,463.0Z" fill="#d48a32" stroke="#1f1406" stroke-width="1.0" stroke-linejoin="round" />
<path d="M490.1,433.0 L507.7,430.8 L525.2,450.6 L518.6,457.2 L503.3,457.2 L490.1,441.8Z" fill="#1f1406" stroke="none" stroke-width="1.0" stroke-linejoin="round" /><path d="M488.1,430.0 L505.7,427.8 L523.2,447.6 L516.6,454.2 L501.3,454.2 L488.1,438.8Z" fill="#d48a32" stroke="#1f1406" stroke-width="1.0" stroke-linejoin="round" />
<path d="M525.2,435.2 L542.8,433.0 L556.0,439.6 L553.8,452.8 L540.6,455.0 L529.6,448.4Z" fill="#1f1406" stroke="none" stroke-width="1.0" stroke-linejoin="round" /><path d="M523.2,432.2 L540.8,430.0 L554.0,436.6 L551.8,449.8 L538.6,452.0 L527.6,445.4Z" fill="#d48a32" stroke="#1f1406" stroke-width="1.0" stroke-linejoin="round" />
<path d="M520.8,455.0 L536.2,452.8 L542.8,466.0 L534.0,472.6 L523.0,466.0Z" fill="#1f1406" stroke="none" stroke-width="1.0" stroke-linejoin="round" /><path d="M518.8,452.0 L534.2,449.8 L540.8,463.0 L532.0,469.6 L521.0,463.0Z" fill="#d48a32" stroke="#1f1406" stroke-width="1.0" stroke-linejoin="round" />
<path d="M487.9,450.6 L503.3,459.4 L529.6,470.4 L528.5,477.0 L512.1,474.8 L490.1,459.4Z" fill="#1f1406" stroke="none" stroke-width="1.0" stroke-linejoin="round" /><path d="M485.9,447.6 L501.3,456.4 L527.6,467.4 L526.5,474.0 L510.1,471.8 L488.1,456.4Z" fill="#d48a32" stroke="#1f1406" stroke-width="1.0" stroke-linejoin="round" />
<path d="M481.3,470.4 L498.9,463.8 L520.8,472.6 L530.7,487.9 L521.9,497.2 L509.9,498.9 L501.1,506.6 L486.8,498.9 L479.1,485.7Z" fill="#1f1406" stroke="none" stroke-width="1.0" stroke-linejoin="round" /><path d="M479.3,467.4 L496.9,460.8 L518.8,469.6 L528.7,484.9 L519.9,494.2 L507.9,495.9 L499.1,503.6 L484.8,495.9 L477.1,482.7Z" fill="#d48a32" stroke="#1f1406" stroke-width="1.0" stroke-linejoin="round" />
<path d="M380.4,443.6 L389.2,441.0 L393.1,450.2 L383.7,453.7Z" fill="#dc9840" stroke="#3a2208" stroke-width="0.7" stroke-linejoin="round" />
<path d="M384.1,445.7 L387.6,444.7 L389.2,448.4 L385.4,449.8Z" fill="none" stroke="#5a340a" stroke-width="0.5" stroke-linejoin="round" />
<path d="M379.9,476.6 L389.6,473.1 L393.6,485.4 L383.5,486.7Z" fill="#dc9840" stroke="#3a2208" stroke-width="0.7" stroke-linejoin="round" />
<path d="M384.0,478.9 L387.8,477.5 L389.4,482.4 L385.4,482.9Z" fill="none" stroke="#5a340a" stroke-width="0.5" stroke-linejoin="round" />
<path d="M415.1,485.4 L422.6,481.9 L428.7,488.9 L419.1,492.4Z" fill="#dc9840" stroke="#3a2208" stroke-width="0.7" stroke-linejoin="round" />
<path d="M418.9,486.4 L421.9,485.0 L424.3,487.8 L420.5,489.3Z" fill="none" stroke="#5a340a" stroke-width="0.5" stroke-linejoin="round" />
<path d="M401.9,511.3 L410.1,506.9 L413.8,514.6 L404.6,517.9Z" fill="#dc9840" stroke="#3a2208" stroke-width="0.7" stroke-linejoin="round" />
<path d="M405.3,512.1 L408.6,510.4 L410.1,513.5 L406.4,514.8Z" fill="none" stroke="#5a340a" stroke-width="0.5" stroke-linejoin="round" />
<path d="M421.7,507.4 L428.7,504.7 L433.6,510.9 L425.2,514.6Z" fill="#dc9840" stroke="#3a2208" stroke-width="0.7" stroke-linejoin="round" />
<path d="M425.1,508.6 L427.9,507.5 L429.8,510.0 L426.5,511.5Z" fill="none" stroke="#5a340a" stroke-width="0.5" stroke-linejoin="round" />
<path d="M462.6,517.9 L470.1,515.3 L472.7,522.3 L468.3,526.3Z" fill="#dc9840" stroke="#3a2208" stroke-width="0.7" stroke-linejoin="round" />
<path d="M466.1,519.4 L469.1,518.4 L470.1,521.2 L468.4,522.8Z" fill="none" stroke="#5a340a" stroke-width="0.5" stroke-linejoin="round" />
<path d="M445.9,526.7 L454.0,524.5 L459.9,533.3 L452.5,538.6Z" fill="#dc9840" stroke="#3a2208" stroke-width="0.7" stroke-linejoin="round" />
<path d="M450.2,529.1 L453.5,528.3 L455.8,531.8 L452.8,533.9Z" fill="none" stroke="#5a340a" stroke-width="0.5" stroke-linejoin="round" />
<path d="M482.6,510.2 L491.4,507.4 L494.7,513.5 L488.1,517.5Z" fill="#dc9840" stroke="#3a2208" stroke-width="0.7" stroke-linejoin="round" />
<path d="M486.5,511.4 L490.1,510.2 L491.4,512.7 L488.7,514.3Z" fill="none" stroke="#5a340a" stroke-width="0.5" stroke-linejoin="round" />
<path d="M415.1,447.1 L422.6,443.6 L430.9,452.0 L422.6,455.9Z" fill="#dc9840" stroke="#3a2208" stroke-width="0.7" stroke-linejoin="round" />
<path d="M419.7,448.7 L422.7,447.3 L426.1,450.6 L422.7,452.2Z" fill="none" stroke="#5a340a" stroke-width="0.5" stroke-linejoin="round" />
<path d="M448.5,441.0 L459.5,438.8 L460.8,446.7 L451.2,450.2Z" fill="#dc9840" stroke="#3a2208" stroke-width="0.7" stroke-linejoin="round" />
<path d="M452.4,442.9 L456.8,442.0 L457.3,445.2 L453.5,446.6Z" fill="none" stroke="#5a340a" stroke-width="0.5" stroke-linejoin="round" />
<path d="M505.7,445.4 L518.8,442.1 L521.5,450.2 L510.1,453.1Z" fill="#dc9840" stroke="#3a2208" stroke-width="0.7" stroke-linejoin="round" />
<path d="M510.7,446.8 L515.9,445.5 L517.0,448.7 L512.4,449.8Z" fill="none" stroke="#5a340a" stroke-width="0.5" stroke-linejoin="round" />
<path d="M532.0,436.6 L547.4,434.4 L551.4,445.4 L538.6,449.8Z" fill="#dc9840" stroke="#3a2208" stroke-width="0.7" stroke-linejoin="round" />
<path d="M538.2,439.6 L544.4,438.7 L546.0,443.1 L540.9,444.8Z" fill="none" stroke="#5a340a" stroke-width="0.5" stroke-linejoin="round" />
<filter id="msh" x="-20%" y="-20%" width="150%" height="150%"><feGaussianBlur stdDeviation="1.5"/></filter>
<path d="M521,501 L557.5,527 L553.5,533 L517,506.5Z" fill="#8a8a60" opacity="0.3" transform="translate(2.5,2.5)" filter="url(#msh)"/>
<path d="M522.5,498.5 L559.5,524.5 L555.5,530.8 L518.5,504.5Z" fill="#4f7fd6"/>
<path d="M522.5,498.5 L559.5,524.5 L558.3,526.3 L521.3,500.3Z" fill="#7aa2e6"/>
<path d="M551.5,519 L559.5,524.5 L555.5,530.8 L547.5,525.2Z" fill="#3560c4"/>
<ellipse cx="502.2" cy="485.2" rx="25" ry="21" fill="#e6f7ea"/>
<path d="M480.5,474.8 L491.3,467.0 L505.3,465.5 L517.7,470.1 L521.5,476.3 L516.1,481.0 L518.4,487.2 L513.0,491.8 L502.2,492.6 L500.6,498.0 L494.4,500.3 L485.1,494.9 L479.7,485.6Z" fill="#dcae8c" stroke="#b08a70" stroke-width="0.6" stroke-linejoin="round" />
<path d="M485.1,473.2 L496.0,488.7" stroke="#a8846c" stroke-width="0.6"/>
<path d="M489.8,470.1 L500.6,485.6" stroke="#a8846c" stroke-width="0.6"/>
<path d="M503.7,482.5 L511.5,477.9" stroke="#a8846c" stroke-width="0.6"/>
<path d="M511.5,477.9 L517.7,483.3" stroke="#a8846c" stroke-width="0.6"/>
<path d="M496.0,494.9 L498.3,499.6" stroke="#a8846c" stroke-width="0.6"/>
<path d="M492.9,491.8 L502.2,490.6" stroke="#a8846c" stroke-width="0.6"/>
<ellipse cx="502.2" cy="485.2" rx="26.8" ry="22.6" fill="none" stroke="#5b82d4" stroke-width="1.0"/>
<ellipse cx="502.2" cy="485.2" rx="25.2" ry="21.1" fill="none" stroke="#f1f5ff" stroke-width="2.4"/>
<ellipse cx="502.2" cy="485.2" rx="23.6" ry="19.6" fill="none" stroke="#6a8edb" stroke-width="0.9"/>
<filter id="ash" x="-20%" y="-50%" width="140%" height="220%"><feGaussianBlur stdDeviation="1.6"/></filter>
<path d="M583.7,427.5 L629.3,427.5 L629.3,420.3 L652.4,430.3 L629.3,440.4 L629.3,433 L583.7,433Z" fill="#6b6b3a" opacity="0.45" transform="translate(3,3.5)" filter="url(#ash)"/>
<path d="M583.7,427.5 L629.3,427.5 L629.3,420.3 L652.4,430.3 L629.3,440.4 L629.3,433 L583.7,433Z" fill="#4464a6"/>
</g>
<g id="scale">
<path d="M724.0,509.7 L778.0,509.7 L777.0,521.9 C759.0,524.9 743.0,524.9 725.0,521.9Z" fill="#b5400c" stroke="#5a1c00" stroke-width="0.8"/>
<path d="M733.0,509.7 L733.0,523.4" stroke="#6a2000" stroke-width="0.8"/>
<path d="M742.0,509.7 L742.0,523.4" stroke="#6a2000" stroke-width="0.8"/>
<path d="M751.0,509.7 L751.0,523.4" stroke="#6a2000" stroke-width="0.8"/>
<path d="M760.0,509.7 L760.0,523.4" stroke="#6a2000" stroke-width="0.8"/>
<path d="M769.0,509.7 L769.0,523.4" stroke="#6a2000" stroke-width="0.8"/>
<path d="M743.6,361.5 L768.2,374.5 L802.5,399.1 L811.5,420.0 L811.4,444.9 L805.8,462.9 L794.3,484.2 L784.5,500.5 L776.3,511.0 L724.0,511.0 L712.5,494.0 L701.1,479.3 L691.3,464.5 L685.4,444.9 L684.7,428.5 L686.4,415.4 L691.3,395.8 L719.1,374.5Z" fill="#9a6a08" stroke="#111" stroke-width="1.3" stroke-linejoin="round"/>
<path d="M732.2,383.7 L732.8,384.3 L733.8,384.9 L734.9,385.8 L736.0,387.0 L737.0,388.6 L737.7,390.9 L738.2,393.9 L738.5,397.5 L738.7,401.6 L738.7,406.0 L738.7,410.7 L738.7,415.4 L738.6,420.5 L738.3,426.1 L738.0,431.9 L737.7,437.7 L737.5,443.2 L737.4,448.2 L737.6,452.6 L738.0,456.8 L738.5,460.6 L738.9,464.3 L739.3,467.7 L739.4,471.1 L739.3,474.3 L739.3,477.5 L739.1,480.5 L738.7,483.2 L738.0,485.5 L737.1,487.4 L735.7,488.9 L733.9,490.0 L731.8,490.7 L729.7,491.1 L727.5,491.1 L725.6,490.7 L723.9,489.9 L722.3,488.8 L720.7,487.2 L719.1,485.4 L717.5,483.2 L715.8,480.9 L713.9,478.2 L711.9,475.0 L709.8,471.6 L707.8,468.0 L705.9,464.5 L704.4,461.3 L703.0,458.2 L701.8,455.1 L700.7,452.2 L699.9,449.2 L699.2,446.2 L698.8,443.3 L698.6,440.3 L698.7,437.4 L699.0,434.6 L699.5,431.6 L700.2,428.5 L701.1,425.3 L702.3,421.6 L703.7,417.7 L705.4,413.6 L707.2,409.6 L709.1,405.8 L710.9,402.4 L712.7,399.3 L714.7,396.4 L716.6,393.8 L718.6,391.4 L720.5,389.4 L722.4,387.6 L724.2,386.3 L726.1,385.4 L728.0,384.7 L729.7,384.3 L731.1,384.0 L732.2,383.7Z" fill="#c9996b" stroke="#111" stroke-width="1.0" stroke-linejoin="round"/>
<path d="M755.7,383.7 L756.9,383.8 L758.4,383.9 L760.2,384.0 L762.2,384.3 L764.4,385.0 L766.5,386.0 L768.8,387.5 L771.2,389.4 L773.8,391.6 L776.3,394.0 L778.9,396.5 L781.3,399.1 L783.6,401.8 L786.0,404.8 L788.3,407.9 L790.5,411.0 L792.5,414.1 L794.3,417.1 L796.0,419.9 L797.6,422.6 L799.0,425.3 L800.2,427.9 L801.1,430.6 L801.5,433.4 L801.6,436.4 L801.2,439.4 L800.5,442.4 L799.7,445.5 L798.6,448.5 L797.6,451.4 L796.5,454.3 L795.3,457.0 L794.0,459.7 L792.6,462.4 L791.0,465.1 L789.4,467.8 L787.7,470.6 L785.9,473.6 L784.0,476.6 L782.0,479.4 L780.0,482.0 L778.0,484.2 L775.9,485.9 L773.7,487.4 L771.4,488.7 L769.2,489.6 L767.0,490.3 L764.9,490.7 L762.8,490.9 L760.6,490.8 L758.5,490.5 L756.5,489.9 L754.8,488.9 L753.4,487.4 L752.5,485.5 L751.9,483.2 L751.5,480.5 L751.3,477.5 L751.2,474.3 L751.2,471.1 L751.2,467.7 L751.4,464.3 L751.8,460.6 L752.1,456.8 L752.4,452.6 L752.5,448.2 L752.3,443.2 L752.1,437.6 L751.8,431.8 L751.4,426.0 L751.1,420.4 L750.8,415.4 L750.6,410.9 L750.3,406.6 L750.0,402.5 L749.9,398.8 L749.9,395.4 L750.2,392.5 L750.8,390.2 L751.8,388.2 L752.9,386.7 L754.1,385.5 L755.1,384.5 L755.7,383.7Z" fill="#c9996b" stroke="#111" stroke-width="1.0" stroke-linejoin="round"/>
<path d="M730.5366492146596,395.81151832460733 L731.5183246073299,461.25654450261777" fill="none" stroke="#1a1a1a" stroke-width="0.9"/>
<path d="M723.9921465968587,402.35602094240835 L728.9005235602094,462.8926701570681" fill="none" stroke="#1a1a1a" stroke-width="0.9"/>
<path d="M718.4293193717277,408.9005235602094 L725.6282722513089,464.5287958115183" fill="none" stroke="#1a1a1a" stroke-width="0.9"/>
<path d="M712.5392670157069,420.35340314136124 L722.3560209424083,466.1649214659686" fill="none" stroke="#1a1a1a" stroke-width="0.9"/>
<path d="M706.6492146596859,433.44240837696333 L719.738219895288,469.4371727748691" fill="none" stroke="#1a1a1a" stroke-width="0.9"/>
<path d="M702.7225130890052,448.16753926701574 L718.4293193717277,474.3455497382199" fill="none" stroke="#1a1a1a" stroke-width="0.9"/>
<path d="M758.3507853403141,395.81151832460733 L757.696335078534,461.25654450261777" fill="none" stroke="#1a1a1a" stroke-width="0.9"/>
<path d="M768.1675392670157,399.08376963350787 L761.6230366492147,461.25654450261777" fill="none" stroke="#1a1a1a" stroke-width="0.9"/>
<path d="M775.3664921465969,402.35602094240835 L766.5314136125654,461.25654450261777" fill="none" stroke="#1a1a1a" stroke-width="0.9"/>
<path d="M782.8926701570681,412.17277486910996 L771.4397905759163,462.8926701570681" fill="none" stroke="#1a1a1a" stroke-width="0.9"/>
<path d="M790.4188481675393,425.26178010471205 L776.348167539267,466.1649214659686" fill="none" stroke="#1a1a1a" stroke-width="0.9"/>
<path d="M795.9816753926701,439.9869109947644 L779.6204188481676,471.0732984293194" fill="none" stroke="#1a1a1a" stroke-width="0.9"/>
<path d="M768.1675392670157,399.08376963350787 L768.1675392670157,431.80628272251306" fill="none" stroke="#1a1a1a" stroke-width="0.9"/>
<ellipse transform="translate(730.5,480.9) rotate(-12)" rx="11" ry="21" fill="#3f3f3f" stroke="#111" stroke-width="0.8"/>
<ellipse transform="translate(768.2,479.6) rotate(8)" rx="11.5" ry="21" fill="#3f3f3f" stroke="#111" stroke-width="0.8"/>
<path d="M822.1596858638743,379.4502617801047 L769.803664921466,379.4502617801047" fill="none" stroke="#1a1a1a" stroke-width="1.0"/>
<path d="M841.7931937172775,425.26178010471205 L730.5366492146596,425.26178010471205" fill="none" stroke="#1a1a1a" stroke-width="1.0"/>
<path d="M841.7931937172775,425.26178010471205 L789.4371727748692,438.35078534031413" fill="none" stroke="#1a1a1a" stroke-width="1.0"/>
<path d="M810.7068062827225,484.16230366492147 L732.17277486911,474.3455497382199" fill="none" stroke="#1a1a1a" stroke-width="1.0"/>
<path d="M810.7068062827225,484.16230366492147 L771.4397905759163,490.7068062827225" fill="none" stroke="#1a1a1a" stroke-width="1.0"/>
</g>
<g id="labels">
<text transform="translate(3,88) scale(1.305,1)" text-anchor="start">Ветви</text>
<text transform="translate(3,253) scale(1.305,1)" text-anchor="start">Ствол</text>
<text transform="translate(400,14) scale(1.305,1)" text-anchor="middle">Упрощённая схема строения</text>
<text transform="translate(400,30) scale(1.305,1)" text-anchor="middle">вегетативных органов</text>
<text transform="translate(630,73) scale(1.305,1)" text-anchor="end">Зелёные листья</text>
<text transform="translate(630,88) scale(1.305,1)" text-anchor="end">(иглы)</text>
<text transform="translate(630,111) scale(1.305,1)" text-anchor="end">Почка в пазухе</text>
<text transform="translate(630,126) scale(1.305,1)" text-anchor="end">чешуевидного листа</text>
<text transform="translate(630,152) scale(1.305,1)" text-anchor="end">Ветви</text>
<text transform="translate(630,175) scale(1.305,1)" text-anchor="end">Чешуевидный лист,</text>
<text transform="translate(630,190) scale(1.305,1)" text-anchor="end">в пазухе которого</text>
<text transform="translate(630,205) scale(1.305,1)" text-anchor="end">находится</text>
<text transform="translate(630,220) scale(1.305,1)" text-anchor="end">удлинённый побег</text>
<text transform="translate(630,245) scale(1.305,1)" text-anchor="end">Рубцы после отпадания</text>
<text transform="translate(630,260) scale(1.305,1)" text-anchor="end">листьев и побегов</text>
<text transform="translate(177,245) scale(1.305,1)" text-anchor="start">Укороченный побег</text>
<text transform="translate(177,260) scale(1.305,1)" text-anchor="start">(с ограниченным ростом)</text>
<text transform="translate(651,14) scale(1.305,1)" text-anchor="start">Группа мужских шишек</text>
<text transform="translate(907,39) scale(1.305,1)" text-anchor="end">Молодые</text>
<text transform="translate(907,55) scale(1.305,1)" text-anchor="end">листья</text>
<text transform="translate(907,109) scale(1.305,1)" text-anchor="end">Мужские</text>
<text transform="translate(907,124) scale(1.305,1)" text-anchor="end">шишки</text>
<text transform="translate(907,168) scale(1.305,1)" text-anchor="end">Листья</text>
<text transform="translate(907,221) scale(1.305,1)" text-anchor="end">Укороченный</text>
<text transform="translate(907,236) scale(1.305,1)" text-anchor="end">побег</text>
<text transform="translate(907,257) scale(1.305,1)" text-anchor="end">Рубец после</text>
<text transform="translate(907,273) scale(1.305,1)" text-anchor="end">отпадания</text>
<text transform="translate(907,288) scale(1.305,1)" text-anchor="end">укороченного</text>
<text transform="translate(907,304) scale(1.305,1)" text-anchor="end">побега</text>
<text transform="translate(272,346) scale(1.305,1)" text-anchor="end">Молодая</text>
<text transform="translate(272,361) scale(1.305,1)" text-anchor="end">женская</text>
<text transform="translate(272,376) scale(1.305,1)" text-anchor="end">шишка</text>
<text transform="translate(272,407) scale(1.305,1)" text-anchor="end">Молодой</text>
<text transform="translate(272,422) scale(1.305,1)" text-anchor="end">лист</text>
<text transform="translate(272,469) scale(1.305,1)" text-anchor="end">Чешуевидный</text>
<text transform="translate(272,485) scale(1.305,1)" text-anchor="end">лист</text>
<text transform="translate(118,559) scale(1.305,1)" text-anchor="middle">Женская шишка</text>
<text transform="translate(118,574) scale(1.305,1)" text-anchor="middle">первого года до опыления</text>
<text transform="translate(465,559) scale(1.305,1)" text-anchor="middle">Женская шишка</text>
<text transform="translate(465,574) scale(1.305,1)" text-anchor="middle">в конце третьего года</text>
<text transform="translate(755.5,559) scale(1.305,1)" text-anchor="middle">Вид семенной чешуи</text>
<text transform="translate(755.5,574) scale(1.305,1)" text-anchor="middle">с верхней стороны</text>
<text transform="translate(907,375) scale(1.305,1)" text-anchor="end">Семенная</text>
<text transform="translate(907,390) scale(1.305,1)" text-anchor="end">чешуя</text>
<text transform="translate(907,421) scale(1.305,1)" text-anchor="end">Крылья</text>
<text transform="translate(907,436) scale(1.305,1)" text-anchor="end">семян</text>
<text transform="translate(907,480) scale(1.305,1)" text-anchor="end">Два зрелых</text>
<text transform="translate(907,495) scale(1.305,1)" text-anchor="end">семени</text>
</g>
</svg>
</body></html>
